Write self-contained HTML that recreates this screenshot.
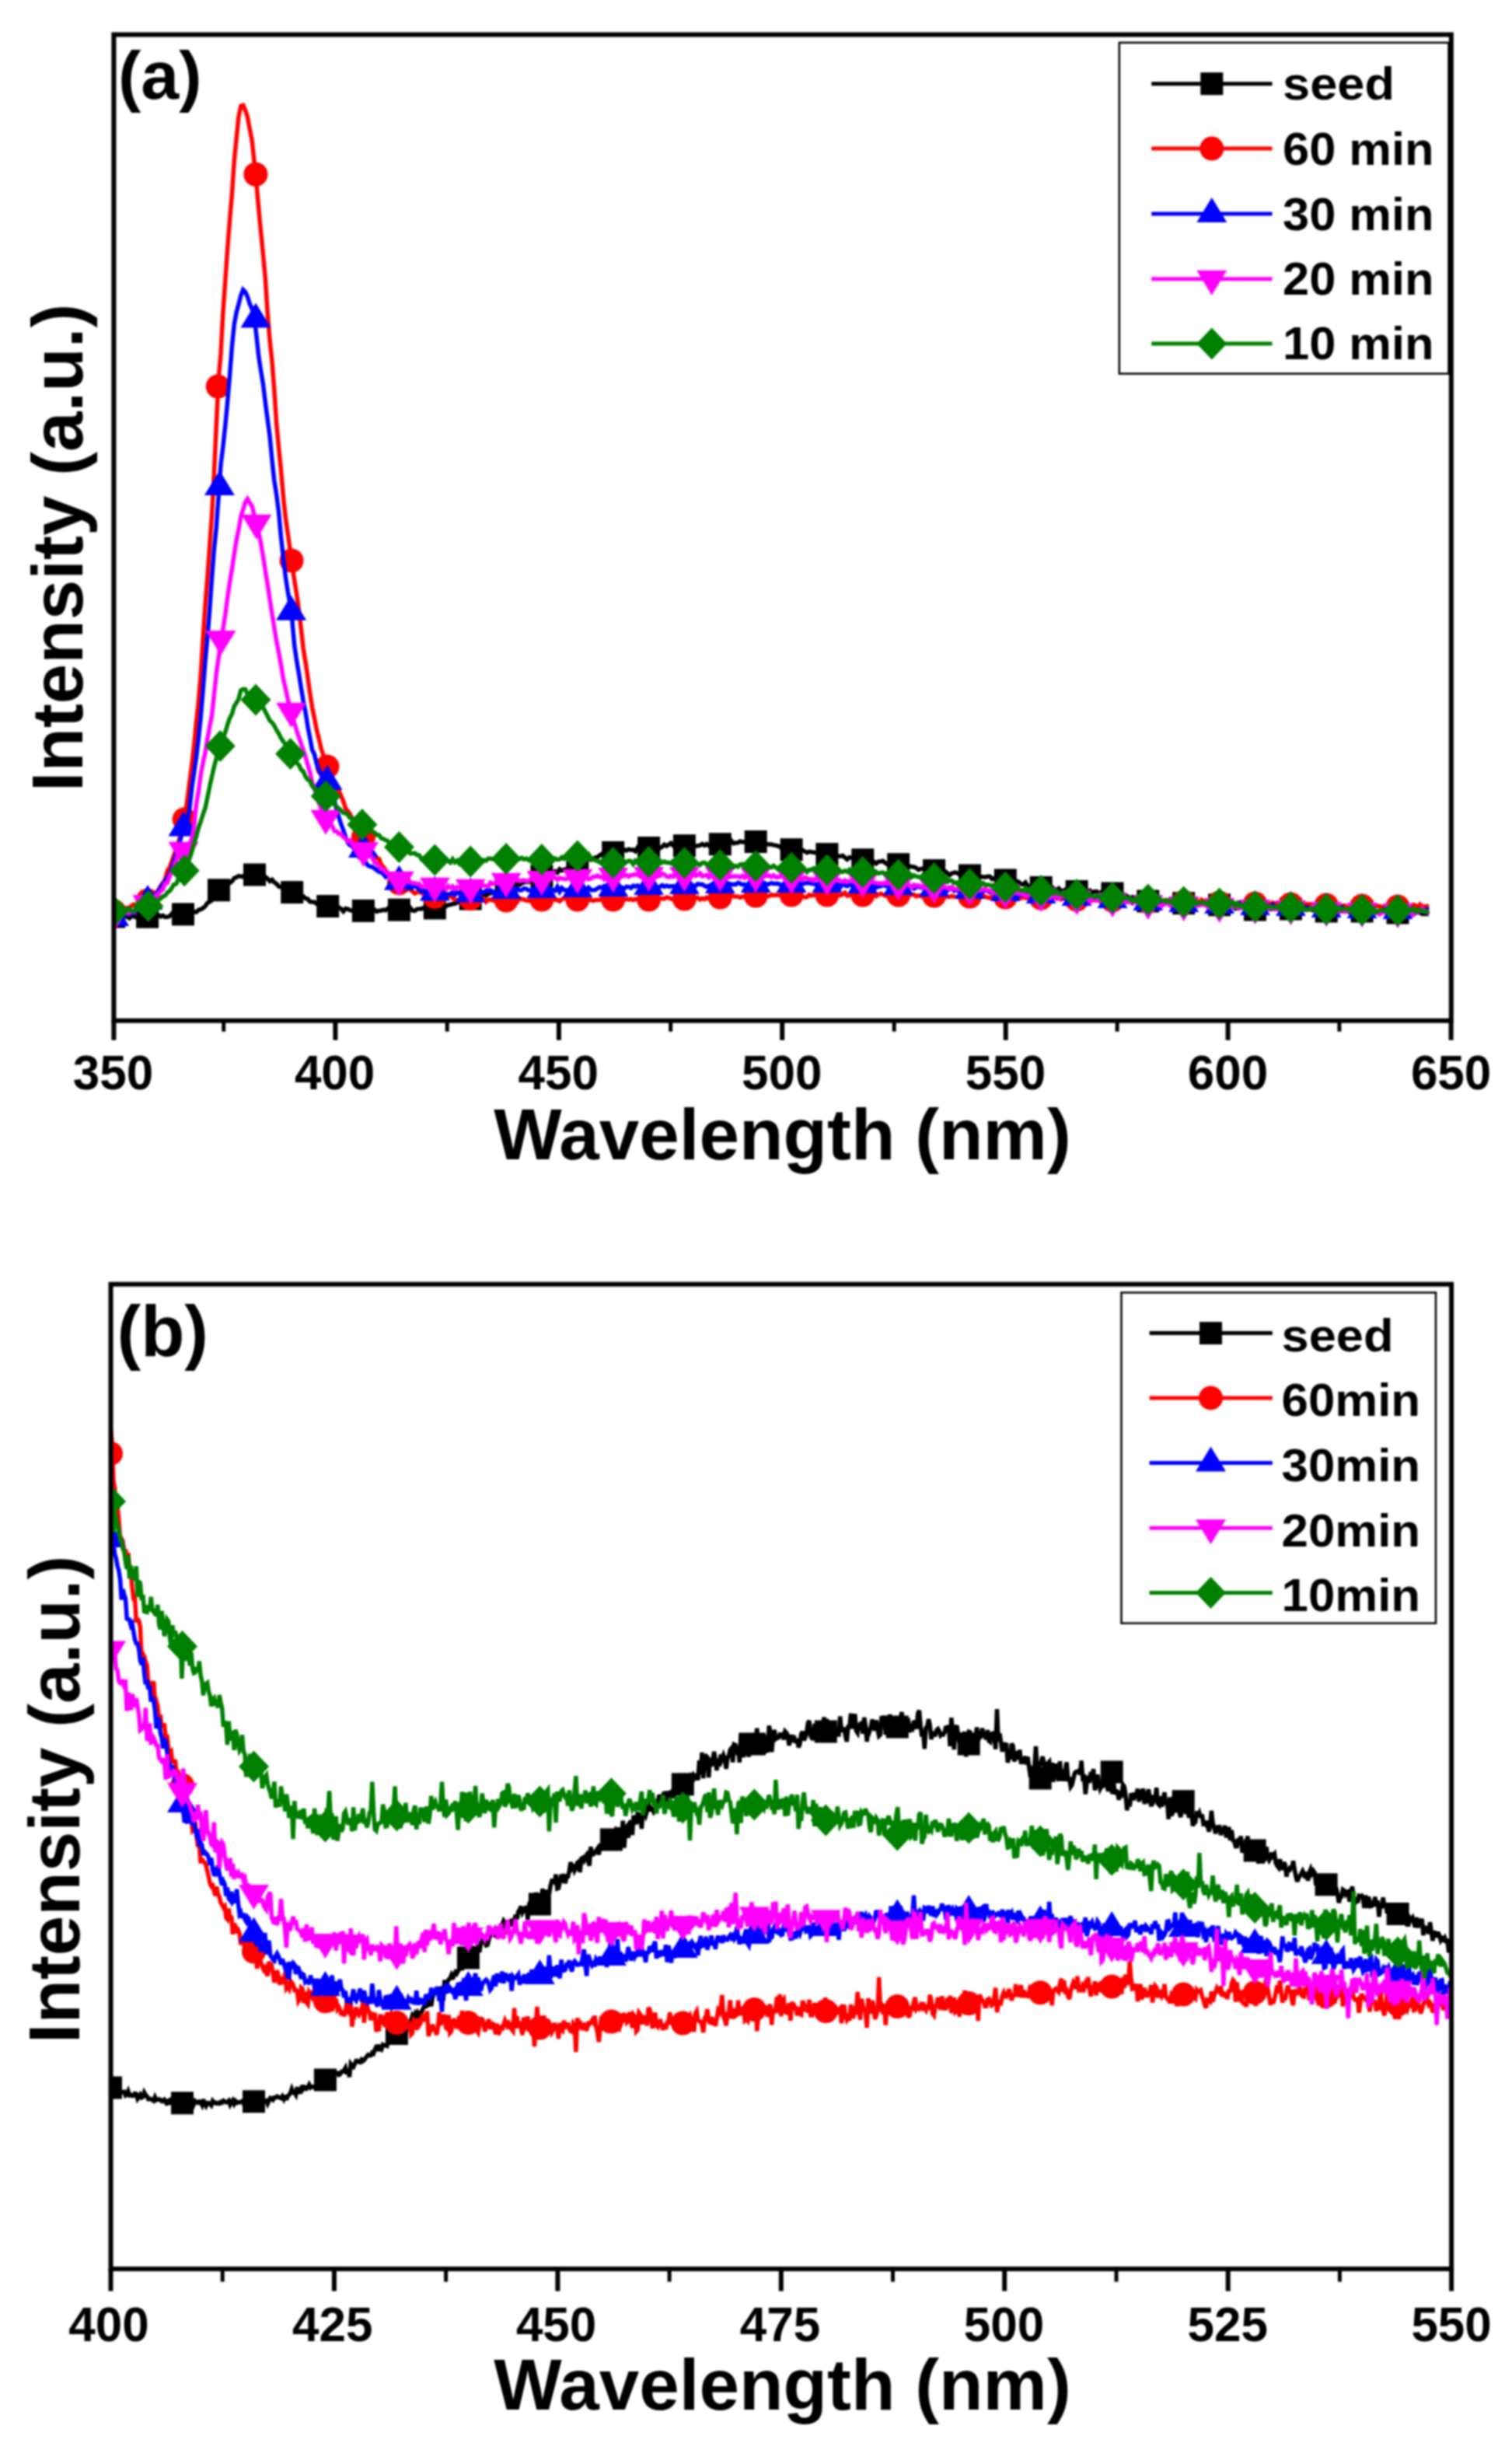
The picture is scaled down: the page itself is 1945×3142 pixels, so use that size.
<!DOCTYPE html>
<html lang="en"><head><meta charset="utf-8"><title>PL spectra</title>
<style>html,body{margin:0;padding:0;background:#fff}svg{display:block;filter:blur(0.9px)}</style>
</head><body>
<svg width="1945" height="3142" viewBox="0 0 1945 3142" font-family='"Liberation Sans", sans-serif' font-weight="bold">
<rect width="1945" height="3142" fill="#fff"/>
<clipPath id="ca"><rect x="146.4" y="44.5" width="1720.4" height="1268.2"/></clipPath>
<g clip-path="url(#ca)">
<polyline points="146.4,1179 149.3,1179.4 152.1,1178.7 155,1177.9 157.9,1178.5 160.7,1177.8 163.6,1179.2 166.5,1180.9 169.3,1178.5 172.2,1178.4 175.1,1179.8 177.9,1179.7 180.8,1179.3 183.7,1178 186.5,1179.2 189.4,1180.1 192.3,1177.5 195.1,1178.6 198,1176.7 200.9,1177.5 203.7,1176.7 206.6,1178.8 209.5,1177.4 212.3,1179.4 215.2,1179.2 218.1,1178.6 221,1175.3 223.8,1177.4 226.7,1177.6 229.6,1177.2 232.4,1174.5 235.3,1175.3 238.2,1174.1 241,1173.8 243.9,1175.6 246.8,1172.6 249.6,1172.8 252.5,1173.2 255.4,1170.2 258.2,1169.6 261.1,1167.9 264,1165.5 266.8,1161.3 269.7,1159.9 272.6,1157.8 275.4,1150 278.3,1149.3 281.2,1145.3 284,1141.9 286.9,1143.4 289.8,1140.1 292.6,1135.8 295.5,1135.5 298.4,1133.5 301.2,1129.5 304.1,1128.3 307,1126.6 309.8,1127.1 312.7,1127.7 315.6,1124.7 318.4,1125.6 321.3,1124.5 324.2,1125.2 327,1123.5 329.9,1124.4 332.8,1125.6 335.6,1128 338.5,1129.6 341.4,1127.8 344.2,1130.1 347.1,1133.4 350,1131.4 352.8,1134.8 355.7,1136.7 358.6,1140 361.4,1140.9 364.3,1141.2 367.2,1142.8 370.1,1144.5 372.9,1148.3 375.8,1147.1 378.7,1148.6 381.5,1150.7 384.4,1151.5 387.3,1152.7 390.1,1152.8 393,1155.5 395.9,1156.3 398.7,1159.6 401.6,1160.1 404.5,1160.3 407.3,1162.3 410.2,1162 413.1,1164.7 415.9,1164.2 418.8,1165.6 421.7,1163.8 424.5,1166.5 427.4,1164.4 430.3,1164.5 433.1,1167.3 436,1167 438.9,1168.9 441.7,1172.1 444.6,1168.5 447.5,1169.2 450.3,1170.6 453.2,1171.3 456.1,1170.7 458.9,1170.8 461.8,1172.2 464.7,1172 467.5,1170.1 470.4,1171.3 473.3,1171.4 476.1,1170 479,1171.6 481.9,1170.1 484.7,1172.4 487.6,1171.3 490.5,1171.1 493.3,1170.1 496.2,1170.7 499.1,1168.1 501.9,1169.1 504.8,1171 507.7,1167.6 510.6,1171.4 513.4,1167.9 516.3,1171.1 519.2,1168.9 522,1170.9 524.9,1170 527.8,1167.7 530.6,1171.2 533.5,1171.4 536.4,1169.3 539.2,1168.9 542.1,1168.9 545,1167.7 547.8,1170.2 550.7,1167.9 553.6,1168.4 556.4,1167.2 559.3,1167.2 562.2,1166 565,1168.9 567.9,1166.6 570.8,1167.4 573.6,1165.5 576.5,1163.9 579.4,1163.5 582.2,1162.4 585.1,1162.2 588,1160.8 590.8,1160 593.7,1157.7 596.6,1157.5 599.4,1159.8 602.3,1155.9 605.2,1154.6 608,1155.7 610.9,1156.3 613.8,1151.8 616.6,1152.6 619.5,1151.3 622.4,1149 625.2,1151.5 628.1,1149.7 631,1149 633.8,1147.1 636.7,1147.9 639.6,1145.8 642.4,1145.4 645.3,1143.3 648.2,1142.3 651.1,1144.7 653.9,1141.4 656.8,1141.5 659.7,1140.1 662.5,1138.6 665.4,1137.5 668.3,1138 671.1,1135.8 674,1134.9 676.9,1134.1 679.7,1134.6 682.6,1132.9 685.5,1131.5 688.3,1129.3 691.2,1127.2 694.1,1129.2 696.9,1128.3 699.8,1125.9 702.7,1125.8 705.5,1125.2 708.4,1124.3 711.3,1123.5 714.1,1120.7 717,1122.4 719.9,1117.9 722.7,1119.7 725.6,1118.3 728.5,1117.8 731.3,1118.2 734.2,1116.8 737.1,1112.4 739.9,1110.8 742.8,1113.1 745.7,1109.7 748.5,1110 751.4,1110 754.3,1105.7 757.1,1104 760,1105.9 762.9,1104.5 765.7,1103 768.6,1102.3 771.5,1100.1 774.3,1098.3 777.2,1099.1 780.1,1097.2 782.9,1095.5 785.8,1097.6 788.7,1096.3 791.5,1096.4 794.4,1094.1 797.3,1094 800.2,1093.2 803,1092.9 805.9,1093.9 808.8,1092.2 811.6,1093.3 814.5,1092.9 817.4,1094.8 820.2,1090 823.1,1092.7 826,1091.2 828.8,1091 831.7,1088.9 834.6,1089.9 837.4,1091.2 840.3,1089.9 843.2,1089.9 846,1089.3 848.9,1090.9 851.8,1089.2 854.6,1086.2 857.5,1088 860.4,1086.2 863.2,1084.4 866.1,1087.7 869,1090 871.8,1088.2 874.7,1086.5 877.6,1086.6 880.4,1089.2 883.3,1087.8 886.2,1087.5 889,1087.2 891.9,1087.2 894.8,1088.1 897.6,1087.7 900.5,1087.1 903.4,1085.4 906.2,1087.3 909.1,1085.6 912,1087.8 914.8,1084.6 917.7,1085.9 920.6,1086 923.4,1084.1 926.3,1087.9 929.2,1087.4 932,1084.7 934.9,1086.1 937.8,1085.3 940.7,1081.2 943.5,1084.7 946.4,1084 949.3,1083.9 952.1,1082.1 955,1082.9 957.9,1082.8 960.7,1084.4 963.6,1083.2 966.5,1082.6 969.3,1084.5 972.2,1081.8 975.1,1082.1 977.9,1080.5 980.8,1085.3 983.7,1085 986.5,1085.6 989.4,1085.9 992.3,1086 995.1,1086.9 998,1087.2 1000.9,1088.1 1003.7,1089.3 1006.6,1092 1009.5,1091.6 1012.3,1091.5 1015.2,1091.4 1018.1,1091.9 1020.9,1095.2 1023.8,1094.2 1026.7,1094.1 1029.5,1093.9 1032.4,1093.3 1035.3,1095 1038.1,1096.6 1041,1095.3 1043.9,1095.8 1046.7,1096.2 1049.6,1096.9 1052.5,1095 1055.3,1097.2 1058.2,1096.7 1061.1,1099.4 1063.9,1097.6 1066.8,1099.8 1069.7,1101.4 1072.5,1099.5 1075.4,1099.6 1078.3,1101 1081.2,1101.3 1084,1100.4 1086.9,1102.8 1089.8,1105.3 1092.6,1102.8 1095.5,1103.3 1098.4,1102.7 1101.2,1104.9 1104.1,1103.3 1107,1103.9 1109.8,1107.5 1112.7,1105 1115.6,1108 1118.4,1108.9 1121.3,1107.7 1124.2,1108.4 1127,1110.6 1129.9,1108.1 1132.8,1107.9 1135.6,1107.3 1138.5,1109.5 1141.4,1111.7 1144.2,1111.4 1147.1,1109.3 1150,1109.8 1152.8,1110.6 1155.7,1112.1 1158.6,1111.9 1161.4,1112.9 1164.3,1113.4 1167.2,1113.2 1170,1114 1172.9,1114.8 1175.8,1115 1178.6,1116.3 1181.5,1118.6 1184.4,1117.4 1187.2,1117.2 1190.1,1115.5 1193,1118.7 1195.8,1116.1 1198.7,1117.3 1201.6,1120.7 1204.4,1121 1207.3,1120.3 1210.2,1118.7 1213,1120.8 1215.9,1120.8 1218.8,1122.9 1221.7,1125.5 1224.5,1123.2 1227.4,1122.3 1230.3,1122.2 1233.1,1124 1236,1124.2 1238.9,1123.3 1241.7,1125.4 1244.6,1124.1 1247.5,1127.4 1250.3,1127.8 1253.2,1128.2 1256.1,1126.5 1258.9,1128.1 1261.8,1127.6 1264.7,1127.7 1267.5,1128.1 1270.4,1127.2 1273.3,1127.3 1276.1,1130.6 1279,1129.7 1281.9,1130.6 1284.7,1132 1287.6,1128.9 1290.5,1130.5 1293.3,1132.2 1296.2,1133 1299.1,1132.5 1301.9,1134.9 1304.8,1134.5 1307.7,1133.2 1310.5,1134.3 1313.4,1137.2 1316.3,1137.4 1319.1,1135 1322,1139.9 1324.9,1139.5 1327.7,1141.1 1330.6,1139.4 1333.5,1140.1 1336.3,1139.5 1339.2,1144.7 1342.1,1141.6 1344.9,1144.3 1347.8,1141.8 1350.7,1143.2 1353.5,1141.2 1356.4,1143.2 1359.3,1145.3 1362.1,1142.7 1365,1146.1 1367.9,1145.4 1370.8,1143.9 1373.6,1144.9 1376.5,1145.2 1379.4,1146 1382.2,1145.6 1385.1,1145.4 1388,1146.3 1390.8,1145.5 1393.7,1145.4 1396.6,1147.1 1399.4,1148.5 1402.3,1145.4 1405.2,1147.6 1408,1146.8 1410.9,1146.5 1413.8,1149 1416.6,1147.4 1419.5,1150.2 1422.4,1147.4 1425.2,1149.1 1428.1,1148.5 1431,1148 1433.8,1150.1 1436.7,1149.6 1439.6,1151.1 1442.4,1150.9 1445.3,1150.2 1448.2,1152.2 1451,1153.2 1453.9,1155.2 1456.8,1153.6 1459.6,1155.5 1462.5,1154.1 1465.4,1157.9 1468.2,1156.3 1471.1,1155.9 1474,1158.6 1476.8,1160.4 1479.7,1157.3 1482.6,1158.1 1485.4,1158.7 1488.3,1158.4 1491.2,1160.6 1494,1159.2 1496.9,1159.5 1499.8,1161.3 1502.6,1159.8 1505.5,1161.4 1508.4,1159.7 1511.3,1159.6 1514.1,1158.9 1517,1163.8 1519.9,1161.1 1522.7,1162 1525.6,1161.8 1528.5,1162.2 1531.3,1162.2 1534.2,1164.7 1537.1,1161 1539.9,1160.4 1542.8,1161.2 1545.7,1160.9 1548.5,1163.7 1551.4,1164 1554.3,1161.8 1557.1,1161.3 1560,1162.8 1562.9,1165.3 1565.7,1159.9 1568.6,1164.5 1571.5,1162.6 1574.3,1165.7 1577.2,1163.4 1580.1,1164.8 1582.9,1163.7 1585.8,1165 1588.7,1168.6 1591.5,1168.4 1594.4,1167.3 1597.3,1167.2 1600.1,1166.3 1603,1168.7 1605.9,1169.5 1608.7,1169.7 1611.6,1169.8 1614.5,1168.5 1617.3,1169.9 1620.2,1169.9 1623.1,1171.6 1625.9,1172.3 1628.8,1169.6 1631.7,1168.7 1634.5,1169.5 1637.4,1168.7 1640.3,1168.4 1643.1,1169.2 1646,1167.9 1648.9,1169.9 1651.8,1169 1654.6,1169.4 1657.5,1168.8 1660.4,1168.1 1663.2,1167.8 1666.1,1168.8 1669,1168.6 1671.8,1169.8 1674.7,1169.7 1677.6,1168.2 1680.4,1170.3 1683.3,1168.8 1686.2,1170 1689,1170.7 1691.9,1168.6 1694.8,1171.7 1697.6,1171.9 1700.5,1171.7 1703.4,1171.4 1706.2,1171.5 1709.1,1170.7 1712,1171.6 1714.8,1171.3 1717.7,1172.1 1720.6,1170.4 1723.4,1172.3 1726.3,1172.2 1729.2,1171.8 1732,1171.4 1734.9,1172.7 1737.8,1169.8 1740.6,1172.6 1743.5,1172.3 1746.4,1172.4 1749.2,1172.5 1752.1,1171.2 1755,1171.7 1757.8,1172.9 1760.7,1172.7 1763.6,1172.5 1766.4,1170.4 1769.3,1173.2 1772.2,1174.2 1775,1174.1 1777.9,1173.3 1780.8,1171.1 1783.6,1174.5 1786.5,1173.3 1789.4,1170.3 1792.2,1174.3 1795.1,1172 1798,1172.3 1800.9,1173.3 1803.7,1175.8 1806.6,1173.8 1809.5,1174.7 1812.3,1176.7 1815.2,1176.6 1818.1,1174.4 1820.9,1174.3 1823.8,1173.1 1826.7,1173.9 1829.5,1175.4 1832.4,1175.4 1835.3,1175.1 1838.1,1176.3" fill="none" stroke="#000000" stroke-width="5.5" stroke-linejoin="miter" stroke-miterlimit="3"/>
<rect x="132.1" y="1164.5" width="29" height="29" fill="#000000"/>
<rect x="175.1" y="1164.7" width="29" height="29" fill="#000000"/>
<rect x="221" y="1161.4" width="29" height="29" fill="#000000"/>
<rect x="267" y="1130.3" width="29" height="29" fill="#000000"/>
<rect x="313" y="1110.5" width="29" height="29" fill="#000000"/>
<rect x="361.2" y="1133.1" width="29" height="29" fill="#000000"/>
<rect x="407.2" y="1151" width="29" height="29" fill="#000000"/>
<rect x="452.9" y="1156.9" width="29" height="29" fill="#000000"/>
<rect x="498.9" y="1155.7" width="29" height="29" fill="#000000"/>
<rect x="544.8" y="1153.5" width="29" height="29" fill="#000000"/>
<rect x="590.7" y="1141.5" width="29" height="29" fill="#000000"/>
<rect x="636.6" y="1128.5" width="29" height="29" fill="#000000"/>
<rect x="682.4" y="1112.5" width="29" height="29" fill="#000000"/>
<rect x="728.3" y="1097.5" width="29" height="29" fill="#000000"/>
<rect x="774.2" y="1081.9" width="29" height="29" fill="#000000"/>
<rect x="820.1" y="1076" width="29" height="29" fill="#000000"/>
<rect x="865.9" y="1073.2" width="29" height="29" fill="#000000"/>
<rect x="911.8" y="1071.2" width="29" height="29" fill="#000000"/>
<rect x="957.7" y="1068" width="29" height="29" fill="#000000"/>
<rect x="1003.6" y="1078.2" width="29" height="29" fill="#000000"/>
<rect x="1049.4" y="1084.1" width="29" height="29" fill="#000000"/>
<rect x="1095.3" y="1091.3" width="29" height="29" fill="#000000"/>
<rect x="1141.2" y="1097.2" width="29" height="29" fill="#000000"/>
<rect x="1187.1" y="1105.1" width="29" height="29" fill="#000000"/>
<rect x="1233" y="1111.5" width="29" height="29" fill="#000000"/>
<rect x="1278.8" y="1117.5" width="29" height="29" fill="#000000"/>
<rect x="1324.7" y="1126.9" width="29" height="29" fill="#000000"/>
<rect x="1370.6" y="1132" width="29" height="29" fill="#000000"/>
<rect x="1416.5" y="1134.5" width="29" height="29" fill="#000000"/>
<rect x="1462.3" y="1144.5" width="29" height="29" fill="#000000"/>
<rect x="1508.2" y="1147.2" width="29" height="29" fill="#000000"/>
<rect x="1554.1" y="1149.3" width="29" height="29" fill="#000000"/>
<rect x="1600" y="1155.5" width="29" height="29" fill="#000000"/>
<rect x="1645.9" y="1154.5" width="29" height="29" fill="#000000"/>
<rect x="1691.7" y="1157.5" width="29" height="29" fill="#000000"/>
<rect x="1737.6" y="1157.5" width="29" height="29" fill="#000000"/>
<rect x="1783.5" y="1159.5" width="29" height="29" fill="#000000"/>
<polyline points="146.4,1171 149.3,1171.4 152.1,1171.8 155,1171 157.9,1170.9 160.7,1169.3 163.6,1167.5 166.5,1167.6 169.3,1164.9 172.2,1163.2 175.1,1165.2 177.9,1163.4 180.8,1162.8 183.7,1159 186.5,1159.4 189.4,1157.6 192.3,1155.4 195.1,1151.2 198,1150.9 200.9,1149.2 203.7,1144.9 206.6,1139.5 209.5,1135.8 212.3,1131.5 215.2,1120.2 218.1,1115.7 221,1108 223.8,1099.5 226.7,1092.3 229.6,1083.2 232.4,1073.2 235.3,1062.5 238.2,1049.7 241,1028 243.9,1005.8 246.8,983.2 249.6,958.7 252.5,929.1 255.4,901.9 258.2,868.4 261.1,822.7 264,778.4 266.8,743.4 269.7,702.1 272.6,662 275.4,608.8 278.3,546.3 281.2,486.9 284,455.5 286.9,401.7 289.8,361.2 292.6,320.4 295.5,283.8 298.4,249.9 301.2,207.8 304.1,178.4 307,149.9 309.8,136.3 312.7,135.4 315.6,141.8 318.4,150.4 321.3,166 324.2,180.8 327,207.2 329.9,236 332.8,269 335.6,298.2 338.5,327.6 341.4,359.1 344.2,402.7 347.1,437.9 350,465.5 352.8,501.4 355.7,545.2 358.6,576 361.4,603.9 364.3,637.4 367.2,664.8 370.1,685.2 372.9,705.2 375.8,726.6 378.7,746.1 381.5,763.6 384.4,783.7 387.3,808.4 390.1,833.9 393,851.5 395.9,871.1 398.7,891.3 401.6,909.8 404.5,923.7 407.3,938.4 410.2,949.8 413.1,962.5 415.9,971.2 418.8,982 421.7,987.5 424.5,993.3 427.4,1000.4 430.3,1006.9 433.1,1014.3 436,1017.3 438.9,1023.9 441.7,1030.4 444.6,1039.8 447.5,1043.1 450.3,1047 453.2,1053.2 456.1,1059.9 458.9,1061.8 461.8,1066.4 464.7,1073.1 467.5,1076.6 470.4,1081.4 473.3,1084.4 476.1,1092.1 479,1096.3 481.9,1099.3 484.7,1103.8 487.6,1104.6 490.5,1112.2 493.3,1115 496.2,1119.6 499.1,1123.5 501.9,1125.4 504.8,1126.6 507.7,1132 510.6,1132.8 513.4,1135.3 516.3,1136.6 519.2,1138.6 522,1137.7 524.9,1143.8 527.8,1144 530.6,1146.5 533.5,1149 536.4,1147.7 539.2,1146.4 542.1,1148.7 545,1149.2 547.8,1150.9 550.7,1152.4 553.6,1150.3 556.4,1153.7 559.3,1151.6 562.2,1154.2 565,1153.9 567.9,1153.8 570.8,1154.2 573.6,1153.7 576.5,1153.8 579.4,1152.5 582.2,1154.7 585.1,1157.3 588,1157.5 590.8,1156.8 593.7,1156.1 596.6,1154.4 599.4,1157.2 602.3,1155.4 605.2,1155.5 608,1155.4 610.9,1156 613.8,1155.5 616.6,1156.2 619.5,1155.1 622.4,1156.2 625.2,1159.8 628.1,1157 631,1156.9 633.8,1158.1 636.7,1158.5 639.6,1156.3 642.4,1157.6 645.3,1159.1 648.2,1158.3 651.1,1158.2 653.9,1160 656.8,1157.1 659.7,1158 662.5,1157.2 665.4,1159.7 668.3,1155.1 671.1,1156.7 674,1156.8 676.9,1158.3 679.7,1158.1 682.6,1159 685.5,1155.1 688.3,1158.1 691.2,1156.7 694.1,1156.1 696.9,1157.7 699.8,1155.8 702.7,1154.3 705.5,1156.5 708.4,1155.1 711.3,1156.2 714.1,1157.5 717,1157.4 719.9,1159.1 722.7,1156.7 725.6,1155 728.5,1156 731.3,1155.8 734.2,1155.4 737.1,1157.6 739.9,1156.2 742.8,1154.4 745.7,1157.9 748.5,1156.9 751.4,1157.5 754.3,1157.1 757.1,1157.8 760,1157 762.9,1158.6 765.7,1157.6 768.6,1157.5 771.5,1157.5 774.3,1155.1 777.2,1156.8 780.1,1156.7 782.9,1157.3 785.8,1155.2 788.7,1159.1 791.5,1157.1 794.4,1155.4 797.3,1154.8 800.2,1156.6 803,1156.9 805.9,1156.1 808.8,1157.1 811.6,1156.2 814.5,1157.7 817.4,1156.1 820.2,1156.9 823.1,1158.3 826,1160.3 828.8,1155.7 831.7,1156.4 834.6,1155.9 837.4,1158 840.3,1155.5 843.2,1156.3 846,1156.9 848.9,1155.6 851.8,1155.6 854.6,1156.1 857.5,1153.9 860.4,1154.7 863.2,1156 866.1,1156.6 869,1156.1 871.8,1154 874.7,1155.6 877.6,1157.1 880.4,1156.7 883.3,1155.8 886.2,1154.7 889,1156.5 891.9,1154.8 894.8,1154 897.6,1154.3 900.5,1157.1 903.4,1155.4 906.2,1156.5 909.1,1154.2 912,1155.9 914.8,1153.7 917.7,1154.2 920.6,1157.5 923.4,1155.1 926.3,1153.3 929.2,1153.8 932,1154.2 934.9,1155.2 937.8,1152.8 940.7,1151.1 943.5,1152.8 946.4,1153.1 949.3,1153.1 952.1,1154.5 955,1153.1 957.9,1153.6 960.7,1151 963.6,1153.4 966.5,1154.9 969.3,1153.1 972.2,1152.3 975.1,1152.1 977.9,1154.2 980.8,1150.5 983.7,1151.5 986.5,1152.2 989.4,1152.5 992.3,1150.8 995.1,1151.7 998,1150.9 1000.9,1151.4 1003.7,1151 1006.6,1149.6 1009.5,1151 1012.3,1152.2 1015.2,1149.7 1018.1,1150.7 1020.9,1151.9 1023.8,1149.6 1026.7,1151.2 1029.5,1149.6 1032.4,1152.5 1035.3,1154 1038.1,1153.6 1041,1150.7 1043.9,1152 1046.7,1151.2 1049.6,1151.1 1052.5,1153 1055.3,1149.3 1058.2,1152.4 1061.1,1150.9 1063.9,1152.8 1066.8,1151.2 1069.7,1150.1 1072.5,1151.4 1075.4,1152 1078.3,1151 1081.2,1151.6 1084,1150.3 1086.9,1148.2 1089.8,1152.2 1092.6,1151.9 1095.5,1151.2 1098.4,1151.1 1101.2,1152.3 1104.1,1150.4 1107,1150.1 1109.8,1150.8 1112.7,1152.5 1115.6,1149.2 1118.4,1152.5 1121.3,1150.2 1124.2,1149.6 1127,1152.6 1129.9,1150.9 1132.8,1149.3 1135.6,1150.5 1138.5,1152.2 1141.4,1152.5 1144.2,1150.4 1147.1,1151.5 1150,1151.9 1152.8,1150.2 1155.7,1151.5 1158.6,1151 1161.4,1150.3 1164.3,1150.4 1167.2,1151.2 1170,1151.2 1172.9,1150.5 1175.8,1150.7 1178.6,1152.8 1181.5,1151.7 1184.4,1152.7 1187.2,1153.2 1190.1,1152.5 1193,1154.7 1195.8,1150.8 1198.7,1153 1201.6,1151.6 1204.4,1154.5 1207.3,1154.3 1210.2,1149.6 1213,1151 1215.9,1153.2 1218.8,1153.4 1221.7,1153.4 1224.5,1152.4 1227.4,1153.2 1230.3,1153.5 1233.1,1152.6 1236,1154.1 1238.9,1149.9 1241.7,1153.7 1244.6,1151.6 1247.5,1154.2 1250.3,1152.8 1253.2,1152 1256.1,1153.7 1258.9,1152.1 1261.8,1152.1 1264.7,1151.3 1267.5,1153.4 1270.4,1154.1 1273.3,1154.9 1276.1,1153.4 1279,1155 1281.9,1153.8 1284.7,1153.7 1287.6,1154.6 1290.5,1155.3 1293.3,1153.6 1296.2,1153.7 1299.1,1153.9 1301.9,1154.3 1304.8,1153.1 1307.7,1155.6 1310.5,1153.8 1313.4,1155 1316.3,1153.4 1319.1,1155 1322,1155.1 1324.9,1154.1 1327.7,1157.3 1330.6,1155.3 1333.5,1157.2 1336.3,1156.2 1339.2,1154.1 1342.1,1154.6 1344.9,1155.8 1347.8,1155.4 1350.7,1155.5 1353.5,1155.2 1356.4,1153.4 1359.3,1155.6 1362.1,1153.1 1365,1156.6 1367.9,1155.3 1370.8,1155.5 1373.6,1156.3 1376.5,1157 1379.4,1154.9 1382.2,1154.6 1385.1,1155.6 1388,1154.4 1390.8,1155.9 1393.7,1159.3 1396.6,1155.9 1399.4,1158.2 1402.3,1155.6 1405.2,1157.9 1408,1157.1 1410.9,1157.5 1413.8,1158.4 1416.6,1160 1419.5,1158 1422.4,1158 1425.2,1156.6 1428.1,1158.7 1431,1157.7 1433.8,1159.1 1436.7,1158.1 1439.6,1160.5 1442.4,1155.7 1445.3,1157.9 1448.2,1159.5 1451,1158 1453.9,1157.5 1456.8,1158.2 1459.6,1156.8 1462.5,1158.8 1465.4,1161.9 1468.2,1160.3 1471.1,1157.4 1474,1157.8 1476.8,1158.5 1479.7,1160.4 1482.6,1158.1 1485.4,1158.3 1488.3,1160.4 1491.2,1160.4 1494,1158.9 1496.9,1158 1499.8,1157.5 1502.6,1158.7 1505.5,1156.7 1508.4,1160.7 1511.3,1158.9 1514.1,1160.4 1517,1162.3 1519.9,1161.5 1522.7,1158.5 1525.6,1161.2 1528.5,1161.6 1531.3,1159.2 1534.2,1159 1537.1,1160.2 1539.9,1158.3 1542.8,1162.3 1545.7,1157.4 1548.5,1159.1 1551.4,1160.3 1554.3,1160.4 1557.1,1161 1560,1161.2 1562.9,1160.6 1565.7,1162.4 1568.6,1158.2 1571.5,1161.1 1574.3,1160.2 1577.2,1161.4 1580.1,1161.5 1582.9,1160.1 1585.8,1160.5 1588.7,1162.5 1591.5,1162 1594.4,1160.7 1597.3,1164.3 1600.1,1164.7 1603,1159.8 1605.9,1162.2 1608.7,1165.1 1611.6,1163 1614.5,1162.3 1617.3,1161.8 1620.2,1161.4 1623.1,1161.9 1625.9,1161.5 1628.8,1163.3 1631.7,1161.9 1634.5,1161.9 1637.4,1160.9 1640.3,1162.5 1643.1,1161.5 1646,1162.5 1648.9,1164.1 1651.8,1163.3 1654.6,1163.5 1657.5,1163.4 1660.4,1163.1 1663.2,1162.9 1666.1,1162.7 1669,1164.2 1671.8,1161.8 1674.7,1165.1 1677.6,1163.4 1680.4,1162.5 1683.3,1162.9 1686.2,1162.7 1689,1163.8 1691.9,1162.8 1694.8,1165.2 1697.6,1162.8 1700.5,1160.9 1703.4,1163 1706.2,1161.4 1709.1,1164 1712,1165.5 1714.8,1165 1717.7,1162.5 1720.6,1163.3 1723.4,1166.7 1726.3,1164.9 1729.2,1164.5 1732,1165.9 1734.9,1167.8 1737.8,1166.4 1740.6,1164.9 1743.5,1165.3 1746.4,1165.7 1749.2,1164.1 1752.1,1163.6 1755,1165.1 1757.8,1163.9 1760.7,1165.1 1763.6,1165.4 1766.4,1168.4 1769.3,1164.4 1772.2,1165.4 1775,1165.4 1777.9,1166.3 1780.8,1167.1 1783.6,1165.2 1786.5,1164.8 1789.4,1163.8 1792.2,1164.8 1795.1,1166.7 1798,1166.1 1800.9,1164.7 1803.7,1165.5 1806.6,1166 1809.5,1166.7 1812.3,1165.2 1815.2,1165.7 1818.1,1163.6 1820.9,1164.5 1823.8,1168.1 1826.7,1163.2 1829.5,1165.6 1832.4,1166.3 1835.3,1165.5 1838.1,1164.9" fill="none" stroke="#ff0000" stroke-width="5.5" stroke-linejoin="miter" stroke-miterlimit="3"/>
<circle cx="146.6" cy="1172" r="15.5" fill="#ff0000"/>
<circle cx="190" cy="1158" r="15.5" fill="#ff0000"/>
<circle cx="237.2" cy="1053.7" r="15.5" fill="#ff0000"/>
<circle cx="280.3" cy="497" r="15.5" fill="#ff0000"/>
<circle cx="328.9" cy="224.3" r="15.5" fill="#ff0000"/>
<circle cx="375" cy="721" r="15.5" fill="#ff0000"/>
<circle cx="421" cy="986" r="15.5" fill="#ff0000"/>
<circle cx="467.5" cy="1076" r="15.5" fill="#ff0000"/>
<circle cx="513.4" cy="1135.7" r="15.5" fill="#ff0000"/>
<circle cx="559.3" cy="1153.6" r="15.5" fill="#ff0000"/>
<circle cx="605.2" cy="1155.6" r="15.5" fill="#ff0000"/>
<circle cx="651.1" cy="1158" r="15.5" fill="#ff0000"/>
<circle cx="696.9" cy="1157" r="15.5" fill="#ff0000"/>
<circle cx="742.8" cy="1157" r="15.5" fill="#ff0000"/>
<circle cx="788.7" cy="1157" r="15.5" fill="#ff0000"/>
<circle cx="834.6" cy="1157" r="15.5" fill="#ff0000"/>
<circle cx="880.4" cy="1156" r="15.5" fill="#ff0000"/>
<circle cx="926.3" cy="1154" r="15.5" fill="#ff0000"/>
<circle cx="972.2" cy="1152" r="15.5" fill="#ff0000"/>
<circle cx="1018.1" cy="1151" r="15.5" fill="#ff0000"/>
<circle cx="1063.9" cy="1151" r="15.5" fill="#ff0000"/>
<circle cx="1109.8" cy="1151" r="15.5" fill="#ff0000"/>
<circle cx="1155.7" cy="1151" r="15.5" fill="#ff0000"/>
<circle cx="1201.6" cy="1152" r="15.5" fill="#ff0000"/>
<circle cx="1247.5" cy="1153" r="15.5" fill="#ff0000"/>
<circle cx="1293.3" cy="1154" r="15.5" fill="#ff0000"/>
<circle cx="1339.2" cy="1155" r="15.5" fill="#ff0000"/>
<circle cx="1385.1" cy="1157" r="15.5" fill="#ff0000"/>
<circle cx="1431" cy="1158" r="15.5" fill="#ff0000"/>
<circle cx="1476.8" cy="1159" r="15.5" fill="#ff0000"/>
<circle cx="1522.7" cy="1160" r="15.5" fill="#ff0000"/>
<circle cx="1568.6" cy="1161" r="15.5" fill="#ff0000"/>
<circle cx="1614.5" cy="1162" r="15.5" fill="#ff0000"/>
<circle cx="1660.4" cy="1163" r="15.5" fill="#ff0000"/>
<circle cx="1706.2" cy="1164" r="15.5" fill="#ff0000"/>
<circle cx="1752.1" cy="1165" r="15.5" fill="#ff0000"/>
<circle cx="1798" cy="1166" r="15.5" fill="#ff0000"/>
<polyline points="146.4,1179.9 149.3,1179.8 152.1,1179.4 155,1176.5 157.9,1178 160.7,1176.2 163.6,1175.6 166.5,1175.6 169.3,1175.1 172.2,1174.2 175.1,1170.9 177.9,1170.9 180.8,1169.1 183.7,1166.8 186.5,1164.8 189.4,1160.3 192.3,1157.8 195.1,1156.5 198,1150.9 200.9,1149.9 203.7,1145.7 206.6,1142.3 209.5,1136.6 212.3,1133.3 215.2,1129.1 218.1,1123.9 221,1116.8 223.8,1107.4 226.7,1098.8 229.6,1088.5 232.4,1078.5 235.3,1066.4 238.2,1059.7 241,1054.6 243.9,1039.7 246.8,1013.1 249.6,993.9 252.5,974.1 255.4,949.7 258.2,922.5 261.1,887.8 264,850.9 266.8,820 269.7,784.7 272.6,742.9 275.4,706.7 278.3,677.4 281.2,637.8 284,597.7 286.9,574 289.8,547.2 292.6,517.6 295.5,483.3 298.4,445.8 301.2,417.7 304.1,401.9 307,391.2 309.8,380.2 312.7,372.6 315.6,375.5 318.4,381.7 321.3,390.9 324.2,397.3 327,407.6 329.9,431.7 332.8,458.7 335.6,476.9 338.5,494.5 341.4,518.4 344.2,539.6 347.1,561.4 350,591.9 352.8,618.1 355.7,636.2 358.6,659 361.4,689.9 364.3,716.2 367.2,741.2 370.1,760 372.9,775.8 375.8,797.3 378.7,830 381.5,849.1 384.4,866.3 387.3,884.5 390.1,901.2 393,915.9 395.9,934.5 398.7,948.9 401.6,964.5 404.5,970.3 407.3,982.5 410.2,989.8 413.1,996.6 415.9,1001 418.8,1003.7 421.7,1007.7 424.5,1012.8 427.4,1020.1 430.3,1029.9 433.1,1041.5 436,1051.2 438.9,1060.6 441.7,1067.6 444.6,1076.5 447.5,1084 450.3,1087.1 453.2,1088.5 456.1,1092.4 458.9,1095.3 461.8,1102.3 464.7,1102 467.5,1107.4 470.4,1109.1 473.3,1113 476.1,1114.4 479,1115.1 481.9,1116.9 484.7,1119.2 487.6,1121.1 490.5,1121.9 493.3,1124.2 496.2,1127.8 499.1,1125 501.9,1128.9 504.8,1128.8 507.7,1131.5 510.6,1133.6 513.4,1133.6 516.3,1135.9 519.2,1134 522,1138.7 524.9,1137.6 527.8,1140.4 530.6,1140.9 533.5,1138.3 536.4,1141.6 539.2,1143.8 542.1,1146.4 545,1145.5 547.8,1146.2 550.7,1144.6 553.6,1148.8 556.4,1149.7 559.3,1147.6 562.2,1147.5 565,1145.9 567.9,1149.4 570.8,1151.9 573.6,1149.5 576.5,1150.4 579.4,1149.6 582.2,1147.8 585.1,1150.9 588,1147.7 590.8,1149.1 593.7,1149.8 596.6,1150.7 599.4,1150.1 602.3,1150.1 605.2,1148.6 608,1147.9 610.9,1149.5 613.8,1148.3 616.6,1147.3 619.5,1147 622.4,1147.7 625.2,1145.5 628.1,1145.8 631,1145 633.8,1146.9 636.7,1146.8 639.6,1148.6 642.4,1143.7 645.3,1144.5 648.2,1146.3 651.1,1144.7 653.9,1144.5 656.8,1147 659.7,1144.3 662.5,1143.2 665.4,1142.9 668.3,1145 671.1,1144.9 674,1142.6 676.9,1143.1 679.7,1145 682.6,1145 685.5,1143.4 688.3,1145 691.2,1144.9 694.1,1141.7 696.9,1143.6 699.8,1144.5 702.7,1143.1 705.5,1141 708.4,1143.4 711.3,1144.7 714.1,1145.7 717,1140.7 719.9,1146.9 722.7,1142 725.6,1144.6 728.5,1144.9 731.3,1144.5 734.2,1143.4 737.1,1141.6 739.9,1143.9 742.8,1142.1 745.7,1139.7 748.5,1146.6 751.4,1143.7 754.3,1145.1 757.1,1141.5 760,1144.6 762.9,1144.7 765.7,1144.6 768.6,1142.5 771.5,1140.9 774.3,1142.1 777.2,1139.4 780.1,1140 782.9,1142.3 785.8,1140.8 788.7,1141.8 791.5,1141.8 794.4,1144.3 797.3,1143.4 800.2,1141.5 803,1143 805.9,1140.3 808.8,1140.7 811.6,1142.2 814.5,1139.2 817.4,1140.3 820.2,1138.9 823.1,1140.6 826,1142.4 828.8,1139.2 831.7,1140.4 834.6,1138.8 837.4,1138.4 840.3,1138.2 843.2,1141.7 846,1142.8 848.9,1140.3 851.8,1138.6 854.6,1140.4 857.5,1139 860.4,1140.4 863.2,1139.7 866.1,1139.7 869,1140 871.8,1138.4 874.7,1138.6 877.6,1136.8 880.4,1138.4 883.3,1137.1 886.2,1138.7 889,1137.6 891.9,1138.9 894.8,1139.3 897.6,1136.8 900.5,1137.5 903.4,1137.3 906.2,1139.4 909.1,1140.6 912,1139.4 914.8,1137.8 917.7,1140.1 920.6,1136.2 923.4,1140 926.3,1137.1 929.2,1134.3 932,1141.3 934.9,1139.8 937.8,1136.4 940.7,1137.8 943.5,1137.3 946.4,1137.6 949.3,1135.4 952.1,1136.4 955,1137.8 957.9,1137.5 960.7,1138.7 963.6,1137.2 966.5,1140.1 969.3,1136.1 972.2,1137.3 975.1,1134.5 977.9,1135.4 980.8,1138.7 983.7,1135.8 986.5,1137.7 989.4,1136.9 992.3,1135.6 995.1,1136.5 998,1136.3 1000.9,1136.4 1003.7,1138 1006.6,1137.8 1009.5,1136.2 1012.3,1135.8 1015.2,1137.4 1018.1,1136.9 1020.9,1138.3 1023.8,1140.5 1026.7,1138.1 1029.5,1137 1032.4,1136.8 1035.3,1135.9 1038.1,1135.8 1041,1135.7 1043.9,1136.5 1046.7,1136.4 1049.6,1138 1052.5,1136.5 1055.3,1136.7 1058.2,1135.4 1061.1,1139.1 1063.9,1137.7 1066.8,1139.3 1069.7,1138.1 1072.5,1139 1075.4,1136.8 1078.3,1138.1 1081.2,1140.7 1084,1135.7 1086.9,1138.9 1089.8,1139.6 1092.6,1138 1095.5,1138.6 1098.4,1139.3 1101.2,1136.9 1104.1,1138.4 1107,1136.8 1109.8,1137.1 1112.7,1137.3 1115.6,1138 1118.4,1138.5 1121.3,1139 1124.2,1136.6 1127,1141.3 1129.9,1140.3 1132.8,1139.9 1135.6,1138.6 1138.5,1139.1 1141.4,1140.1 1144.2,1140 1147.1,1137.4 1150,1140.7 1152.8,1143.8 1155.7,1137.5 1158.6,1141.4 1161.4,1140.7 1164.3,1140.2 1167.2,1142.3 1170,1139 1172.9,1140.9 1175.8,1142.8 1178.6,1140.7 1181.5,1140.5 1184.4,1141.3 1187.2,1140.7 1190.1,1143.5 1193,1140.4 1195.8,1142.9 1198.7,1140.2 1201.6,1142.9 1204.4,1142 1207.3,1138.9 1210.2,1142.5 1213,1141.2 1215.9,1142.3 1218.8,1145.1 1221.7,1141.7 1224.5,1142 1227.4,1145.5 1230.3,1144 1233.1,1146.1 1236,1144.7 1238.9,1143.2 1241.7,1144.5 1244.6,1146.5 1247.5,1146.3 1250.3,1145.2 1253.2,1145.4 1256.1,1145.4 1258.9,1145 1261.8,1148.5 1264.7,1146.1 1267.5,1144.8 1270.4,1145.9 1273.3,1147.7 1276.1,1147.7 1279,1146.9 1281.9,1146.4 1284.7,1147.5 1287.6,1145.4 1290.5,1146.1 1293.3,1149.1 1296.2,1147.5 1299.1,1148.9 1301.9,1150.2 1304.8,1149.6 1307.7,1149 1310.5,1152 1313.4,1150.2 1316.3,1149 1319.1,1150.7 1322,1150.4 1324.9,1148.9 1327.7,1150.3 1330.6,1150.2 1333.5,1148 1336.3,1150.6 1339.2,1150.6 1342.1,1150.6 1344.9,1149.2 1347.8,1151.1 1350.7,1151.7 1353.5,1152.1 1356.4,1150.6 1359.3,1153.2 1362.1,1150.9 1365,1152.4 1367.9,1154.6 1370.8,1152.1 1373.6,1152.6 1376.5,1154.9 1379.4,1153.1 1382.2,1153.4 1385.1,1154.3 1388,1155.6 1390.8,1151.4 1393.7,1153.5 1396.6,1153.4 1399.4,1153.5 1402.3,1154 1405.2,1154.2 1408,1155.9 1410.9,1154.5 1413.8,1156 1416.6,1156.6 1419.5,1155.3 1422.4,1156.6 1425.2,1158.8 1428.1,1157.2 1431,1156.2 1433.8,1157.1 1436.7,1156.2 1439.6,1157.9 1442.4,1158.9 1445.3,1156.9 1448.2,1157.9 1451,1159.9 1453.9,1157.9 1456.8,1159 1459.6,1157.6 1462.5,1158.1 1465.4,1158.7 1468.2,1162.3 1471.1,1159.2 1474,1159.2 1476.8,1159.3 1479.7,1159.9 1482.6,1161.1 1485.4,1160.7 1488.3,1163.2 1491.2,1161 1494,1162.7 1496.9,1161.3 1499.8,1161.8 1502.6,1159.3 1505.5,1161.1 1508.4,1161.3 1511.3,1161.2 1514.1,1158.8 1517,1162.9 1519.9,1161.4 1522.7,1161.4 1525.6,1161.8 1528.5,1162 1531.3,1162.9 1534.2,1160.8 1537.1,1161.4 1539.9,1163.1 1542.8,1163.1 1545.7,1162.5 1548.5,1162.4 1551.4,1162.2 1554.3,1163.3 1557.1,1165 1560,1162.2 1562.9,1165.7 1565.7,1165 1568.6,1163.4 1571.5,1165.1 1574.3,1162.4 1577.2,1162.1 1580.1,1162.9 1582.9,1164.1 1585.8,1164.4 1588.7,1164.3 1591.5,1165.2 1594.4,1162.4 1597.3,1166 1600.1,1163.6 1603,1164.7 1605.9,1165.2 1608.7,1164.3 1611.6,1164.1 1614.5,1164.7 1617.3,1166.1 1620.2,1166.9 1623.1,1167 1625.9,1165 1628.8,1165.3 1631.7,1165.2 1634.5,1167 1637.4,1163.9 1640.3,1168.2 1643.1,1166 1646,1165.6 1648.9,1167.2 1651.8,1168.1 1654.6,1167.3 1657.5,1168.3 1660.4,1167.2 1663.2,1168.7 1666.1,1168.8 1669,1167.2 1671.8,1169.3 1674.7,1167.8 1677.6,1167.8 1680.4,1166.7 1683.3,1167.6 1686.2,1169.2 1689,1166.6 1691.9,1169.3 1694.8,1169 1697.6,1169 1700.5,1165.9 1703.4,1168.8 1706.2,1169.8 1709.1,1168.1 1712,1169.3 1714.8,1166.1 1717.7,1170.2 1720.6,1168.5 1723.4,1170.6 1726.3,1167.1 1729.2,1170.4 1732,1169.3 1734.9,1170.7 1737.8,1168.5 1740.6,1169 1743.5,1172.7 1746.4,1168.8 1749.2,1169 1752.1,1169.6 1755,1168.7 1757.8,1171.7 1760.7,1172.5 1763.6,1169.4 1766.4,1168.1 1769.3,1172 1772.2,1172 1775,1171.7 1777.9,1172.2 1780.8,1169.6 1783.6,1170.6 1786.5,1169.1 1789.4,1169.1 1792.2,1172.2 1795.1,1170.1 1798,1174 1800.9,1171.1 1803.7,1170.2 1806.6,1172 1809.5,1173.3 1812.3,1171.6 1815.2,1169.4 1818.1,1171.5 1820.9,1172.8 1823.8,1170.4 1826.7,1170 1829.5,1172.3 1832.4,1171.2 1835.3,1169.6 1838.1,1170.5" fill="none" stroke="#0000ff" stroke-width="5.5" stroke-linejoin="miter" stroke-miterlimit="3"/>
<path d="M127.1 1191L166.1 1191L146.6 1159Z" fill="#0000ff"/>
<path d="M170.5 1170L209.5 1170L190 1138Z" fill="#0000ff"/>
<path d="M216.5 1075.4L255.5 1075.4L236 1043.4Z" fill="#0000ff"/>
<path d="M262.9 637L301.9 637L282.4 605Z" fill="#0000ff"/>
<path d="M309.5 421.4L348.5 421.4L329 389.4Z" fill="#0000ff"/>
<path d="M355.1 797.8L394.1 797.8L374.6 765.8Z" fill="#0000ff"/>
<path d="M401.5 1016L440.5 1016L421 984Z" fill="#0000ff"/>
<path d="M448 1103L487 1103L467.5 1071Z" fill="#0000ff"/>
<path d="M493.9 1144.7L532.9 1144.7L513.4 1112.7Z" fill="#0000ff"/>
<path d="M539.8 1158.6L578.8 1158.6L559.3 1126.6Z" fill="#0000ff"/>
<path d="M585.7 1160.6L624.7 1160.6L605.2 1128.6Z" fill="#0000ff"/>
<path d="M631.6 1156L670.6 1156L651.1 1124Z" fill="#0000ff"/>
<path d="M677.4 1155L716.4 1155L696.9 1123Z" fill="#0000ff"/>
<path d="M723.3 1154L762.3 1154L742.8 1122Z" fill="#0000ff"/>
<path d="M769.2 1153L808.2 1153L788.7 1121Z" fill="#0000ff"/>
<path d="M815.1 1151L854.1 1151L834.6 1119Z" fill="#0000ff"/>
<path d="M860.9 1150L899.9 1150L880.4 1118Z" fill="#0000ff"/>
<path d="M906.8 1149L945.8 1149L926.3 1117Z" fill="#0000ff"/>
<path d="M952.7 1148L991.7 1148L972.2 1116Z" fill="#0000ff"/>
<path d="M998.6 1148L1037.6 1148L1018.1 1116Z" fill="#0000ff"/>
<path d="M1044.4 1148L1083.4 1148L1063.9 1116Z" fill="#0000ff"/>
<path d="M1090.3 1149L1129.3 1149L1109.8 1117Z" fill="#0000ff"/>
<path d="M1136.2 1151L1175.2 1151L1155.7 1119Z" fill="#0000ff"/>
<path d="M1182.1 1153L1221.1 1153L1201.6 1121Z" fill="#0000ff"/>
<path d="M1228 1156L1267 1156L1247.5 1124Z" fill="#0000ff"/>
<path d="M1273.8 1159L1312.8 1159L1293.3 1127Z" fill="#0000ff"/>
<path d="M1319.7 1162L1358.7 1162L1339.2 1130Z" fill="#0000ff"/>
<path d="M1365.6 1165L1404.6 1165L1385.1 1133Z" fill="#0000ff"/>
<path d="M1411.5 1168L1450.5 1168L1431 1136Z" fill="#0000ff"/>
<path d="M1457.3 1171L1496.3 1171L1476.8 1139Z" fill="#0000ff"/>
<path d="M1503.2 1173L1542.2 1173L1522.7 1141Z" fill="#0000ff"/>
<path d="M1549.1 1175L1588.1 1175L1568.6 1143Z" fill="#0000ff"/>
<path d="M1595 1177L1634 1177L1614.5 1145Z" fill="#0000ff"/>
<path d="M1640.9 1178L1679.9 1178L1660.4 1146Z" fill="#0000ff"/>
<path d="M1686.7 1180L1725.7 1180L1706.2 1148Z" fill="#0000ff"/>
<path d="M1732.6 1181L1771.6 1181L1752.1 1149Z" fill="#0000ff"/>
<path d="M1778.5 1182L1817.5 1182L1798 1150Z" fill="#0000ff"/>
<polyline points="146.4,1177 149.3,1177.9 152.1,1177.1 155,1177.8 157.9,1176.6 160.7,1172.8 163.6,1174.5 166.5,1174.3 169.3,1172.8 172.2,1172.6 175.1,1169.5 177.9,1167.9 180.8,1169.1 183.7,1165.2 186.5,1162.2 189.4,1164.7 192.3,1160.5 195.1,1158.8 198,1154.8 200.9,1151.9 203.7,1148.9 206.6,1146.4 209.5,1143.6 212.3,1136 215.2,1135.6 218.1,1127.4 221,1120.4 223.8,1114.6 226.7,1105.7 229.6,1096.8 232.4,1095.8 235.3,1089 238.2,1088.4 241,1086.5 243.9,1085.6 246.8,1078.9 249.6,1063.3 252.5,1034.6 255.4,1017.1 258.2,996.6 261.1,980.9 264,968.4 266.8,950.6 269.7,934.7 272.6,919.6 275.4,893.6 278.3,866.3 281.2,845.9 284,823.3 286.9,808.7 289.8,790.7 292.6,769 295.5,749.4 298.4,732 301.2,713.4 304.1,694.6 307,681.1 309.8,664.4 312.7,655.4 315.6,645.8 318.4,641.7 321.3,646.7 324.2,651.2 327,662.3 329.9,672.1 332.8,684.5 335.6,698.9 338.5,715.6 341.4,734.9 344.2,751.6 347.1,771 350,789.9 352.8,807.2 355.7,824.8 358.6,839 361.4,854.4 364.3,872.5 367.2,885.2 370.1,898.6 372.9,908.5 375.8,920.6 378.7,930 381.5,939.1 384.4,947.8 387.3,956.3 390.1,964.4 393,973 395.9,983.7 398.7,992.9 401.6,1006.6 404.5,1013.6 407.3,1024.3 410.2,1031.9 413.1,1039.9 415.9,1049.8 418.8,1052 421.7,1054.7 424.5,1059 427.4,1062.7 430.3,1068.9 433.1,1069.1 436,1072.5 438.9,1072.3 441.7,1076.3 444.6,1078.7 447.5,1082.2 450.3,1080.8 453.2,1084.4 456.1,1085.9 458.9,1086.2 461.8,1089.5 464.7,1091.3 467.5,1091 470.4,1097.3 473.3,1099.8 476.1,1101.3 479,1102.9 481.9,1109.4 484.7,1110.7 487.6,1114.5 490.5,1117.8 493.3,1118 496.2,1122.3 499.1,1123.3 501.9,1125.7 504.8,1127.6 507.7,1129.3 510.6,1132.1 513.4,1131.9 516.3,1132.3 519.2,1132.9 522,1134.4 524.9,1133.5 527.8,1134.6 530.6,1135.8 533.5,1135.7 536.4,1136.8 539.2,1136.6 542.1,1140.5 545,1140 547.8,1139.2 550.7,1138.9 553.6,1142.1 556.4,1139.9 559.3,1139.6 562.2,1140.3 565,1140.5 567.9,1142.1 570.8,1140.4 573.6,1143.4 576.5,1139.7 579.4,1141.9 582.2,1139.8 585.1,1143.6 588,1140.9 590.8,1141.4 593.7,1142.7 596.6,1143.2 599.4,1140.2 602.3,1141.2 605.2,1139.9 608,1141.8 610.9,1141.3 613.8,1140.6 616.6,1139.7 619.5,1139.6 622.4,1138.6 625.2,1139.6 628.1,1140.2 631,1135 633.8,1136.7 636.7,1135.6 639.6,1136.2 642.4,1133.7 645.3,1134.2 648.2,1132.7 651.1,1134.6 653.9,1133.6 656.8,1133 659.7,1133.5 662.5,1132.5 665.4,1130.6 668.3,1133.2 671.1,1132.7 674,1131.9 676.9,1133.3 679.7,1133.4 682.6,1130.3 685.5,1130.5 688.3,1133.4 691.2,1133.1 694.1,1130.2 696.9,1129.5 699.8,1130 702.7,1130.1 705.5,1128.5 708.4,1130.5 711.3,1128.7 714.1,1128.6 717,1131.3 719.9,1129.1 722.7,1129.8 725.6,1130.5 728.5,1130.7 731.3,1129 734.2,1129.4 737.1,1128.2 739.9,1131.4 742.8,1129.8 745.7,1127.4 748.5,1128.7 751.4,1129.5 754.3,1129.1 757.1,1130.7 760,1130 762.9,1127.4 765.7,1127.8 768.6,1126.1 771.5,1128 774.3,1127.7 777.2,1130.9 780.1,1127.4 782.9,1124.5 785.8,1126.2 788.7,1127.1 791.5,1125.3 794.4,1125.7 797.3,1126.3 800.2,1127.1 803,1126.4 805.9,1125.3 808.8,1127.4 811.6,1125.6 814.5,1125.6 817.4,1124.4 820.2,1125.1 823.1,1126.9 826,1124 828.8,1125.9 831.7,1126.9 834.6,1125.5 837.4,1126.3 840.3,1124.5 843.2,1127.7 846,1127.4 848.9,1126.3 851.8,1123.7 854.6,1124.6 857.5,1127.3 860.4,1128.2 863.2,1126.4 866.1,1127.6 869,1125.2 871.8,1125.8 874.7,1126 877.6,1126.6 880.4,1124 883.3,1127.2 886.2,1127.7 889,1124.5 891.9,1124.2 894.8,1126.5 897.6,1125.1 900.5,1122.9 903.4,1127.1 906.2,1126.2 909.1,1125.4 912,1128.7 914.8,1126.2 917.7,1125 920.6,1126.1 923.4,1124.6 926.3,1125 929.2,1126.5 932,1125.3 934.9,1125.5 937.8,1128.3 940.7,1127.3 943.5,1127.2 946.4,1127 949.3,1127 952.1,1128.3 955,1126.5 957.9,1129 960.7,1125.4 963.6,1126.4 966.5,1125 969.3,1126.5 972.2,1127.7 975.1,1129 977.9,1126.3 980.8,1127.3 983.7,1126.9 986.5,1126.6 989.4,1126.1 992.3,1127.9 995.1,1125.7 998,1128.2 1000.9,1128.2 1003.7,1127.5 1006.6,1127.2 1009.5,1126.8 1012.3,1131.2 1015.2,1127.1 1018.1,1131 1020.9,1129.9 1023.8,1128.8 1026.7,1127.9 1029.5,1130.8 1032.4,1131.8 1035.3,1128.5 1038.1,1129.4 1041,1131.3 1043.9,1130.5 1046.7,1132.8 1049.6,1129.6 1052.5,1131.1 1055.3,1128.9 1058.2,1133.4 1061.1,1129.9 1063.9,1128.1 1066.8,1131 1069.7,1131.1 1072.5,1134 1075.4,1131.2 1078.3,1131.8 1081.2,1132.8 1084,1134.3 1086.9,1132.3 1089.8,1134 1092.6,1133.5 1095.5,1132.6 1098.4,1133.3 1101.2,1133.5 1104.1,1132.4 1107,1135.4 1109.8,1132.2 1112.7,1135.7 1115.6,1135.6 1118.4,1134.4 1121.3,1133.7 1124.2,1134.6 1127,1135.7 1129.9,1136.2 1132.8,1135.8 1135.6,1136.9 1138.5,1135.1 1141.4,1136.3 1144.2,1134.2 1147.1,1137.4 1150,1136.8 1152.8,1136.2 1155.7,1138.5 1158.6,1138.1 1161.4,1133.8 1164.3,1137.7 1167.2,1136.1 1170,1139.6 1172.9,1141.7 1175.8,1138.1 1178.6,1139.1 1181.5,1138.9 1184.4,1140 1187.2,1140.6 1190.1,1141.7 1193,1139 1195.8,1142.6 1198.7,1139.6 1201.6,1141.4 1204.4,1142.7 1207.3,1142.3 1210.2,1140.4 1213,1140.9 1215.9,1141.4 1218.8,1142.1 1221.7,1143.8 1224.5,1140.8 1227.4,1143.3 1230.3,1143.6 1233.1,1143.8 1236,1143.8 1238.9,1145.4 1241.7,1144.2 1244.6,1144.9 1247.5,1144.7 1250.3,1146.5 1253.2,1142 1256.1,1146.3 1258.9,1144.6 1261.8,1144.8 1264.7,1144.2 1267.5,1143.2 1270.4,1145.4 1273.3,1145.3 1276.1,1147.1 1279,1144.8 1281.9,1148.8 1284.7,1147.6 1287.6,1147.2 1290.5,1146.8 1293.3,1147 1296.2,1146.8 1299.1,1147.8 1301.9,1148.8 1304.8,1148.8 1307.7,1147.4 1310.5,1149.2 1313.4,1148.6 1316.3,1150.2 1319.1,1152.7 1322,1151.3 1324.9,1150.3 1327.7,1148.9 1330.6,1149.4 1333.5,1149.3 1336.3,1152.7 1339.2,1151 1342.1,1152.3 1344.9,1151.7 1347.8,1152.9 1350.7,1154.8 1353.5,1152.4 1356.4,1153.1 1359.3,1152.8 1362.1,1155.2 1365,1153 1367.9,1153.1 1370.8,1153 1373.6,1153.2 1376.5,1155.9 1379.4,1158.9 1382.2,1154.5 1385.1,1157.2 1388,1156.5 1390.8,1155 1393.7,1156.3 1396.6,1156.5 1399.4,1156.1 1402.3,1159.7 1405.2,1154.9 1408,1158 1410.9,1158.2 1413.8,1157.2 1416.6,1158.3 1419.5,1159.4 1422.4,1158.6 1425.2,1159.2 1428.1,1159.7 1431,1156.4 1433.8,1161.1 1436.7,1162.3 1439.6,1160.9 1442.4,1161.1 1445.3,1158.1 1448.2,1160 1451,1159.3 1453.9,1159.8 1456.8,1162 1459.6,1159.9 1462.5,1161 1465.4,1158.9 1468.2,1161.3 1471.1,1161.8 1474,1160.9 1476.8,1161.1 1479.7,1164.6 1482.6,1160.7 1485.4,1161.1 1488.3,1161.5 1491.2,1164.2 1494,1165.5 1496.9,1163.4 1499.8,1162.1 1502.6,1162.6 1505.5,1164.7 1508.4,1162.2 1511.3,1165.4 1514.1,1165.5 1517,1163.8 1519.9,1164.7 1522.7,1165 1525.6,1166.1 1528.5,1162.9 1531.3,1165.9 1534.2,1164 1537.1,1163.6 1539.9,1164.9 1542.8,1164.6 1545.7,1163.7 1548.5,1163 1551.4,1164 1554.3,1167.3 1557.1,1168.1 1560,1166.5 1562.9,1167.3 1565.7,1165.2 1568.6,1165.9 1571.5,1166.5 1574.3,1164.9 1577.2,1165.1 1580.1,1166.7 1582.9,1166.3 1585.8,1165.4 1588.7,1167.4 1591.5,1166.7 1594.4,1168.5 1597.3,1167.3 1600.1,1167.1 1603,1167.8 1605.9,1167.5 1608.7,1166.9 1611.6,1167.4 1614.5,1169 1617.3,1168.9 1620.2,1169.8 1623.1,1166 1625.9,1167.8 1628.8,1167.8 1631.7,1168.6 1634.5,1167.9 1637.4,1167.8 1640.3,1169.6 1643.1,1168.8 1646,1167.1 1648.9,1170.5 1651.8,1170.1 1654.6,1168.1 1657.5,1170 1660.4,1168 1663.2,1170.6 1666.1,1168.9 1669,1168.3 1671.8,1169 1674.7,1168.6 1677.6,1170 1680.4,1170.1 1683.3,1170 1686.2,1169.4 1689,1165.5 1691.9,1170.5 1694.8,1168.1 1697.6,1171 1700.5,1172.3 1703.4,1171.3 1706.2,1170.5 1709.1,1170.8 1712,1171 1714.8,1170.5 1717.7,1170.5 1720.6,1170.2 1723.4,1173 1726.3,1171.5 1729.2,1172.8 1732,1171.3 1734.9,1171.7 1737.8,1171.5 1740.6,1172.4 1743.5,1172.9 1746.4,1172.2 1749.2,1171.1 1752.1,1171 1755,1174.2 1757.8,1171.8 1760.7,1171.8 1763.6,1174.2 1766.4,1173.8 1769.3,1173.2 1772.2,1172 1775,1175.7 1777.9,1173.2 1780.8,1173.5 1783.6,1172.6 1786.5,1171.1 1789.4,1171.2 1792.2,1173.5 1795.1,1173.5 1798,1172.7 1800.9,1171.5 1803.7,1171.1 1806.6,1172.6 1809.5,1171.1 1812.3,1174.2 1815.2,1174.5 1818.1,1176.7 1820.9,1174.1 1823.8,1172.2 1826.7,1171.9 1829.5,1168.5 1832.4,1172.2 1835.3,1172.8 1838.1,1174.3" fill="none" stroke="#ff00ff" stroke-width="5.5" stroke-linejoin="miter" stroke-miterlimit="3"/>
<path d="M127.1 1167L166.1 1167L146.6 1199Z" fill="#ff00ff"/>
<path d="M170.5 1151L209.5 1151L190 1183Z" fill="#ff00ff"/>
<path d="M216.5 1082.7L255.5 1082.7L236 1114.7Z" fill="#ff00ff"/>
<path d="M264.5 811L303.5 811L284 843Z" fill="#ff00ff"/>
<path d="M310.5 661.7L349.5 661.7L330 693.7Z" fill="#ff00ff"/>
<path d="M355.1 903.8L394.1 903.8L374.6 935.8Z" fill="#ff00ff"/>
<path d="M399.5 1041.7L438.5 1041.7L419 1073.7Z" fill="#ff00ff"/>
<path d="M448 1083L487 1083L467.5 1115Z" fill="#ff00ff"/>
<path d="M493.9 1120.7L532.9 1120.7L513.4 1152.7Z" fill="#ff00ff"/>
<path d="M539.8 1128.7L578.8 1128.7L559.3 1160.7Z" fill="#ff00ff"/>
<path d="M585.7 1130.7L624.7 1130.7L605.2 1162.7Z" fill="#ff00ff"/>
<path d="M631.6 1122.7L670.6 1122.7L651.1 1154.7Z" fill="#ff00ff"/>
<path d="M677.4 1120L716.4 1120L696.9 1152Z" fill="#ff00ff"/>
<path d="M723.3 1118L762.3 1118L742.8 1150Z" fill="#ff00ff"/>
<path d="M769.2 1116L808.2 1116L788.7 1148Z" fill="#ff00ff"/>
<path d="M815.1 1115L854.1 1115L834.6 1147Z" fill="#ff00ff"/>
<path d="M860.9 1115L899.9 1115L880.4 1147Z" fill="#ff00ff"/>
<path d="M906.8 1115L945.8 1115L926.3 1147Z" fill="#ff00ff"/>
<path d="M952.7 1116L991.7 1116L972.2 1148Z" fill="#ff00ff"/>
<path d="M998.6 1118L1037.6 1118L1018.1 1150Z" fill="#ff00ff"/>
<path d="M1044.4 1120L1083.4 1120L1063.9 1152Z" fill="#ff00ff"/>
<path d="M1090.3 1123L1129.3 1123L1109.8 1155Z" fill="#ff00ff"/>
<path d="M1136.2 1126L1175.2 1126L1155.7 1158Z" fill="#ff00ff"/>
<path d="M1182.1 1130L1221.1 1130L1201.6 1162Z" fill="#ff00ff"/>
<path d="M1228 1133L1267 1133L1247.5 1165Z" fill="#ff00ff"/>
<path d="M1273.8 1137L1312.8 1137L1293.3 1169Z" fill="#ff00ff"/>
<path d="M1319.7 1141L1358.7 1141L1339.2 1173Z" fill="#ff00ff"/>
<path d="M1365.6 1145L1404.6 1145L1385.1 1177Z" fill="#ff00ff"/>
<path d="M1411.5 1148L1450.5 1148L1431 1180Z" fill="#ff00ff"/>
<path d="M1457.3 1151L1496.3 1151L1476.8 1183Z" fill="#ff00ff"/>
<path d="M1503.2 1153L1542.2 1153L1522.7 1185Z" fill="#ff00ff"/>
<path d="M1549.1 1155L1588.1 1155L1568.6 1187Z" fill="#ff00ff"/>
<path d="M1595 1157L1634 1157L1614.5 1189Z" fill="#ff00ff"/>
<path d="M1640.9 1158L1679.9 1158L1660.4 1190Z" fill="#ff00ff"/>
<path d="M1686.7 1160L1725.7 1160L1706.2 1192Z" fill="#ff00ff"/>
<path d="M1732.6 1161L1771.6 1161L1752.1 1193Z" fill="#ff00ff"/>
<path d="M1778.5 1162L1817.5 1162L1798 1194Z" fill="#ff00ff"/>
<polyline points="146.4,1172.8 149.3,1172.7 152.1,1172.1 155,1172.5 157.9,1173.2 160.7,1169.7 163.6,1170.2 166.5,1168.6 169.3,1172.2 172.2,1171.4 175.1,1170.2 177.9,1167.2 180.8,1168.3 183.7,1167.1 186.5,1166.8 189.4,1165.5 192.3,1165.5 195.1,1163 198,1163 200.9,1160.4 203.7,1157.7 206.6,1155.7 209.5,1152.9 212.3,1152 215.2,1148 218.1,1146 221,1142.1 223.8,1137.4 226.7,1136.9 229.6,1130.4 232.4,1128.4 235.3,1123.5 238.2,1115.8 241,1110.6 243.9,1103.9 246.8,1095.2 249.6,1084.6 252.5,1076 255.4,1064.5 258.2,1056.7 261.1,1047.4 264,1039.2 266.8,1025.9 269.7,1011.7 272.6,998.5 275.4,986.3 278.3,975.2 281.2,964.7 284,957.4 286.9,949.9 289.8,941.7 292.6,932.2 295.5,923.6 298.4,918.2 301.2,908.5 304.1,904.1 307,898.7 309.8,887.8 312.7,886.3 315.6,886.6 318.4,893.1 321.3,893.7 324.2,895.1 327,897.9 329.9,901 332.8,903.2 335.6,907.5 338.5,909.8 341.4,915.4 344.2,921 347.1,926.7 350,929.3 352.8,933.2 355.7,938.9 358.6,943.4 361.4,949.1 364.3,953.5 367.2,957.5 370.1,963.4 372.9,968.5 375.8,973.4 378.7,977.9 381.5,981.1 384.4,983.7 387.3,989.7 390.1,992 393,998.8 395.9,1002.7 398.7,1004.4 401.6,1011 404.5,1014.2 407.3,1015.6 410.2,1019.7 413.1,1021.9 415.9,1019.8 418.8,1024.9 421.7,1026.7 424.5,1029.6 427.4,1033.3 430.3,1034.3 433.1,1037.5 436,1039.9 438.9,1042.4 441.7,1045.4 444.6,1045.7 447.5,1048.1 450.3,1052 453.2,1052.9 456.1,1055.2 458.9,1053.9 461.8,1057.1 464.7,1059.1 467.5,1061.7 470.4,1062.7 473.3,1066.5 476.1,1067.1 479,1069.1 481.9,1071 484.7,1073.8 487.6,1074.1 490.5,1078.1 493.3,1079 496.2,1080.4 499.1,1082 501.9,1084.3 504.8,1086.5 507.7,1087.9 510.6,1088.6 513.4,1090.6 516.3,1091 519.2,1093.8 522,1093.4 524.9,1092.1 527.8,1097.9 530.6,1097.6 533.5,1097.2 536.4,1099.6 539.2,1099.9 542.1,1104.8 545,1103.7 547.8,1101.9 550.7,1105.3 553.6,1104.7 556.4,1108.2 559.3,1104.6 562.2,1103.3 565,1106.5 567.9,1106.2 570.8,1106.3 573.6,1104.2 576.5,1107.7 579.4,1109.5 582.2,1105 585.1,1109.1 588,1106.9 590.8,1110.8 593.7,1108.4 596.6,1107.7 599.4,1109.4 602.3,1108.7 605.2,1107.2 608,1108.9 610.9,1107.2 613.8,1105.4 616.6,1110.1 619.5,1106.7 622.4,1106.1 625.2,1107 628.1,1104.2 631,1104.2 633.8,1105 636.7,1104.6 639.6,1105.1 642.4,1106.3 645.3,1104 648.2,1105.2 651.1,1105.3 653.9,1103.1 656.8,1104.8 659.7,1103.4 662.5,1106 665.4,1105.3 668.3,1104.8 671.1,1103.2 674,1105.2 676.9,1104.1 679.7,1106.1 682.6,1105.1 685.5,1104.3 688.3,1106.6 691.2,1106.4 694.1,1104.7 696.9,1107 699.8,1105.1 702.7,1104.9 705.5,1105.2 708.4,1103.8 711.3,1103.9 714.1,1103.9 717,1105.7 719.9,1105.2 722.7,1102.5 725.6,1104.5 728.5,1102 731.3,1102.2 734.2,1102.6 737.1,1101.6 739.9,1104.2 742.8,1101.3 745.7,1099.5 748.5,1103.1 751.4,1101.2 754.3,1101.9 757.1,1099.1 760,1105 762.9,1105.5 765.7,1106.3 768.6,1107.3 771.5,1109 774.3,1107.5 777.2,1109.4 780.1,1107.7 782.9,1108.7 785.8,1110.8 788.7,1110 791.5,1107.8 794.4,1109.9 797.3,1109.2 800.2,1108.3 803,1109.9 805.9,1108.7 808.8,1107.1 811.6,1107.6 814.5,1111.3 817.4,1106.9 820.2,1109.1 823.1,1109.5 826,1109.5 828.8,1107 831.7,1108.2 834.6,1108.8 837.4,1109.6 840.3,1107.8 843.2,1107.2 846,1110 848.9,1110.2 851.8,1109.3 854.6,1108.1 857.5,1109.5 860.4,1109.2 863.2,1110.3 866.1,1107.6 869,1109.5 871.8,1109.3 874.7,1108.1 877.6,1110 880.4,1109.8 883.3,1109.4 886.2,1110.6 889,1108.4 891.9,1110.3 894.8,1111.1 897.6,1111.2 900.5,1112.4 903.4,1109.6 906.2,1109.4 909.1,1111.9 912,1112.4 914.8,1114.8 917.7,1113 920.6,1111.2 923.4,1113.5 926.3,1111.5 929.2,1110.8 932,1116.2 934.9,1113.3 937.8,1113.9 940.7,1113.8 943.5,1115.4 946.4,1113.5 949.3,1114.8 952.1,1111.9 955,1111.5 957.9,1115.3 960.7,1115.4 963.6,1114.2 966.5,1113.9 969.3,1113.9 972.2,1112.9 975.1,1115.9 977.9,1114.9 980.8,1114.8 983.7,1114.7 986.5,1115.7 989.4,1115.2 992.3,1115.6 995.1,1113.3 998,1115.6 1000.9,1117.9 1003.7,1114.5 1006.6,1115.2 1009.5,1116.7 1012.3,1116.9 1015.2,1116.7 1018.1,1113.9 1020.9,1116.8 1023.8,1114.8 1026.7,1115.4 1029.5,1117.4 1032.4,1116.5 1035.3,1118.1 1038.1,1121.4 1041,1118.5 1043.9,1118.6 1046.7,1116.7 1049.6,1117.2 1052.5,1116.9 1055.3,1117.8 1058.2,1117.2 1061.1,1118 1063.9,1118.7 1066.8,1117.9 1069.7,1117.5 1072.5,1117.7 1075.4,1120.2 1078.3,1119.9 1081.2,1121.3 1084,1121.4 1086.9,1119.8 1089.8,1121.2 1092.6,1118.6 1095.5,1123.6 1098.4,1122.4 1101.2,1120.7 1104.1,1119.6 1107,1121.8 1109.8,1119.1 1112.7,1120.7 1115.6,1122.8 1118.4,1122.2 1121.3,1121.6 1124.2,1123.7 1127,1121.3 1129.9,1123.3 1132.8,1122.5 1135.6,1122.2 1138.5,1124.2 1141.4,1122.5 1144.2,1126.5 1147.1,1123.5 1150,1127.1 1152.8,1123.3 1155.7,1125.8 1158.6,1123.7 1161.4,1123.7 1164.3,1125.9 1167.2,1126.9 1170,1124.6 1172.9,1128 1175.8,1125.7 1178.6,1127.2 1181.5,1127.8 1184.4,1128.4 1187.2,1125.6 1190.1,1130.3 1193,1129.2 1195.8,1128.3 1198.7,1127.8 1201.6,1127.3 1204.4,1128.1 1207.3,1131 1210.2,1130.3 1213,1129.7 1215.9,1131 1218.8,1134.3 1221.7,1132.3 1224.5,1132.5 1227.4,1135.6 1230.3,1135 1233.1,1134.9 1236,1134.6 1238.9,1133.8 1241.7,1134.7 1244.6,1136 1247.5,1136.7 1250.3,1137.8 1253.2,1138.3 1256.1,1138.2 1258.9,1138.4 1261.8,1137.1 1264.7,1135.9 1267.5,1138.2 1270.4,1137.9 1273.3,1138.5 1276.1,1139.2 1279,1138.2 1281.9,1138.6 1284.7,1140.1 1287.6,1140.6 1290.5,1139.9 1293.3,1141.6 1296.2,1141 1299.1,1140.2 1301.9,1141.9 1304.8,1144.5 1307.7,1141.5 1310.5,1144.1 1313.4,1144.7 1316.3,1145.1 1319.1,1142.4 1322,1146.4 1324.9,1144.2 1327.7,1144 1330.6,1144.3 1333.5,1145.7 1336.3,1145.3 1339.2,1145.3 1342.1,1147.5 1344.9,1145.2 1347.8,1145.1 1350.7,1147.8 1353.5,1148 1356.4,1148.8 1359.3,1146.3 1362.1,1149.4 1365,1149 1367.9,1151 1370.8,1147.4 1373.6,1149.6 1376.5,1149.3 1379.4,1147.9 1382.2,1149.3 1385.1,1152 1388,1150.2 1390.8,1150.1 1393.7,1152.5 1396.6,1152.9 1399.4,1153.2 1402.3,1151.1 1405.2,1152.3 1408,1154 1410.9,1152.1 1413.8,1152.2 1416.6,1154.5 1419.5,1155.7 1422.4,1152.4 1425.2,1150.7 1428.1,1152.4 1431,1153.2 1433.8,1154.5 1436.7,1155.7 1439.6,1154.8 1442.4,1154.3 1445.3,1155.6 1448.2,1154.3 1451,1155.6 1453.9,1155 1456.8,1159.4 1459.6,1157.1 1462.5,1155.1 1465.4,1155.1 1468.2,1155.9 1471.1,1154.5 1474,1155.9 1476.8,1156 1479.7,1158.3 1482.6,1156.8 1485.4,1156.5 1488.3,1156 1491.2,1156.4 1494,1158.1 1496.9,1158.1 1499.8,1160 1502.6,1157.9 1505.5,1160.3 1508.4,1159.5 1511.3,1159.3 1514.1,1156.9 1517,1158 1519.9,1160.8 1522.7,1161.8 1525.6,1160.4 1528.5,1161.3 1531.3,1159.9 1534.2,1160 1537.1,1159.8 1539.9,1162 1542.8,1161.3 1545.7,1160.7 1548.5,1160.6 1551.4,1161.9 1554.3,1161.7 1557.1,1160.3 1560,1163.8 1562.9,1162 1565.7,1161.9 1568.6,1163.9 1571.5,1163.5 1574.3,1162.3 1577.2,1163.4 1580.1,1161.5 1582.9,1162.4 1585.8,1160.6 1588.7,1165.4 1591.5,1161.7 1594.4,1165.3 1597.3,1163.7 1600.1,1163.7 1603,1165 1605.9,1165.9 1608.7,1166.5 1611.6,1168.2 1614.5,1166.5 1617.3,1167.2 1620.2,1165.4 1623.1,1167.2 1625.9,1166.5 1628.8,1165.8 1631.7,1166.3 1634.5,1166.4 1637.4,1166.8 1640.3,1167.1 1643.1,1166 1646,1165.7 1648.9,1167.7 1651.8,1164.6 1654.6,1166 1657.5,1168.9 1660.4,1163.5 1663.2,1166.2 1666.1,1168.1 1669,1165.2 1671.8,1170.9 1674.7,1164.3 1677.6,1169.8 1680.4,1170.1 1683.3,1169.5 1686.2,1168.2 1689,1169.1 1691.9,1167.7 1694.8,1170.1 1697.6,1167.7 1700.5,1168.9 1703.4,1170.7 1706.2,1168.1 1709.1,1169.1 1712,1169.9 1714.8,1168 1717.7,1171.3 1720.6,1170.3 1723.4,1167.9 1726.3,1169.9 1729.2,1169 1732,1169.1 1734.9,1170.1 1737.8,1169.2 1740.6,1171.4 1743.5,1169.3 1746.4,1171.5 1749.2,1170.2 1752.1,1171.4 1755,1169.6 1757.8,1169.7 1760.7,1168.9 1763.6,1171.2 1766.4,1171.7 1769.3,1173.3 1772.2,1172.3 1775,1171 1777.9,1170.4 1780.8,1171.2 1783.6,1170.7 1786.5,1172.7 1789.4,1172.1 1792.2,1169.8 1795.1,1170.1 1798,1172.8 1800.9,1171.5 1803.7,1170.8 1806.6,1172.7 1809.5,1170.7 1812.3,1170.9 1815.2,1170.8 1818.1,1168.9 1820.9,1172.6 1823.8,1170 1826.7,1170.9 1829.5,1170.8 1832.4,1172.8 1835.3,1171.8 1838.1,1172" fill="none" stroke="#008000" stroke-width="5.5" stroke-linejoin="miter" stroke-miterlimit="3"/>
<path d="M126.9 1172L146.4 1151.5L165.9 1172L146.4 1192.5Z" fill="#008000"/>
<path d="M171.4 1165.3L190.9 1144.8L210.4 1165.3L190.9 1185.8Z" fill="#008000"/>
<path d="M217.7 1119.7L237.2 1099.2L256.7 1119.7L237.2 1140.2Z" fill="#008000"/>
<path d="M263.8 959.4L283.3 938.9L302.8 959.4L283.3 979.9Z" fill="#008000"/>
<path d="M309.5 899.9L329 879.4L348.5 899.9L329 920.4Z" fill="#008000"/>
<path d="M354.1 969.4L373.6 948.9L393.1 969.4L373.6 989.9Z" fill="#008000"/>
<path d="M399.7 1023.9L419.2 1003.4L438.7 1023.9L419.2 1044.4Z" fill="#008000"/>
<path d="M446.4 1060.6L465.9 1040.1L485.4 1060.6L465.9 1081.1Z" fill="#008000"/>
<path d="M493.9 1089.5L513.4 1069L532.9 1089.5L513.4 1110Z" fill="#008000"/>
<path d="M539.8 1106L559.3 1085.5L578.8 1106L559.3 1126.5Z" fill="#008000"/>
<path d="M585.7 1108L605.2 1087.5L624.7 1108L605.2 1128.5Z" fill="#008000"/>
<path d="M631.6 1104.5L651.1 1084L670.6 1104.5L651.1 1125Z" fill="#008000"/>
<path d="M677.4 1105.5L696.9 1085L716.4 1105.5L696.9 1126Z" fill="#008000"/>
<path d="M723.3 1101L742.8 1080.5L762.3 1101L742.8 1121.5Z" fill="#008000"/>
<path d="M769.2 1109.5L788.7 1089L808.2 1109.5L788.7 1130Z" fill="#008000"/>
<path d="M815.1 1108.6L834.6 1088.1L854.1 1108.6L834.6 1129.1Z" fill="#008000"/>
<path d="M860.9 1109.8L880.4 1089.3L899.9 1109.8L880.4 1130.3Z" fill="#008000"/>
<path d="M906.8 1112.6L926.3 1092.1L945.8 1112.6L926.3 1133.1Z" fill="#008000"/>
<path d="M952.7 1113.8L972.2 1093.3L991.7 1113.8L972.2 1134.3Z" fill="#008000"/>
<path d="M998.6 1116L1018.1 1095.5L1037.6 1116L1018.1 1136.5Z" fill="#008000"/>
<path d="M1044.4 1119L1063.9 1098.5L1083.4 1119L1063.9 1139.5Z" fill="#008000"/>
<path d="M1090.3 1121.5L1109.8 1101L1129.3 1121.5L1109.8 1142Z" fill="#008000"/>
<path d="M1136.2 1125L1155.7 1104.5L1175.2 1125L1155.7 1145.5Z" fill="#008000"/>
<path d="M1182.1 1129.5L1201.6 1109L1221.1 1129.5L1201.6 1150Z" fill="#008000"/>
<path d="M1228 1137L1247.5 1116.5L1267 1137L1247.5 1157.5Z" fill="#008000"/>
<path d="M1273.8 1141L1293.3 1120.5L1312.8 1141L1293.3 1161.5Z" fill="#008000"/>
<path d="M1319.7 1145.5L1339.2 1125L1358.7 1145.5L1339.2 1166Z" fill="#008000"/>
<path d="M1365.6 1150.5L1385.1 1130L1404.6 1150.5L1385.1 1171Z" fill="#008000"/>
<path d="M1411.5 1154.5L1431 1134L1450.5 1154.5L1431 1175Z" fill="#008000"/>
<path d="M1457.3 1157L1476.8 1136.5L1496.3 1157L1476.8 1177.5Z" fill="#008000"/>
<path d="M1503.2 1160L1522.7 1139.5L1542.2 1160L1522.7 1180.5Z" fill="#008000"/>
<path d="M1549.1 1162L1568.6 1141.5L1588.1 1162L1568.6 1182.5Z" fill="#008000"/>
<path d="M1595 1166L1614.5 1145.5L1634 1166L1614.5 1186.5Z" fill="#008000"/>
<path d="M1640.9 1167L1660.4 1146.5L1679.9 1167L1660.4 1187.5Z" fill="#008000"/>
<path d="M1686.7 1169.5L1706.2 1149L1725.7 1169.5L1706.2 1190Z" fill="#008000"/>
<path d="M1732.6 1170.3L1752.1 1149.8L1771.6 1170.3L1752.1 1190.8Z" fill="#008000"/>
<path d="M1778.5 1171L1798 1150.5L1817.5 1171L1798 1191.5Z" fill="#008000"/>
</g>
<rect x="146.4" y="44.5" width="1720.4" height="1268.2" fill="none" stroke="#000" stroke-width="6"/>
<line x1="146.4" y1="1312.7" x2="146.4" y2="1337.7" stroke="#000" stroke-width="6"/>
<text transform="translate(145.4 1401.3) scale(1 1.03)" font-size="62" text-anchor="middle">350</text>
<line x1="431.4" y1="1312.7" x2="431.4" y2="1337.7" stroke="#000" stroke-width="6"/>
<text transform="translate(430.6 1401.3) scale(1 1.03)" font-size="62" text-anchor="middle">400</text>
<line x1="718.9" y1="1312.7" x2="718.9" y2="1337.7" stroke="#000" stroke-width="6"/>
<text transform="translate(718.2 1401.3) scale(1 1.03)" font-size="62" text-anchor="middle">450</text>
<line x1="1006.2" y1="1312.7" x2="1006.2" y2="1337.7" stroke="#000" stroke-width="6"/>
<text transform="translate(1005.7 1401.3) scale(1 1.03)" font-size="62" text-anchor="middle">500</text>
<line x1="1293.7" y1="1312.7" x2="1293.7" y2="1337.7" stroke="#000" stroke-width="6"/>
<text transform="translate(1293.4 1401.3) scale(1 1.03)" font-size="62" text-anchor="middle">550</text>
<line x1="1579.6" y1="1312.7" x2="1579.6" y2="1337.7" stroke="#000" stroke-width="6"/>
<text transform="translate(1579.4 1401.3) scale(1 1.03)" font-size="62" text-anchor="middle">600</text>
<line x1="1866.6" y1="1312.7" x2="1866.6" y2="1337.7" stroke="#000" stroke-width="6"/>
<text transform="translate(1866.6 1401.3) scale(1 1.03)" font-size="62" text-anchor="middle">650</text>
<line x1="287.7" y1="1312.7" x2="287.7" y2="1326.7" stroke="#000" stroke-width="5"/>
<line x1="575.2" y1="1312.7" x2="575.2" y2="1326.7" stroke="#000" stroke-width="5"/>
<line x1="862.7" y1="1312.7" x2="862.7" y2="1326.7" stroke="#000" stroke-width="5"/>
<line x1="1150.2" y1="1312.7" x2="1150.2" y2="1326.7" stroke="#000" stroke-width="5"/>
<line x1="1437.1" y1="1312.7" x2="1437.1" y2="1326.7" stroke="#000" stroke-width="5"/>
<line x1="1722.9" y1="1312.7" x2="1722.9" y2="1326.7" stroke="#000" stroke-width="5"/>
<text x="1006.5" y="1491" font-size="92.6" text-anchor="middle">Wavelength (nm)</text>
<text transform="translate(106 704.5) rotate(-90)" font-size="92.6" text-anchor="middle">Intensity (a.u.)</text>
<text x="152" y="127" font-size="88">(a)</text>
<rect x="1439.8" y="54.9" width="423.7" height="425.7" fill="#fff" stroke="#000" stroke-width="2.5"/>
<line x1="1481.2" y1="107.7" x2="1636.5" y2="107.7" stroke="#000000" stroke-width="5"/>
<rect x="1544.3" y="93.2" width="29" height="29" fill="#000000"/>
<text x="1650" y="128.2" font-size="60" textLength="144" lengthAdjust="spacingAndGlyphs">seed</text>
<line x1="1481.2" y1="191.1" x2="1636.5" y2="191.1" stroke="#ff0000" stroke-width="5"/>
<circle cx="1558.8" cy="191.1" r="15.5" fill="#ff0000"/>
<text x="1650" y="211.6" font-size="60" textLength="194.5" lengthAdjust="spacingAndGlyphs">60 min</text>
<line x1="1481.2" y1="275.1" x2="1636.5" y2="275.1" stroke="#0000ff" stroke-width="5"/>
<path d="M1539.3 286.1L1578.3 286.1L1558.8 254.1Z" fill="#0000ff"/>
<text x="1650" y="295.6" font-size="60" textLength="194.5" lengthAdjust="spacingAndGlyphs">30 min</text>
<line x1="1481.2" y1="358.8" x2="1636.5" y2="358.8" stroke="#ff00ff" stroke-width="5"/>
<path d="M1539.3 347.8L1578.3 347.8L1558.8 379.8Z" fill="#ff00ff"/>
<text x="1650" y="379.3" font-size="60" textLength="194.5" lengthAdjust="spacingAndGlyphs">20 min</text>
<line x1="1481.2" y1="441.9" x2="1636.5" y2="441.9" stroke="#008000" stroke-width="5"/>
<path d="M1539.3 441.9L1558.8 421.4L1578.3 441.9L1558.8 462.4Z" fill="#008000"/>
<text x="1650" y="462.4" font-size="60" textLength="194.5" lengthAdjust="spacingAndGlyphs">10 min</text>
<clipPath id="cb"><rect x="142.5" y="1651.7" width="1724.6" height="1266.4"/></clipPath>
<g clip-path="url(#cb)">
<polyline points="142.5,2681.6 144.2,2685.4 145.9,2683.2 147.7,2687.3 149.4,2688 151.1,2687.8 152.8,2692.5 154.6,2690 156.3,2690.7 158,2690.6 159.7,2690.3 161.5,2694.9 163.2,2693.8 164.9,2689.7 166.6,2694.8 168.4,2694.3 170.1,2695.6 171.8,2695.2 173.5,2692.5 175.3,2693.1 177,2699.2 178.7,2696.7 180.4,2694.1 182.2,2697.8 183.9,2696.9 185.6,2691.3 187.3,2694.3 189.1,2696 190.8,2699.8 192.5,2699.6 194.2,2699.6 196,2700.9 197.7,2701.9 199.4,2697.3 201.1,2700.9 202.9,2700.3 204.6,2699.9 206.3,2700.4 208,2702.4 209.8,2702.4 211.5,2700.5 213.2,2702.5 214.9,2707.2 216.7,2701.9 218.4,2700.9 220.1,2704.6 221.8,2705.4 223.6,2706.1 225.3,2702.5 227,2706.4 228.7,2703.3 230.5,2702.7 232.2,2702.6 233.9,2704.4 235.6,2706.1 237.4,2705.9 239.1,2704.8 240.8,2708.1 242.5,2704.9 244.3,2706.4 246,2702.2 247.7,2701.9 249.4,2706.1 251.1,2702.2 252.9,2703.6 254.6,2704.5 256.3,2702.9 258,2703.8 259.8,2707.1 261.5,2700.1 263.2,2706.2 264.9,2708.7 266.7,2704.6 268.4,2704.5 270.1,2705.8 271.8,2707.7 273.6,2702.3 275.3,2704.5 277,2704 278.7,2705.3 280.5,2704.6 282.2,2705.4 283.9,2703.4 285.6,2704.2 287.4,2701.7 289.1,2702.9 290.8,2703.8 292.5,2703.5 294.3,2701.8 296,2706.7 297.7,2703.6 299.4,2701.3 301.2,2705.7 302.9,2702.3 304.6,2704.5 306.3,2703.5 308.1,2703.9 309.8,2703.7 311.5,2702.3 313.2,2703.4 315,2710.6 316.7,2699.2 318.4,2703.2 320.1,2703.8 321.9,2701.1 323.6,2700.4 325.3,2706.7 327,2702.1 328.8,2706.4 330.5,2703.5 332.2,2702.7 333.9,2703.1 335.7,2703.2 337.4,2704 339.1,2702.4 340.8,2701.6 342.6,2701.4 344.3,2705.6 346,2701.9 347.7,2698.3 349.5,2698.6 351.2,2700.5 352.9,2697.8 354.6,2697.8 356.4,2696.3 358.1,2697.1 359.8,2697.9 361.5,2698.5 363.2,2696.1 365,2699.5 366.7,2694.9 368.4,2700.5 370.1,2695.8 371.9,2694.3 373.6,2691.8 375.3,2686.8 377,2691.3 378.8,2691.3 380.5,2694.1 382.2,2684.3 383.9,2692.8 385.7,2687.9 387.4,2689.1 389.1,2681.9 390.8,2686.6 392.6,2685 394.3,2686.3 396,2684.5 397.7,2681.2 399.5,2684.8 401.2,2683.6 402.9,2683.9 404.6,2684.9 406.4,2682.3 408.1,2679.2 409.8,2675.7 411.5,2674.9 413.3,2680 415,2678 416.7,2675.9 418.4,2674.1 420.2,2674.3 421.9,2673.6 423.6,2672 425.3,2670.4 427.1,2676 428.8,2670.9 430.5,2668.2 432.2,2665.7 434,2666.2 435.7,2668.6 437.4,2667.8 439.1,2664.6 440.9,2664.3 442.6,2662.5 444.3,2659.6 446,2667.4 447.8,2661.1 449.5,2671.2 451.2,2654.5 452.9,2656.8 454.7,2658.2 456.4,2654.4 458.1,2650.4 459.8,2650.4 461.6,2651.9 463.3,2652.3 465,2649.1 466.7,2650.8 468.4,2649.6 470.2,2646.7 471.9,2644.8 473.6,2642.8 475.3,2643.7 477.1,2643.5 478.8,2639.9 480.5,2641 482.2,2636.4 484,2632.1 485.7,2631.9 487.4,2637.7 489.1,2633.4 490.9,2635.3 492.6,2629.8 494.3,2630.7 496,2630.7 497.8,2631.3 499.5,2622.4 501.2,2622.3 502.9,2621.8 504.7,2617.1 506.4,2620.2 508.1,2620.5 509.8,2614.5 511.6,2620.7 513.3,2612.2 515,2611 516.7,2609.4 518.5,2604.1 520.2,2608.4 521.9,2605.5 523.6,2609.2 525.4,2604.1 527.1,2602.2 528.8,2597.9 530.5,2592.2 532.3,2594.8 534,2590.4 535.7,2594.8 537.4,2589.6 539.2,2593.6 540.9,2588.5 542.6,2587 544.3,2582.9 546.1,2580.9 547.8,2580.6 549.5,2579.6 551.2,2571.7 553,2574.2 554.7,2580.2 556.4,2568 558.1,2565.4 559.9,2561.7 561.6,2556.7 563.3,2565 565,2558.6 566.8,2557.6 568.5,2561.8 570.2,2572.7 571.9,2546.8 573.6,2552.8 575.4,2549.1 577.1,2546.2 578.8,2544.6 580.5,2540.6 582.3,2545.5 584,2539.5 585.7,2536.5 587.4,2538.5 589.2,2535.2 590.9,2531.5 592.6,2529.1 594.3,2533.7 596.1,2526.4 597.8,2522.1 599.5,2516.9 601.2,2517.5 603,2512.7 604.7,2516.3 606.4,2515.4 608.1,2503.1 609.9,2511.2 611.6,2512.5 613.3,2508.7 615,2501.8 616.8,2510.9 618.5,2499.9 620.2,2495.8 621.9,2495 623.7,2498.6 625.4,2502 627.1,2501.4 628.8,2495.2 630.6,2486.8 632.3,2488 634,2485.3 635.7,2487.4 637.5,2477.9 639.2,2485.9 640.9,2487.2 642.6,2481.7 644.4,2483.4 646.1,2474.8 647.8,2470.6 649.5,2473.4 651.3,2487.3 653,2479.2 654.7,2470 656.4,2477.4 658.2,2467.9 659.9,2476.2 661.6,2469.4 663.3,2462.9 665.1,2468.2 666.8,2458.4 668.5,2456.1 670.2,2451.8 672,2459.7 673.7,2456.6 675.4,2454.7 677.1,2451.9 678.9,2468.7 680.6,2449 682.3,2445.9 684,2455.5 685.7,2455.1 687.5,2449.5 689.2,2434.4 690.9,2439.4 692.6,2444.9 694.4,2440.2 696.1,2447.5 697.8,2429.2 699.5,2439.7 701.3,2430.7 703,2440.6 704.7,2431 706.4,2436.1 708.2,2424.8 709.9,2418.9 711.6,2419.2 713.3,2420.8 715.1,2410.7 716.8,2428.9 718.5,2428.3 720.2,2420.5 722,2411.1 723.7,2415.3 725.4,2410.4 727.1,2422.2 728.9,2413.8 730.6,2413.5 732.3,2406.6 734,2395.1 735.8,2401.5 737.5,2397.9 739.2,2405.8 740.9,2402.7 742.7,2395.7 744.4,2394.4 746.1,2408 747.8,2390.4 749.6,2389.3 751.3,2392.4 753,2387.9 754.7,2385.5 756.5,2393.2 758.2,2399.6 759.9,2375.3 761.6,2385.3 763.4,2384.8 765.1,2382.3 766.8,2380.2 768.5,2377.8 770.3,2385.4 772,2374.3 773.7,2375.1 775.4,2374.6 777.2,2374 778.9,2370.7 780.6,2377.3 782.3,2369.1 784.1,2369 785.8,2366.1 787.5,2358.2 789.2,2358 790.9,2355.1 792.7,2363.6 794.4,2354.6 796.1,2350.8 797.8,2358.5 799.6,2362.8 801.3,2341.6 803,2376.5 804.7,2351.5 806.5,2349.1 808.2,2363.6 809.9,2347.5 811.6,2341.3 813.4,2360 815.1,2335 816.8,2340.7 818.5,2346.1 820.3,2330.8 822,2336.4 823.7,2338.6 825.4,2352 827.2,2326.4 828.9,2331.2 830.6,2335.1 832.3,2329.4 834.1,2318.5 835.8,2329.1 837.5,2325.5 839.2,2326.7 841,2330.5 842.7,2328.3 844.4,2322.4 846.1,2320.3 847.9,2308.3 849.6,2314.3 851.3,2315.7 853,2309.6 854.8,2312.1 856.5,2303.7 858.2,2320.7 859.9,2324.2 861.7,2303.3 863.4,2308.2 865.1,2302 866.8,2312.5 868.6,2304.8 870.3,2300.8 872,2297.3 873.7,2298.8 875.5,2288.8 877.2,2300.9 878.9,2283.1 880.6,2297.6 882.4,2293.2 884.1,2308.5 885.8,2289.6 887.5,2296.9 889.3,2280.1 891,2291.3 892.7,2283.4 894.4,2285.6 896.2,2283.5 897.9,2289.4 899.6,2264.1 901.3,2282.1 903,2253.8 904.8,2287 906.5,2259.7 908.2,2258.3 909.9,2259.8 911.7,2286.1 913.4,2260.7 915.1,2271.2 916.8,2264.7 918.6,2253 920.3,2264.1 922,2277 923.7,2261.7 925.5,2271.7 927.2,2256.6 928.9,2261.7 930.6,2257.4 932.4,2262.6 934.1,2274.8 935.8,2260.8 937.5,2258.4 939.3,2250.5 941,2248.4 942.7,2266.5 944.4,2243.6 946.2,2244.4 947.9,2250.6 949.6,2247 951.3,2266.7 953.1,2228.7 954.8,2251.5 956.5,2260 958.2,2237.3 960,2240.7 961.7,2253.2 963.4,2259.3 965.1,2236.5 966.9,2230.2 968.6,2252 970.3,2256.3 972,2239.6 973.8,2222.7 975.5,2254.4 977.2,2239.5 978.9,2250.6 980.7,2240 982.4,2236.7 984.1,2235.6 985.8,2252.1 987.6,2251.4 989.3,2219.5 991,2229.7 992.7,2253.2 994.5,2234 996.2,2224.9 997.9,2236.5 999.6,2235.2 1001.4,2234.9 1003.1,2231.2 1004.8,2232.4 1006.5,2230.8 1008.2,2237.4 1010,2227 1011.7,2228.7 1013.4,2232.3 1015.1,2244.8 1016.9,2236.3 1018.6,2231.7 1020.3,2237.1 1022,2235.7 1023.8,2241.5 1025.5,2236.1 1027.2,2247.3 1028.9,2243 1030.7,2230.4 1032.4,2226.8 1034.1,2238.2 1035.8,2234.7 1037.6,2228.1 1039.3,2216.4 1041,2213 1042.7,2232.3 1044.5,2235.8 1046.2,2235.9 1047.9,2217 1049.6,2237.6 1051.4,2223.3 1053.1,2231.4 1054.8,2231.5 1056.5,2220.4 1058.3,2222.1 1060,2208.6 1061.7,2218.8 1063.4,2210.7 1065.2,2230.7 1066.9,2227.1 1068.6,2234.6 1070.3,2229.4 1072.1,2220.4 1073.8,2229 1075.5,2222.2 1077.2,2231.1 1079,2231.1 1080.7,2207.5 1082.4,2225.1 1084.1,2225.4 1085.9,2222 1087.6,2232.7 1089.3,2239.9 1091,2221 1092.8,2221 1094.5,2203.8 1096.2,2222.7 1097.9,2219.8 1099.7,2204.1 1101.4,2226 1103.1,2228.6 1104.8,2216.6 1106.6,2219.7 1108.3,2214.2 1110,2229.6 1111.7,2209 1113.4,2219.7 1115.2,2240 1116.9,2222.8 1118.6,2226.4 1120.3,2220.8 1122.1,2211.4 1123.8,2221.6 1125.5,2225.5 1127.2,2212.5 1129,2224.7 1130.7,2232.8 1132.4,2231.1 1134.1,2207.2 1135.9,2212.6 1137.6,2206.8 1139.3,2230.9 1141,2226.7 1142.8,2227.5 1144.5,2205.3 1146.2,2210.6 1147.9,2221.7 1149.7,2221.9 1151.4,2213.3 1153.1,2222.3 1154.8,2226.8 1156.6,2223.1 1158.3,2211.7 1160,2202 1161.7,2218.8 1163.5,2222.6 1165.2,2218.9 1166.9,2217.4 1168.6,2215.2 1170.4,2227.9 1172.1,2221.1 1173.8,2222.8 1175.5,2213.1 1177.3,2216.4 1179,2223.6 1180.7,2204.1 1182.4,2199.7 1184.2,2219.6 1185.9,2233.5 1187.6,2224.6 1189.3,2249.4 1191.1,2222.1 1192.8,2220.7 1194.5,2211.2 1196.2,2218.7 1198,2237 1199.7,2227.3 1201.4,2231.2 1203.1,2231.2 1204.9,2225 1206.6,2223.5 1208.3,2226.6 1210,2231.9 1211.8,2230.2 1213.5,2230.8 1215.2,2228 1216.9,2220 1218.7,2224.8 1220.4,2219 1222.1,2245.8 1223.8,2209.2 1225.5,2226.4 1227.3,2250 1229,2222.8 1230.7,2219.1 1232.4,2229.4 1234.2,2241.4 1235.9,2228.7 1237.6,2235.9 1239.3,2231.7 1241.1,2227.7 1242.8,2259.4 1244.5,2232.3 1246.2,2227.2 1248,2228 1249.7,2236 1251.4,2236.6 1253.1,2240.2 1254.9,2235 1256.6,2221.5 1258.3,2239.3 1260,2232.3 1261.8,2233 1263.5,2222.9 1265.2,2231.4 1266.9,2230.6 1268.7,2237.2 1270.4,2225.2 1272.1,2239 1273.8,2240.3 1275.6,2229.9 1277.3,2229.4 1279,2233.5 1280.7,2249.6 1282.5,2198.1 1284.2,2240 1285.9,2229.3 1287.6,2240.9 1289.4,2252.9 1291.1,2241.2 1292.8,2248.9 1294.5,2241.6 1296.3,2266.9 1298,2259.3 1299.7,2262.4 1301.4,2242.6 1303.2,2245.9 1304.9,2265.7 1306.6,2254.5 1308.3,2254.6 1310.1,2262.9 1311.8,2250.5 1313.5,2268.6 1315.2,2263.2 1317,2267.8 1318.7,2258.8 1320.4,2269.3 1322.1,2259.7 1323.9,2274.1 1325.6,2285.5 1327.3,2274.7 1329,2276.2 1330.7,2273.3 1332.5,2245.9 1334.2,2275.9 1335.9,2267.1 1337.6,2270.6 1339.4,2265.6 1341.1,2259.3 1342.8,2266.8 1344.5,2277.3 1346.3,2284 1348,2267.6 1349.7,2265.8 1351.4,2285.7 1353.2,2266.9 1354.9,2291.8 1356.6,2275.6 1358.3,2268.3 1360.1,2284.2 1361.8,2290.5 1363.5,2265.3 1365.2,2290.3 1367,2275.7 1368.7,2290.7 1370.4,2275.9 1372.1,2266.6 1373.9,2288.2 1375.6,2288 1377.3,2298 1379,2295.5 1380.8,2287.6 1382.5,2280.5 1384.2,2278.8 1385.9,2278.7 1387.7,2277.3 1389.4,2282.4 1391.1,2264.5 1392.8,2287.1 1394.6,2286 1396.3,2307.5 1398,2293.4 1399.7,2284 1401.5,2293 1403.2,2279.1 1404.9,2284.7 1406.6,2275.2 1408.4,2302.2 1410.1,2296 1411.8,2282.4 1413.5,2291.9 1415.3,2300.6 1417,2297.5 1418.7,2297.2 1420.4,2287.9 1422.2,2290.2 1423.9,2296.6 1425.6,2303.7 1427.3,2290.5 1429.1,2288.8 1430.8,2307.2 1432.5,2291.4 1434.2,2307.8 1435.9,2301.8 1437.7,2307.4 1439.4,2314.7 1441.1,2307 1442.8,2308.2 1444.6,2295.5 1446.3,2297.9 1448,2308.9 1449.7,2328.3 1451.5,2315.8 1453.2,2323.5 1454.9,2308.5 1456.6,2308.2 1458.4,2315 1460.1,2307.9 1461.8,2307.8 1463.5,2300.7 1465.3,2317.1 1467,2301.7 1468.7,2314.5 1470.4,2300.2 1472.2,2320.1 1473.9,2304.3 1475.6,2319.3 1477.3,2301.2 1479.1,2310.6 1480.8,2323.5 1482.5,2309 1484.2,2316.2 1486,2312.6 1487.7,2299.3 1489.4,2319.8 1491.1,2321.4 1492.9,2310.3 1494.6,2323.6 1496.3,2313.9 1498,2305.4 1499.8,2321.2 1501.5,2316.7 1503.2,2339.7 1504.9,2311.4 1506.7,2334.8 1508.4,2331.8 1510.1,2310.3 1511.8,2312.8 1513.6,2330.6 1515.3,2323.6 1517,2330.7 1518.7,2337 1520.5,2326.5 1522.2,2322.1 1523.9,2310.6 1525.6,2333 1527.4,2325.4 1529.1,2335.4 1530.8,2335.6 1532.5,2324.5 1534.3,2348.2 1536,2344.3 1537.7,2343.4 1539.4,2329.5 1541.2,2336 1542.9,2332 1544.6,2337.8 1546.3,2333.6 1548,2345.8 1549.8,2345.2 1551.5,2347.2 1553.2,2341.9 1554.9,2355.7 1556.7,2348.8 1558.4,2328.9 1560.1,2344.8 1561.8,2350 1563.6,2358.2 1565.3,2350.2 1567,2349.8 1568.7,2349.7 1570.5,2360.1 1572.2,2353.3 1573.9,2353.2 1575.6,2348.1 1577.4,2363.3 1579.1,2356.7 1580.8,2349.8 1582.5,2366.8 1584.3,2353.8 1586,2366.9 1587.7,2368 1589.4,2374.7 1591.2,2374.6 1592.9,2364.5 1594.6,2368.3 1596.3,2361.6 1598.1,2382.7 1599.8,2375.3 1601.5,2382.7 1603.2,2372.1 1605,2361.4 1606.7,2386.4 1608.4,2377.6 1610.1,2378.8 1611.9,2379.2 1613.6,2384 1615.3,2384.1 1617,2370.9 1618.8,2396.7 1620.5,2379.7 1622.2,2381 1623.9,2396.3 1625.7,2391.8 1627.4,2384.4 1629.1,2375.4 1630.8,2389.4 1632.6,2392.7 1634.3,2389.6 1636,2382.9 1637.7,2386.7 1639.5,2384.5 1641.2,2396.3 1642.9,2399.6 1644.6,2401.8 1646.4,2391.3 1648.1,2398.4 1649.8,2404.8 1651.5,2395.3 1653.2,2398.4 1655,2413.7 1656.7,2402.3 1658.4,2407.4 1660.1,2399.9 1661.9,2403.8 1663.6,2393.5 1665.3,2404.8 1667,2413.4 1668.8,2419.9 1670.5,2415 1672.2,2412.7 1673.9,2409.5 1675.7,2406.3 1677.4,2409.8 1679.1,2415.4 1680.8,2407.6 1682.6,2418.9 1684.3,2407.9 1686,2403.9 1687.7,2409.4 1689.5,2406.2 1691.2,2408.8 1692.9,2424.8 1694.6,2417.5 1696.4,2420.8 1698.1,2427.2 1699.8,2428.6 1701.5,2418.7 1703.3,2430.5 1705,2425.6 1706.7,2424.1 1708.4,2427.4 1710.2,2417.1 1711.9,2421.6 1713.6,2426.4 1715.3,2431.4 1717.1,2426.3 1718.8,2428.4 1720.5,2435.6 1722.2,2447.2 1724,2440.3 1725.7,2439.4 1727.4,2430.3 1729.1,2431.6 1730.9,2435.9 1732.6,2433 1734.3,2432.5 1736,2445.7 1737.8,2435.6 1739.5,2426.2 1741.2,2440.9 1742.9,2449.3 1744.7,2440.3 1746.4,2447.2 1748.1,2438.2 1749.8,2438.6 1751.6,2438.1 1753.3,2441.9 1755,2453.9 1756.7,2437.5 1758.5,2454 1760.2,2439.7 1761.9,2444.8 1763.6,2451.5 1765.3,2451 1767.1,2449.7 1768.8,2439.6 1770.5,2451.6 1772.2,2444.5 1774,2465.3 1775.7,2450.5 1777.4,2454.5 1779.1,2440.4 1780.9,2451.2 1782.6,2447.4 1784.3,2460.7 1786,2454.6 1787.8,2459.9 1789.5,2453.8 1791.2,2455.6 1792.9,2466.1 1794.7,2454.6 1796.4,2450.9 1798.1,2463.7 1799.8,2456.1 1801.6,2460.8 1803.3,2468.9 1805,2460.4 1806.7,2470.4 1808.5,2462.9 1810.2,2475.3 1811.9,2475.3 1813.6,2466.6 1815.4,2468.9 1817.1,2466.5 1818.8,2472.8 1820.5,2478.7 1822.3,2466 1824,2479.3 1825.7,2468.5 1827.4,2471.9 1829.2,2468 1830.9,2489.1 1832.6,2479.4 1834.3,2481.3 1836.1,2477.6 1837.8,2487.4 1839.5,2472.2 1841.2,2484.1 1843,2496.1 1844.7,2483.9 1846.4,2486.9 1848.1,2491.2 1849.9,2484.8 1851.6,2489.9 1853.3,2495.6 1855,2492.8 1856.8,2494.7 1858.5,2492.1 1860.2,2496.4 1861.9,2496.2 1863.7,2511.1 1865.4,2501.5 1867.1,2497.8" fill="none" stroke="#000000" stroke-width="5.5" stroke-linejoin="miter" stroke-miterlimit="3"/>
<rect x="128" y="2670.5" width="29" height="29" fill="#000000"/>
<rect x="220" y="2690.3" width="29" height="29" fill="#000000"/>
<rect x="312" y="2688.3" width="29" height="29" fill="#000000"/>
<rect x="403.9" y="2660.5" width="29" height="29" fill="#000000"/>
<rect x="495.9" y="2601" width="29" height="29" fill="#000000"/>
<rect x="587.9" y="2503.5" width="29" height="29" fill="#000000"/>
<rect x="679.9" y="2434.5" width="29" height="29" fill="#000000"/>
<rect x="771.9" y="2351.5" width="29" height="29" fill="#000000"/>
<rect x="863.8" y="2280.3" width="29" height="29" fill="#000000"/>
<rect x="955.8" y="2228.5" width="29" height="29" fill="#000000"/>
<rect x="1047.8" y="2212.5" width="29" height="29" fill="#000000"/>
<rect x="1139.8" y="2206.5" width="29" height="29" fill="#000000"/>
<rect x="1231.7" y="2228.5" width="29" height="29" fill="#000000"/>
<rect x="1323.7" y="2272.5" width="29" height="29" fill="#000000"/>
<rect x="1415.7" y="2264.5" width="29" height="29" fill="#000000"/>
<rect x="1507.7" y="2302.2" width="29" height="29" fill="#000000"/>
<rect x="1599.7" y="2365.5" width="29" height="29" fill="#000000"/>
<rect x="1691.6" y="2409.3" width="29" height="29" fill="#000000"/>
<rect x="1783.6" y="2447" width="29" height="29" fill="#000000"/>
<polyline points="142.5,1838.5 144.2,1855.8 145.9,1903.4 147.7,1915.9 149.4,1946.8 151.1,1937.2 152.8,1954.5 154.6,1979.3 156.3,1978.9 158,1982.3 159.7,1996.8 161.5,1992.6 163.2,2007.4 164.9,1996.9 166.6,2017.3 168.4,2023.9 170.1,2042 171.8,2055.4 173.5,2054.8 175.3,2086.3 177,2082.9 178.7,2084.3 180.4,2092.9 182.2,2131.4 183.9,2127.3 185.6,2130.7 187.3,2137.2 189.1,2141.5 190.8,2166.4 192.5,2161.8 194.2,2181.9 196,2172.8 197.7,2162.3 199.4,2191.8 201.1,2188.1 202.9,2194.5 204.6,2213.5 206.3,2205.3 208,2221.6 209.8,2218.6 211.5,2218.7 213.2,2237.5 214.9,2230.9 216.7,2250.1 218.4,2253.4 220.1,2252 221.8,2266 223.6,2266.4 225.3,2263.3 227,2279.4 228.7,2276.3 230.5,2288 232.2,2281.6 233.9,2294.9 235.6,2302.8 237.4,2299.5 239.1,2308.2 240.8,2313.3 242.5,2334.3 244.3,2324.2 246,2339.1 247.7,2353.5 249.4,2351.1 251.1,2342.6 252.9,2362 254.6,2375.1 256.3,2371.3 258,2396.3 259.8,2390.2 261.5,2394.6 263.2,2395.2 264.9,2398.9 266.7,2406.2 268.4,2413.7 270.1,2422.1 271.8,2426 273.6,2425 275.3,2431.8 277,2438 278.7,2426.5 280.5,2436.3 282.2,2439.5 283.9,2447.2 285.6,2449.9 287.4,2453.2 289.1,2451.6 290.8,2466.2 292.5,2468.3 294.3,2454.5 296,2469.7 297.7,2463.8 299.4,2487.7 301.2,2474 302.9,2477 304.6,2483.1 306.3,2482 308.1,2486.8 309.8,2501.1 311.5,2493.5 313.2,2500.3 315,2504.7 316.7,2491.1 318.4,2513.2 320.1,2507.8 321.9,2511.9 323.6,2500.3 325.3,2514.9 327,2517.1 328.8,2508.8 330.5,2531.9 332.2,2521.1 333.9,2517 335.7,2523.8 337.4,2529.5 339.1,2533.1 340.8,2530.8 342.6,2537.5 344.3,2541.2 346,2522.7 347.7,2530.1 349.5,2528.4 351.2,2537.9 352.9,2549.6 354.6,2545.3 356.4,2534.2 358.1,2541.3 359.8,2552.7 361.5,2542.4 363.2,2547.1 365,2551.4 366.7,2536.7 368.4,2557.4 370.1,2555.3 371.9,2558.1 373.6,2547.5 375.3,2550 377,2552.3 378.8,2559.6 380.5,2559.1 382.2,2560.4 383.9,2573.7 385.7,2570.8 387.4,2556.4 389.1,2557.7 390.8,2576.2 392.6,2561.7 394.3,2575.1 396,2577.5 397.7,2562.1 399.5,2564.8 401.2,2568.1 402.9,2561.6 404.6,2561.4 406.4,2563.5 408.1,2576.5 409.8,2567.3 411.5,2569.8 413.3,2568.5 415,2562.4 416.7,2584.4 418.4,2556.4 420.2,2569.7 421.9,2579.5 423.6,2565.5 425.3,2581.1 427.1,2586.7 428.8,2571.5 430.5,2580.1 432.2,2570.9 434,2583.7 435.7,2581.2 437.4,2584.5 439.1,2592 440.9,2585.9 442.6,2593.1 444.3,2588.4 446,2575.2 447.8,2586.8 449.5,2589.1 451.2,2575.1 452.9,2606.7 454.7,2587.6 456.4,2590.4 458.1,2581.5 459.8,2589.3 461.6,2591.5 463.3,2587.4 465,2590.9 466.7,2574.9 468.4,2601.6 470.2,2583.6 471.9,2576.1 473.6,2585.9 475.3,2587.4 477.1,2598.3 478.8,2588 480.5,2597.5 482.2,2588.8 484,2613.1 485.7,2601.2 487.4,2612.3 489.1,2590.5 490.9,2603.6 492.6,2591.9 494.3,2603.9 496,2605 497.8,2588.4 499.5,2592.1 501.2,2592.2 502.9,2589.9 504.7,2595.9 506.4,2594.4 508.1,2590.8 509.8,2603.3 511.6,2605.8 513.3,2591.9 515,2593.5 516.7,2601.8 518.5,2600 520.2,2596.4 521.9,2607.8 523.6,2608.1 525.4,2606.8 527.1,2600.1 528.8,2616.6 530.5,2614.7 532.3,2598.7 534,2600.8 535.7,2610.6 537.4,2595.7 539.2,2604.7 540.9,2602 542.6,2596.4 544.3,2599.9 546.1,2589.9 547.8,2597.6 549.5,2586.7 551.2,2618.8 553,2613 554.7,2610.9 556.4,2603.9 558.1,2609.2 559.9,2611.2 561.6,2617 563.3,2608.5 565,2588 566.8,2604.9 568.5,2593.7 570.2,2592.8 571.9,2593.1 573.6,2608.1 575.4,2609.5 577.1,2591.4 578.8,2614.7 580.5,2612.7 582.3,2598.8 584,2598.2 585.7,2601.1 587.4,2609 589.2,2598.8 590.9,2593.3 592.6,2604.2 594.3,2586.1 596.1,2602.7 597.8,2610.3 599.5,2603.9 601.2,2607.5 603,2605.3 604.7,2607.1 606.4,2602.7 608.1,2595.5 609.9,2600 611.6,2601.2 613.3,2611.3 615,2614.1 616.8,2605.2 618.5,2596.5 620.2,2596.8 621.9,2600.9 623.7,2612.9 625.4,2605.1 627.1,2602.3 628.8,2597.1 630.6,2609.7 632.3,2605.4 634,2603 635.7,2604.3 637.5,2616.3 639.2,2602.6 640.9,2616.7 642.6,2613.5 644.4,2604.8 646.1,2611.2 647.8,2603.8 649.5,2598.7 651.3,2603.1 653,2598.5 654.7,2609.3 656.4,2605.7 658.2,2610.1 659.9,2612.2 661.6,2582.7 663.3,2608.6 665.1,2593 666.8,2607.9 668.5,2600.2 670.2,2607.7 672,2617.3 673.7,2594.4 675.4,2608.7 677.1,2606.8 678.9,2593.3 680.6,2612.5 682.3,2608 684,2604 685.7,2602.4 687.5,2632 689.2,2605 690.9,2581 692.6,2601 694.4,2605.3 696.1,2605.1 697.8,2607.4 699.5,2592.2 701.3,2611.9 703,2604.2 704.7,2597.5 706.4,2601.5 708.2,2604.6 709.9,2613.8 711.6,2610.9 713.3,2602 715.1,2607.1 716.8,2608.4 718.5,2621.9 720.2,2601.8 722,2609.8 723.7,2611.5 725.4,2598.7 727.1,2607.1 728.9,2606.7 730.6,2601.7 732.3,2609.3 734,2612.5 735.8,2613.1 737.5,2602.9 739.2,2605.6 740.9,2639.2 742.7,2595.4 744.4,2605.1 746.1,2609.9 747.8,2604.2 749.6,2607.7 751.3,2605.2 753,2608 754.7,2611.8 756.5,2600.3 758.2,2603.3 759.9,2601.2 761.6,2598.4 763.4,2601.1 765.1,2592.6 766.8,2606.5 768.5,2613.6 770.3,2626.2 772,2610.1 773.7,2593.2 775.4,2611.7 777.2,2594.9 778.9,2599.8 780.6,2613.9 782.3,2592 784.1,2606.3 785.8,2602.1 787.5,2598.9 789.2,2593.4 790.9,2606.4 792.7,2596.5 794.4,2607.9 796.1,2609.2 797.8,2589.7 799.6,2596.3 801.3,2597.7 803,2591.3 804.7,2591.8 806.5,2600.9 808.2,2598.7 809.9,2587.9 811.6,2596.3 813.4,2608.2 815.1,2591.4 816.8,2593.6 818.5,2612.5 820.3,2610.5 822,2588.5 823.7,2590.6 825.4,2603.6 827.2,2591.9 828.9,2599 830.6,2597.6 832.3,2605.2 834.1,2582.1 835.8,2584.6 837.5,2592 839.2,2608.8 841,2599 842.7,2588.5 844.4,2605.1 846.1,2606.7 847.9,2599.6 849.6,2599.1 851.3,2604.9 853,2610.7 854.8,2602.8 856.5,2609.7 858.2,2601.4 859.9,2598.9 861.7,2588.1 863.4,2603.8 865.1,2599.6 866.8,2600.1 868.6,2608.9 870.3,2605.6 872,2608.5 873.7,2590.2 875.5,2606.2 877.2,2597.6 878.9,2595.9 880.6,2595.6 882.4,2611 884.1,2608 885.8,2596.3 887.5,2593 889.3,2601.4 891,2597.7 892.7,2613.3 894.4,2589.6 896.2,2586.6 897.9,2598 899.6,2599.7 901.3,2600.3 903,2604.5 904.8,2614 906.5,2595.5 908.2,2593.6 909.9,2584 911.7,2598.6 913.4,2602.7 915.1,2593.9 916.8,2604.2 918.6,2595.1 920.3,2605.8 922,2596.4 923.7,2585.5 925.5,2588.1 927.2,2580.9 928.9,2565.9 930.6,2593.5 932.4,2597.5 934.1,2605.2 935.8,2589.6 937.5,2587.8 939.3,2572.5 941,2596.1 942.7,2591.2 944.4,2583.4 946.2,2592.6 947.9,2591.3 949.6,2572.7 951.3,2592 953.1,2587.1 954.8,2582.9 956.5,2582.4 958.2,2598.4 960,2596.6 961.7,2598.6 963.4,2576.2 965.1,2579.8 966.9,2591.4 968.6,2575.5 970.3,2579.1 972,2571 973.8,2612.3 975.5,2592.5 977.2,2588 978.9,2586.2 980.7,2581.4 982.4,2581.6 984.1,2589.2 985.8,2579.3 987.6,2593.9 989.3,2581 991,2578.2 992.7,2604.3 994.5,2583.8 996.2,2589 997.9,2581.8 999.6,2568.1 1001.4,2589.1 1003.1,2564.9 1004.8,2593.2 1006.5,2573.6 1008.2,2571.3 1010,2587.6 1011.7,2588.5 1013.4,2586.2 1015.1,2576.4 1016.9,2598.8 1018.6,2574.6 1020.3,2582.1 1022,2579.8 1023.8,2582.9 1025.5,2592.2 1027.2,2581.1 1028.9,2590.1 1030.7,2591.2 1032.4,2573.2 1034.1,2577.3 1035.8,2583.2 1037.6,2581.7 1039.3,2588.5 1041,2571.7 1042.7,2591.7 1044.5,2591.9 1046.2,2585.1 1047.9,2576 1049.6,2586.4 1051.4,2582.4 1053.1,2590.7 1054.8,2585.8 1056.5,2591.9 1058.3,2583.2 1060,2597.3 1061.7,2569.2 1063.4,2578.9 1065.2,2590.2 1066.9,2575.1 1068.6,2592 1070.3,2577.3 1072.1,2587.1 1073.8,2579.4 1075.5,2582.9 1077.2,2587.5 1079,2585.3 1080.7,2583.2 1082.4,2602.1 1084.1,2585.9 1085.9,2578.5 1087.6,2592.6 1089.3,2597.8 1091,2594.6 1092.8,2598.7 1094.5,2578.1 1096.2,2593 1097.9,2593.5 1099.7,2584.8 1101.4,2586.5 1103.1,2562 1104.8,2580.1 1106.6,2597.6 1108.3,2570.7 1110,2579.9 1111.7,2586 1113.4,2588 1115.2,2608 1116.9,2570.1 1118.6,2583.5 1120.3,2589.5 1122.1,2573 1123.8,2582.4 1125.5,2596.7 1127.2,2592.3 1129,2586.3 1130.7,2542.9 1132.4,2581 1134.1,2584.8 1135.9,2579.4 1137.6,2581.1 1139.3,2604.6 1141,2579.7 1142.8,2573.9 1144.5,2582.9 1146.2,2578.6 1147.9,2578.5 1149.7,2580.1 1151.4,2586.5 1153.1,2582.3 1154.8,2571.5 1156.6,2579.4 1158.3,2583.9 1160,2576.7 1161.7,2588.8 1163.5,2591.7 1165.2,2572.6 1166.9,2582.3 1168.6,2594.7 1170.4,2591.5 1172.1,2579.3 1173.8,2586.4 1175.5,2574.5 1177.3,2568.7 1179,2583.6 1180.7,2581.2 1182.4,2583.2 1184.2,2579.1 1185.9,2581.7 1187.6,2575.3 1189.3,2582.6 1191.1,2585.3 1192.8,2578.5 1194.5,2585 1196.2,2565.6 1198,2572.9 1199.7,2589.6 1201.4,2591.9 1203.1,2580.5 1204.9,2577.8 1206.6,2569 1208.3,2581.2 1210,2584.2 1211.8,2567.2 1213.5,2582.4 1215.2,2581.9 1216.9,2584.7 1218.7,2569.6 1220.4,2582 1222.1,2566.7 1223.8,2589 1225.5,2578.8 1227.3,2568.9 1229,2587.7 1230.7,2586.1 1232.4,2572.5 1234.2,2593.8 1235.9,2569.7 1237.6,2579.5 1239.3,2585.9 1241.1,2559.9 1242.8,2584.3 1244.5,2576.2 1246.2,2576.5 1248,2568.4 1249.7,2578.8 1251.4,2567.9 1253.1,2568.8 1254.9,2572.5 1256.6,2566.5 1258.3,2599.1 1260,2565.3 1261.8,2569.4 1263.5,2572.5 1265.2,2574.6 1266.9,2580.3 1268.7,2580.3 1270.4,2571.6 1272.1,2570.7 1273.8,2573.6 1275.6,2579.2 1277.3,2578 1279,2568.6 1280.7,2556.7 1282.5,2588 1284.2,2578.7 1285.9,2575.2 1287.6,2576.1 1289.4,2566.7 1291.1,2562.8 1292.8,2567.5 1294.5,2568 1296.3,2564.7 1298,2558.1 1299.7,2566.4 1301.4,2572.8 1303.2,2564.4 1304.9,2568.1 1306.6,2552 1308.3,2565.6 1310.1,2566 1311.8,2557.4 1313.5,2553.3 1315.2,2569.1 1317,2559.6 1318.7,2569.1 1320.4,2562 1322.1,2569.5 1323.9,2562 1325.6,2553 1327.3,2563.4 1329,2561.4 1330.7,2568.5 1332.5,2560 1334.2,2560.2 1335.9,2569.4 1337.6,2571.5 1339.4,2568.3 1341.1,2570.2 1342.8,2565.6 1344.5,2567.8 1346.3,2568.4 1348,2564.6 1349.7,2561.9 1351.4,2562.3 1353.2,2579.1 1354.9,2560.9 1356.6,2558.9 1358.3,2557.7 1360.1,2560 1361.8,2561.9 1363.5,2551.4 1365.2,2544.8 1367,2561.7 1368.7,2547.2 1370.4,2561 1372.1,2559.9 1373.9,2567.3 1375.6,2571 1377.3,2561.1 1379,2554 1380.8,2549.1 1382.5,2551.8 1384.2,2557.9 1385.9,2541.9 1387.7,2558.4 1389.4,2557 1391.1,2561.8 1392.8,2554.3 1394.6,2557.4 1396.3,2551 1398,2552.9 1399.7,2542.9 1401.5,2557 1403.2,2567.6 1404.9,2557.1 1406.6,2558.5 1408.4,2548.3 1410.1,2566.3 1411.8,2549.7 1413.5,2561.4 1415.3,2556.1 1417,2548.1 1418.7,2562.9 1420.4,2555.3 1422.2,2556.4 1423.9,2558.5 1425.6,2554.9 1427.3,2552.2 1429.1,2558.5 1430.8,2552 1432.5,2555.5 1434.2,2550 1435.9,2543.9 1437.7,2550.1 1439.4,2551.6 1441.1,2555.5 1442.8,2564.4 1444.6,2543 1446.3,2556.8 1448,2539.4 1449.7,2548.3 1451.5,2552.6 1453.2,2522.8 1454.9,2542.8 1456.6,2558.2 1458.4,2557.8 1460.1,2556.6 1461.8,2551.7 1463.5,2574.1 1465.3,2557 1467,2552.1 1468.7,2571.4 1470.4,2563.7 1472.2,2556.6 1473.9,2568.6 1475.6,2561.1 1477.3,2565 1479.1,2562.2 1480.8,2553 1482.5,2575.6 1484.2,2562.5 1486,2554 1487.7,2556.1 1489.4,2569.3 1491.1,2559.6 1492.9,2562.9 1494.6,2567.7 1496.3,2565 1498,2551.8 1499.8,2568.3 1501.5,2570.7 1503.2,2570.4 1504.9,2576.2 1506.7,2567 1508.4,2570.2 1510.1,2576.4 1511.8,2562.5 1513.6,2577.8 1515.3,2577.8 1517,2570.8 1518.7,2578.8 1520.5,2571.4 1522.2,2558.4 1523.9,2573.5 1525.6,2567.4 1527.4,2568.1 1529.1,2566.1 1530.8,2575.1 1532.5,2569.1 1534.3,2559.7 1536,2568.5 1537.7,2570.3 1539.4,2559.3 1541.2,2561.5 1542.9,2561.8 1544.6,2560.1 1546.3,2567.2 1548,2572.2 1549.8,2578.7 1551.5,2582.4 1553.2,2572.1 1554.9,2572.9 1556.7,2574.3 1558.4,2561.4 1560.1,2574.6 1561.8,2566.5 1563.6,2562.1 1565.3,2557.1 1567,2560.1 1568.7,2561.8 1570.5,2554.5 1572.2,2567.6 1573.9,2563.5 1575.6,2564.4 1577.4,2568.6 1579.1,2568.9 1580.8,2558.9 1582.5,2562.5 1584.3,2551.2 1586,2546.6 1587.7,2548.6 1589.4,2574.6 1591.2,2549.4 1592.9,2566.6 1594.6,2574 1596.3,2559.5 1598.1,2575.1 1599.8,2576.7 1601.5,2577 1603.2,2580.6 1605,2567.4 1606.7,2557.3 1608.4,2566.7 1610.1,2559.4 1611.9,2553 1613.6,2553.2 1615.3,2580.1 1617,2558.7 1618.8,2562.6 1620.5,2557.8 1622.2,2563.8 1623.9,2561 1625.7,2559.8 1627.4,2553.8 1629.1,2541.8 1630.8,2557.4 1632.6,2567.5 1634.3,2578.6 1636,2571 1637.7,2576.8 1639.5,2570.6 1641.2,2562.6 1642.9,2553.4 1644.6,2563.4 1646.4,2547.4 1648.1,2561.3 1649.8,2575.8 1651.5,2566.2 1653.2,2572.2 1655,2561 1656.7,2553.6 1658.4,2560.4 1660.1,2561.1 1661.9,2573.2 1663.6,2579.1 1665.3,2558.8 1667,2561.8 1668.8,2563.5 1670.5,2562.1 1672.2,2555.4 1673.9,2565.6 1675.7,2567.7 1677.4,2568 1679.1,2556.1 1680.8,2564.4 1682.6,2552.4 1684.3,2572.4 1686,2558 1687.7,2563.7 1689.5,2562.5 1691.2,2561.6 1692.9,2558.1 1694.6,2552.9 1696.4,2579.3 1698.1,2568.3 1699.8,2568.5 1701.5,2582.4 1703.3,2566 1705,2571 1706.7,2567.1 1708.4,2576 1710.2,2571 1711.9,2572.3 1713.6,2565.6 1715.3,2569.8 1717.1,2576.6 1718.8,2552.5 1720.5,2567.4 1722.2,2565.4 1724,2566.5 1725.7,2554.2 1727.4,2580.5 1729.1,2563.2 1730.9,2568.1 1732.6,2566.3 1734.3,2557.8 1736,2567.3 1737.8,2557.1 1739.5,2557.3 1741.2,2569.1 1742.9,2571.7 1744.7,2572.5 1746.4,2571.3 1748.1,2588.7 1749.8,2576.2 1751.6,2564.1 1753.3,2568.9 1755,2568.9 1756.7,2571.7 1758.5,2569.9 1760.2,2568.2 1761.9,2587.3 1763.6,2575.5 1765.3,2572.9 1767.1,2573.8 1768.8,2574.3 1770.5,2586.6 1772.2,2580 1774,2585 1775.7,2553.4 1777.4,2579.5 1779.1,2585.2 1780.9,2592.2 1782.6,2577.8 1784.3,2564.8 1786,2582.2 1787.8,2573.4 1789.5,2564.6 1791.2,2573.5 1792.9,2586.1 1794.7,2596.5 1796.4,2583.7 1798.1,2570.4 1799.8,2597.1 1801.6,2569.5 1803.3,2577.7 1805,2567.4 1806.7,2588.1 1808.5,2581.6 1810.2,2584.9 1811.9,2578.9 1813.6,2577.7 1815.4,2579.5 1817.1,2564 1818.8,2585.5 1820.5,2584.9 1822.3,2575.1 1824,2577.9 1825.7,2580.2 1827.4,2589.6 1829.2,2584.6 1830.9,2578.1 1832.6,2573.9 1834.3,2566.3 1836.1,2573 1837.8,2578 1839.5,2575.4 1841.2,2577.8 1843,2588.6 1844.7,2580.3 1846.4,2579 1848.1,2581.7 1849.9,2578.1 1851.6,2576.3 1853.3,2579.9 1855,2563.3 1856.8,2585.5 1858.5,2566.2 1860.2,2582 1861.9,2575.6 1863.7,2592.3 1865.4,2575.4 1867.1,2567.9" fill="none" stroke="#ff0000" stroke-width="5.5" stroke-linejoin="miter" stroke-miterlimit="3"/>
<circle cx="142.5" cy="1869.4" r="15.5" fill="#ff0000"/>
<circle cx="234.5" cy="2296" r="15.5" fill="#ff0000"/>
<circle cx="326.5" cy="2510" r="15.5" fill="#ff0000"/>
<circle cx="418.4" cy="2573.8" r="15.5" fill="#ff0000"/>
<circle cx="510.4" cy="2601.6" r="15.5" fill="#ff0000"/>
<circle cx="602.4" cy="2601.6" r="15.5" fill="#ff0000"/>
<circle cx="694.4" cy="2608" r="15.5" fill="#ff0000"/>
<circle cx="786.4" cy="2600" r="15.5" fill="#ff0000"/>
<circle cx="878.3" cy="2602" r="15.5" fill="#ff0000"/>
<circle cx="970.3" cy="2584.5" r="15.5" fill="#ff0000"/>
<circle cx="1062.3" cy="2586.5" r="15.5" fill="#ff0000"/>
<circle cx="1154.3" cy="2580.5" r="15.5" fill="#ff0000"/>
<circle cx="1246.2" cy="2576.6" r="15.5" fill="#ff0000"/>
<circle cx="1338.2" cy="2562.7" r="15.5" fill="#ff0000"/>
<circle cx="1430.2" cy="2555" r="15.5" fill="#ff0000"/>
<circle cx="1522.2" cy="2565" r="15.5" fill="#ff0000"/>
<circle cx="1614.2" cy="2562.7" r="15.5" fill="#ff0000"/>
<circle cx="1706.1" cy="2566.7" r="15.5" fill="#ff0000"/>
<circle cx="1798.1" cy="2578" r="15.5" fill="#ff0000"/>
<polyline points="142.5,1975.6 144.2,1987.6 145.9,1985.6 147.7,1998.4 149.4,2004.5 151.1,2014.2 152.8,2019.7 154.6,2031.6 156.3,2057.5 158,2044 159.7,2051 161.5,2056.3 163.2,2081.9 164.9,2082.9 166.6,2083 168.4,2090.7 170.1,2088.4 171.8,2098.6 173.5,2108.8 175.3,2113.6 177,2114 178.7,2121 180.4,2135.8 182.2,2140.9 183.9,2131.9 185.6,2152.4 187.3,2166.2 189.1,2160.3 190.8,2172.3 192.5,2167.8 194.2,2188.6 196,2182.4 197.7,2187.7 199.4,2199.8 201.1,2223 202.9,2210.1 204.6,2212 206.3,2229 208,2234.8 209.8,2248.6 211.5,2235.9 213.2,2239.8 214.9,2253.8 216.7,2264.1 218.4,2270 220.1,2280.8 221.8,2270.4 223.6,2280.7 225.3,2291 227,2303 228.7,2306.3 230.5,2305.9 232.2,2307.1 233.9,2323.9 235.6,2328.7 237.4,2344.2 239.1,2329.9 240.8,2345.4 242.5,2331.2 244.3,2339.2 246,2337.6 247.7,2347 249.4,2342.2 251.1,2353.5 252.9,2360 254.6,2357.7 256.3,2371.1 258,2369.6 259.8,2373.3 261.5,2385.8 263.2,2381.5 264.9,2383.5 266.7,2385.4 268.4,2389 270.1,2398.7 271.8,2389.5 273.6,2404.9 275.3,2410.6 277,2411 278.7,2403.6 280.5,2399.7 282.2,2410.1 283.9,2417 285.6,2424.5 287.4,2419.8 289.1,2423.6 290.8,2438.4 292.5,2427.6 294.3,2441.8 296,2443.9 297.7,2432.8 299.4,2446.1 301.2,2443.9 302.9,2444.4 304.6,2429.7 306.3,2446.4 308.1,2462 309.8,2459.7 311.5,2466.7 313.2,2461 315,2468.4 316.7,2471.3 318.4,2465.7 320.1,2467.5 321.9,2483.2 323.6,2483.6 325.3,2479 327,2486.4 328.8,2497.3 330.5,2502.7 332.2,2487.4 333.9,2498.9 335.7,2510.4 337.4,2499.2 339.1,2509.9 340.8,2485.9 342.6,2513.4 344.3,2505.8 346,2495.7 347.7,2514.3 349.5,2517.6 351.2,2520.2 352.9,2521.7 354.6,2515.5 356.4,2512.4 358.1,2515.7 359.8,2519.9 361.5,2526.5 363.2,2519.8 365,2524.6 366.7,2531.2 368.4,2529 370.1,2542.8 371.9,2543.2 373.6,2523.3 375.3,2528.2 377,2524.7 378.8,2526.8 380.5,2538.9 382.2,2530.2 383.9,2531 385.7,2537.1 387.4,2545 389.1,2538.7 390.8,2539.8 392.6,2549 394.3,2547.2 396,2548.1 397.7,2552.2 399.5,2540.6 401.2,2549.4 402.9,2544.9 404.6,2556.4 406.4,2555.9 408.1,2544.8 409.8,2560.8 411.5,2545.6 413.3,2561.3 415,2555.8 416.7,2549.6 418.4,2548.7 420.2,2554.5 421.9,2556.9 423.6,2548.3 425.3,2561.8 427.1,2540.6 428.8,2559.2 430.5,2559.8 432.2,2548.4 434,2562.8 435.7,2553.2 437.4,2545.8 439.1,2558.3 440.9,2559.6 442.6,2569 444.3,2560.5 446,2573.5 447.8,2573.6 449.5,2571.8 451.2,2573.7 452.9,2567.8 454.7,2558.6 456.4,2570.5 458.1,2572.9 459.8,2568.5 461.6,2564 463.3,2557.6 465,2572.2 466.7,2572.5 468.4,2560.2 470.2,2569.4 471.9,2573.7 473.6,2568.7 475.3,2574.7 477.1,2574.8 478.8,2551.2 480.5,2568.7 482.2,2574 484,2577 485.7,2580.5 487.4,2559.4 489.1,2570.9 490.9,2576.8 492.6,2580.2 494.3,2583.4 496,2566.8 497.8,2570.6 499.5,2566.4 501.2,2578.5 502.9,2564.9 504.7,2581.1 506.4,2579.5 508.1,2576.7 509.8,2559.7 511.6,2569.2 513.3,2578.4 515,2564.4 516.7,2571.9 518.5,2572.7 520.2,2578.9 521.9,2574.9 523.6,2576.2 525.4,2569.9 527.1,2572.5 528.8,2571.4 530.5,2576.7 532.3,2570.6 534,2578.1 535.7,2560.3 537.4,2578.6 539.2,2569.5 540.9,2577.5 542.6,2570.4 544.3,2575 546.1,2578.7 547.8,2565.2 549.5,2568.9 551.2,2566.9 553,2568.9 554.7,2556.7 556.4,2565.6 558.1,2564.7 559.9,2560.8 561.6,2564.2 563.3,2555.1 565,2573.5 566.8,2567 568.5,2587.6 570.2,2557.6 571.9,2555.3 573.6,2564.1 575.4,2551.2 577.1,2562.9 578.8,2556.5 580.5,2558.4 582.3,2561.8 584,2560 585.7,2571.3 587.4,2563 589.2,2550.2 590.9,2564.4 592.6,2549.1 594.3,2557.9 596.1,2549 597.8,2551.3 599.5,2573 601.2,2552.4 603,2551.5 604.7,2551.8 606.4,2553.1 608.1,2564 609.9,2546.9 611.6,2538.1 613.3,2557.6 615,2543.4 616.8,2551 618.5,2560.3 620.2,2552.8 621.9,2549.4 623.7,2547.7 625.4,2546.1 627.1,2547.9 628.8,2552.3 630.6,2559.2 632.3,2557.1 634,2547 635.7,2540.7 637.5,2554.6 639.2,2538.2 640.9,2546.8 642.6,2547.3 644.4,2541.9 646.1,2535.7 647.8,2550.8 649.5,2537.7 651.3,2542.2 653,2543.6 654.7,2548 656.4,2538.4 658.2,2560.6 659.9,2542.4 661.6,2544.7 663.3,2543.8 665.1,2541.5 666.8,2539.3 668.5,2552.6 670.2,2546.3 672,2544 673.7,2550.8 675.4,2539.5 677.1,2547.8 678.9,2543.4 680.6,2537.5 682.3,2547.7 684,2533 685.7,2546.4 687.5,2536.2 689.2,2544.2 690.9,2550.1 692.6,2544.5 694.4,2536.7 696.1,2540 697.8,2537.5 699.5,2531.9 701.3,2531.9 703,2538.9 704.7,2541.6 706.4,2514.7 708.2,2536.9 709.9,2540.1 711.6,2537.1 713.3,2529.5 715.1,2542.1 716.8,2527.2 718.5,2538.6 720.2,2544.2 722,2520.4 723.7,2534.6 725.4,2534.4 727.1,2533.4 728.9,2526.5 730.6,2526.3 732.3,2521.4 734,2530.7 735.8,2535.6 737.5,2524.5 739.2,2522.3 740.9,2524.7 742.7,2527.1 744.4,2527 746.1,2525.5 747.8,2526.1 749.6,2516.7 751.3,2507.2 753,2528 754.7,2541.2 756.5,2514.1 758.2,2518.4 759.9,2524.1 761.6,2527.8 763.4,2525.4 765.1,2529 766.8,2520 768.5,2522.6 770.3,2522.2 772,2516.4 773.7,2526.4 775.4,2522.4 777.2,2524.3 778.9,2515.2 780.6,2529.9 782.3,2510.3 784.1,2519.2 785.8,2482.5 787.5,2509.8 789.2,2520.6 790.9,2512.8 792.7,2516.5 794.4,2493.9 796.1,2524.8 797.8,2518.5 799.6,2514.4 801.3,2517 803,2516.2 804.7,2522.9 806.5,2515.1 808.2,2504.2 809.9,2511.7 811.6,2521.3 813.4,2516.6 815.1,2510.1 816.8,2516.5 818.5,2513.2 820.3,2516.2 822,2502.1 823.7,2506.3 825.4,2516.1 827.2,2510.2 828.9,2513.7 830.6,2523.8 832.3,2509.2 834.1,2512.6 835.8,2503.2 837.5,2506.8 839.2,2510.1 841,2501.2 842.7,2496.9 844.4,2518.8 846.1,2509.3 847.9,2516.9 849.6,2510.5 851.3,2510.4 853,2513.6 854.8,2513.7 856.5,2501.3 858.2,2523.5 859.9,2502.4 861.7,2510.3 863.4,2524.4 865.1,2508.5 866.8,2518.4 868.6,2505.4 870.3,2511.3 872,2507.5 873.7,2509.6 875.5,2501.3 877.2,2500.7 878.9,2508.4 880.6,2496.1 882.4,2500.4 884.1,2509.6 885.8,2501.3 887.5,2499.3 889.3,2497.6 891,2505.3 892.7,2501.7 894.4,2504.6 896.2,2502.2 897.9,2514.8 899.6,2499.9 901.3,2489.9 903,2502.7 904.8,2501.6 906.5,2502.3 908.2,2490.7 909.9,2507.7 911.7,2500 913.4,2499.5 915.1,2489.4 916.8,2502 918.6,2498.2 920.3,2506.8 922,2495.2 923.7,2489.7 925.5,2497.9 927.2,2490.9 928.9,2499 930.6,2489.1 932.4,2494.8 934.1,2493.8 935.8,2494.6 937.5,2491.2 939.3,2488.9 941,2492.3 942.7,2489.7 944.4,2493.9 946.2,2490.9 947.9,2478.1 949.6,2491.5 951.3,2500.4 953.1,2493.2 954.8,2494.7 956.5,2493.5 958.2,2487.3 960,2481.6 961.7,2499.3 963.4,2502.1 965.1,2492.7 966.9,2491.5 968.6,2491.1 970.3,2488.2 972,2489.9 973.8,2488 975.5,2489.7 977.2,2481.5 978.9,2483.3 980.7,2490.6 982.4,2481.9 984.1,2471.4 985.8,2487.2 987.6,2456.9 989.3,2498 991,2490.3 992.7,2493.4 994.5,2481.3 996.2,2478.2 997.9,2483.8 999.6,2485 1001.4,2479.9 1003.1,2485.6 1004.8,2488.7 1006.5,2488 1008.2,2477.6 1010,2470.4 1011.7,2483.8 1013.4,2479.5 1015.1,2486.2 1016.9,2493.5 1018.6,2493.3 1020.3,2484.7 1022,2489.7 1023.8,2492.9 1025.5,2482.7 1027.2,2484 1028.9,2487.4 1030.7,2481.7 1032.4,2478.7 1034.1,2477 1035.8,2481.5 1037.6,2477.4 1039.3,2486.1 1041,2476.2 1042.7,2489.9 1044.5,2488.1 1046.2,2472.7 1047.9,2486.9 1049.6,2477.5 1051.4,2488.3 1053.1,2482.8 1054.8,2479.1 1056.5,2483.4 1058.3,2475.5 1060,2482.4 1061.7,2481 1063.4,2477.4 1065.2,2480.5 1066.9,2471.7 1068.6,2481.1 1070.3,2469.8 1072.1,2480.9 1073.8,2479.7 1075.5,2480.9 1077.2,2472.8 1079,2494.7 1080.7,2474.2 1082.4,2476.8 1084.1,2470.4 1085.9,2483.6 1087.6,2471.5 1089.3,2480.2 1091,2467.9 1092.8,2475.3 1094.5,2470.8 1096.2,2478.5 1097.9,2468.4 1099.7,2466.7 1101.4,2474.5 1103.1,2464 1104.8,2465.1 1106.6,2475.5 1108.3,2458.8 1110,2474.7 1111.7,2467.2 1113.4,2463.7 1115.2,2470.6 1116.9,2472.6 1118.6,2464.8 1120.3,2467 1122.1,2472.7 1123.8,2472.1 1125.5,2466.9 1127.2,2457.1 1129,2460.8 1130.7,2462.6 1132.4,2470.2 1134.1,2469.3 1135.9,2467.4 1137.6,2473.8 1139.3,2463.1 1141,2462.4 1142.8,2462.2 1144.5,2476 1146.2,2451.5 1147.9,2467.2 1149.7,2466.5 1151.4,2463.9 1153.1,2477.7 1154.8,2470.4 1156.6,2467.8 1158.3,2451.7 1160,2465.8 1161.7,2460.4 1163.5,2462.8 1165.2,2463.6 1166.9,2459.3 1168.6,2465.9 1170.4,2471.9 1172.1,2468.1 1173.8,2463 1175.5,2437.7 1177.3,2468 1179,2467.8 1180.7,2459.9 1182.4,2458 1184.2,2464.8 1185.9,2455.7 1187.6,2470.2 1189.3,2453.8 1191.1,2454.7 1192.8,2460.3 1194.5,2451.1 1196.2,2459.9 1198,2463.1 1199.7,2451.6 1201.4,2465.2 1203.1,2456 1204.9,2462.7 1206.6,2460.6 1208.3,2456.4 1210,2455.9 1211.8,2448.5 1213.5,2454.6 1215.2,2454.1 1216.9,2468.7 1218.7,2464.8 1220.4,2450.2 1222.1,2463.4 1223.8,2459.8 1225.5,2456 1227.3,2461.1 1229,2463.1 1230.7,2454.7 1232.4,2456.5 1234.2,2459.1 1235.9,2452.1 1237.6,2459.2 1239.3,2457.5 1241.1,2453.8 1242.8,2452.9 1244.5,2459.8 1246.2,2463.3 1248,2462 1249.7,2452.8 1251.4,2462.6 1253.1,2459.2 1254.9,2461.8 1256.6,2472.5 1258.3,2453 1260,2457.8 1261.8,2455.1 1263.5,2453.6 1265.2,2471.3 1266.9,2465 1268.7,2448.8 1270.4,2462.4 1272.1,2456.6 1273.8,2467.2 1275.6,2461 1277.3,2459.7 1279,2462 1280.7,2463.7 1282.5,2461.9 1284.2,2460.6 1285.9,2461.5 1287.6,2465.7 1289.4,2456.1 1291.1,2463.2 1292.8,2462.9 1294.5,2461 1296.3,2473.2 1298,2456.8 1299.7,2462.7 1301.4,2460.1 1303.2,2468.9 1304.9,2460.3 1306.6,2466.6 1308.3,2469 1310.1,2457.3 1311.8,2470 1313.5,2463.1 1315.2,2466.4 1317,2467.6 1318.7,2473.5 1320.4,2473.3 1322.1,2479.9 1323.9,2471.6 1325.6,2466.8 1327.3,2466.9 1329,2474.2 1330.7,2489.9 1332.5,2472.8 1334.2,2463.9 1335.9,2472.8 1337.6,2472.9 1339.4,2471.7 1341.1,2467.2 1342.8,2456.5 1344.5,2468.8 1346.3,2478.6 1348,2473.7 1349.7,2445.8 1351.4,2472.8 1353.2,2461.8 1354.9,2485.3 1356.6,2474.5 1358.3,2466.3 1360.1,2478.6 1361.8,2469.2 1363.5,2480.9 1365.2,2474.4 1367,2467.3 1368.7,2478.7 1370.4,2466.7 1372.1,2483.1 1373.9,2475.6 1375.6,2469.1 1377.3,2464.5 1379,2485.5 1380.8,2484.7 1382.5,2468.4 1384.2,2486.2 1385.9,2477.4 1387.7,2475.2 1389.4,2476.1 1391.1,2475.2 1392.8,2485.6 1394.6,2478 1396.3,2466.1 1398,2490.1 1399.7,2482.9 1401.5,2471 1403.2,2475.6 1404.9,2472.4 1406.6,2478.3 1408.4,2480.5 1410.1,2479.6 1411.8,2471 1413.5,2473.5 1415.3,2488.8 1417,2477.9 1418.7,2492.3 1420.4,2473.8 1422.2,2483.6 1423.9,2479.1 1425.6,2474.3 1427.3,2487.2 1429.1,2479.7 1430.8,2473.6 1432.5,2477.1 1434.2,2485.2 1435.9,2471.7 1437.7,2487.5 1439.4,2483.3 1441.1,2477.5 1442.8,2487.4 1444.6,2489.8 1446.3,2482.9 1448,2481.3 1449.7,2490.5 1451.5,2488.4 1453.2,2473.7 1454.9,2478.1 1456.6,2478 1458.4,2476.9 1460.1,2470.3 1461.8,2484.9 1463.5,2479.9 1465.3,2480 1467,2488 1468.7,2476 1470.4,2479.1 1472.2,2481.1 1473.9,2476.8 1475.6,2478.8 1477.3,2484.2 1479.1,2479.4 1480.8,2487.6 1482.5,2474.9 1484.2,2480.8 1486,2470.8 1487.7,2478.8 1489.4,2475.3 1491.1,2496.2 1492.9,2484.1 1494.6,2485.8 1496.3,2490.9 1498,2488.5 1499.8,2484.1 1501.5,2471.3 1503.2,2470.9 1504.9,2479.5 1506.7,2477.6 1508.4,2475.8 1510.1,2476.2 1511.8,2459.6 1513.6,2489 1515.3,2472.9 1517,2475.8 1518.7,2483.4 1520.5,2460 1522.2,2485.6 1523.9,2485.8 1525.6,2478.2 1527.4,2473.6 1529.1,2477.5 1530.8,2469.2 1532.5,2489.2 1534.3,2481.6 1536,2476.6 1537.7,2475.8 1539.4,2485.2 1541.2,2491.2 1542.9,2474.5 1544.6,2475.6 1546.3,2472.2 1548,2487.5 1549.8,2484.7 1551.5,2498 1553.2,2483.8 1554.9,2482.3 1556.7,2481.1 1558.4,2491.1 1560.1,2476.4 1561.8,2491.5 1563.6,2488.8 1565.3,2484.7 1567,2477.2 1568.7,2495.3 1570.5,2500.8 1572.2,2487.1 1573.9,2493.6 1575.6,2501.6 1577.4,2487.6 1579.1,2490.3 1580.8,2484.9 1582.5,2492 1584.3,2492.9 1586,2491.4 1587.7,2489.9 1589.4,2485.2 1591.2,2487.2 1592.9,2489.9 1594.6,2500.4 1596.3,2490.6 1598.1,2492.1 1599.8,2501.8 1601.5,2501.7 1603.2,2494 1605,2495.2 1606.7,2503.5 1608.4,2502.1 1610.1,2495 1611.9,2502 1613.6,2500.7 1615.3,2508.1 1617,2496.2 1618.8,2512.7 1620.5,2504.8 1622.2,2489.9 1623.9,2509.2 1625.7,2508.6 1627.4,2495.1 1629.1,2515.8 1630.8,2496.7 1632.6,2498.3 1634.3,2502.3 1636,2509.3 1637.7,2508.4 1639.5,2504.5 1641.2,2513.8 1642.9,2508.1 1644.6,2514.4 1646.4,2523.5 1648.1,2507.5 1649.8,2490.5 1651.5,2503.9 1653.2,2500.3 1655,2507.8 1656.7,2508 1658.4,2500 1660.1,2500.7 1661.9,2506.5 1663.6,2507.1 1665.3,2492.3 1667,2514.9 1668.8,2509.3 1670.5,2509.2 1672.2,2511.4 1673.9,2503.4 1675.7,2509.7 1677.4,2516.8 1679.1,2524 1680.8,2516.6 1682.6,2507.5 1684.3,2506.1 1686,2519.8 1687.7,2515.1 1689.5,2509.4 1691.2,2498.7 1692.9,2507.2 1694.6,2500.8 1696.4,2521.1 1698.1,2514.7 1699.8,2509.1 1701.5,2512.4 1703.3,2530.9 1705,2530.2 1706.7,2506.6 1708.4,2514.6 1710.2,2508 1711.9,2505.2 1713.6,2518.7 1715.3,2532.2 1717.1,2527.2 1718.8,2518 1720.5,2515.7 1722.2,2519.8 1724,2525.5 1725.7,2510 1727.4,2507.8 1729.1,2532.2 1730.9,2522.4 1732.6,2531.3 1734.3,2523 1736,2531.4 1737.8,2518.5 1739.5,2526.1 1741.2,2533.3 1742.9,2530.4 1744.7,2518.4 1746.4,2530.5 1748.1,2521 1749.8,2516.6 1751.6,2529.6 1753.3,2535.7 1755,2532.7 1756.7,2519.6 1758.5,2533.8 1760.2,2533.1 1761.9,2526.2 1763.6,2513.7 1765.3,2543.2 1767.1,2536.4 1768.8,2534.4 1770.5,2520.5 1772.2,2522.5 1774,2539.1 1775.7,2538.3 1777.4,2536.8 1779.1,2532.5 1780.9,2537.1 1782.6,2531.5 1784.3,2533.4 1786,2530.3 1787.8,2538 1789.5,2534.1 1791.2,2543.4 1792.9,2542.4 1794.7,2532.9 1796.4,2550.4 1798.1,2531.7 1799.8,2542.3 1801.6,2546.8 1803.3,2548.5 1805,2526.4 1806.7,2547.6 1808.5,2549.4 1810.2,2551.2 1811.9,2527.9 1813.6,2538.3 1815.4,2542.5 1817.1,2540.6 1818.8,2552.6 1820.5,2539.9 1822.3,2552.7 1824,2548.8 1825.7,2536.1 1827.4,2539.5 1829.2,2543.3 1830.9,2547.4 1832.6,2560 1834.3,2546.3 1836.1,2553.8 1837.8,2538.1 1839.5,2528.9 1841.2,2546.9 1843,2552.5 1844.7,2547.5 1846.4,2543.7 1848.1,2553.4 1849.9,2563.6 1851.6,2550.7 1853.3,2547.1 1855,2546.7 1856.8,2565.3 1858.5,2552.7 1860.2,2557.3 1861.9,2561.6 1863.7,2561.1 1865.4,2548.4 1867.1,2561" fill="none" stroke="#0000ff" stroke-width="5.5" stroke-linejoin="miter" stroke-miterlimit="3"/>
<path d="M123 1990L162 1990L142.5 1958Z" fill="#0000ff"/>
<path d="M215 2331L254 2331L234.5 2299Z" fill="#0000ff"/>
<path d="M307 2497.5L346 2497.5L326.5 2465.5Z" fill="#0000ff"/>
<path d="M398.9 2567L437.9 2567L418.4 2535Z" fill="#0000ff"/>
<path d="M490.9 2584.8L529.9 2584.8L510.4 2552.8Z" fill="#0000ff"/>
<path d="M582.9 2567L621.9 2567L602.4 2535Z" fill="#0000ff"/>
<path d="M674.9 2552L713.9 2552L694.4 2520Z" fill="#0000ff"/>
<path d="M766.9 2528L805.9 2528L786.4 2496Z" fill="#0000ff"/>
<path d="M858.8 2518L897.8 2518L878.3 2486Z" fill="#0000ff"/>
<path d="M950.8 2500L989.8 2500L970.3 2468Z" fill="#0000ff"/>
<path d="M1042.8 2490L1081.8 2490L1062.3 2458Z" fill="#0000ff"/>
<path d="M1134.8 2474.5L1173.8 2474.5L1154.3 2442.5Z" fill="#0000ff"/>
<path d="M1226.7 2469L1265.7 2469L1246.2 2437Z" fill="#0000ff"/>
<path d="M1318.7 2482.4L1357.7 2482.4L1338.2 2450.4Z" fill="#0000ff"/>
<path d="M1410.7 2490L1449.7 2490L1430.2 2458Z" fill="#0000ff"/>
<path d="M1502.7 2491L1541.7 2491L1522.2 2459Z" fill="#0000ff"/>
<path d="M1594.7 2512L1633.7 2512L1614.2 2480Z" fill="#0000ff"/>
<path d="M1686.6 2526L1725.6 2526L1706.1 2494Z" fill="#0000ff"/>
<path d="M1778.6 2550L1817.6 2550L1798.1 2518Z" fill="#0000ff"/>
<polyline points="142.5,2118.7 144.2,2124.6 145.9,2134.9 147.7,2128.1 149.4,2146.6 151.1,2148 152.8,2162.1 154.6,2164.7 156.3,2165.4 158,2160.2 159.7,2167.4 161.5,2165.3 163.2,2200.5 164.9,2177 166.6,2188.1 168.4,2199.4 170.1,2178.8 171.8,2187.5 173.5,2195.3 175.3,2184.3 177,2194.8 178.7,2205.2 180.4,2225 182.2,2223.4 183.9,2220.5 185.6,2223.8 187.3,2196.6 189.1,2236.3 190.8,2237 192.5,2216.5 194.2,2241.2 196,2240.6 197.7,2235.6 199.4,2239.3 201.1,2245 202.9,2245.4 204.6,2260.9 206.3,2262.8 208,2265.2 209.8,2263.4 211.5,2264.1 213.2,2288.9 214.9,2256.4 216.7,2286.6 218.4,2281.7 220.1,2282.2 221.8,2279.3 223.6,2284.6 225.3,2278.6 227,2279.5 228.7,2293.6 230.5,2282.4 232.2,2307.6 233.9,2312.8 235.6,2274.6 237.4,2294.4 239.1,2313.5 240.8,2315.8 242.5,2317.6 244.3,2323.2 246,2328.9 247.7,2332.7 249.4,2343.7 251.1,2330.6 252.9,2340.9 254.6,2321.2 256.3,2337.3 258,2330.2 259.8,2356.4 261.5,2367.6 263.2,2354.1 264.9,2328.2 266.7,2353.5 268.4,2357.4 270.1,2361.5 271.8,2372.1 273.6,2373.4 275.3,2343.5 277,2382.1 278.7,2367.9 280.5,2369.7 282.2,2402.5 283.9,2377.3 285.6,2369.8 287.4,2372.6 289.1,2387.5 290.8,2397.5 292.5,2405.3 294.3,2392.6 296,2392.3 297.7,2413.5 299.4,2397.1 301.2,2416.7 302.9,2408 304.6,2410.3 306.3,2408.3 308.1,2415.4 309.8,2410.7 311.5,2411 313.2,2418.1 315,2415.6 316.7,2426.3 318.4,2426.4 320.1,2425.3 321.9,2427.8 323.6,2429.6 325.3,2449.2 327,2435.1 328.8,2432 330.5,2436.5 332.2,2447 333.9,2441.1 335.7,2443.4 337.4,2444.4 339.1,2450 340.8,2453.8 342.6,2456.1 344.3,2439.2 346,2436.3 347.7,2433.8 349.5,2466.3 351.2,2470.8 352.9,2474.2 354.6,2465.4 356.4,2476 358.1,2466.8 359.8,2467.5 361.5,2442.1 363.2,2464.4 365,2467.4 366.7,2482.3 368.4,2504.8 370.1,2472.1 371.9,2480.8 373.6,2480.9 375.3,2472.5 377,2465 378.8,2474.8 380.5,2469.6 382.2,2480.7 383.9,2481.8 385.7,2483.9 387.4,2485 389.1,2491.8 390.8,2480 392.6,2497.3 394.3,2475.1 396,2491.6 397.7,2495.3 399.5,2485.5 401.2,2479 402.9,2499.7 404.6,2488.6 406.4,2502.2 408.1,2502.7 409.8,2496.2 411.5,2496.7 413.3,2505.9 415,2500.7 416.7,2489.2 418.4,2499.3 420.2,2502.9 421.9,2499.8 423.6,2499.8 425.3,2496.9 427.1,2497.2 428.8,2490 430.5,2485.6 432.2,2508.6 434,2492.9 435.7,2500.6 437.4,2485.2 439.1,2500.1 440.9,2483.7 442.6,2525.4 444.3,2489.7 446,2490.2 447.8,2507.4 449.5,2509.2 451.2,2480.2 452.9,2501.4 454.7,2514.7 456.4,2488.3 458.1,2505.5 459.8,2494.7 461.6,2490.6 463.3,2496.5 465,2495.7 466.7,2487.6 468.4,2520.3 470.2,2496.6 471.9,2494.4 473.6,2509.2 475.3,2501.4 477.1,2514.6 478.8,2500.9 480.5,2507.1 482.2,2505.4 484,2506.8 485.7,2504.1 487.4,2505.7 489.1,2522.4 490.9,2502 492.6,2503.8 494.3,2506.3 496,2515.1 497.8,2514.1 499.5,2519.4 501.2,2499.5 502.9,2514.2 504.7,2510.7 506.4,2509.9 508.1,2514.1 509.8,2477.3 511.6,2515.2 513.3,2513.9 515,2499.6 516.7,2511.2 518.5,2525.5 520.2,2507.7 521.9,2515.9 523.6,2508 525.4,2502.1 527.1,2500.4 528.8,2504.3 530.5,2518.6 532.3,2513.5 534,2499 535.7,2513.3 537.4,2502.4 539.2,2496.4 540.9,2505.5 542.6,2492.6 544.3,2485.8 546.1,2510.5 547.8,2481.8 549.5,2502 551.2,2482.8 553,2495.4 554.7,2491.1 556.4,2486.2 558.1,2474.2 559.9,2492.1 561.6,2492.3 563.3,2484.3 565,2490.5 566.8,2500.6 568.5,2485.2 570.2,2493.8 571.9,2481.1 573.6,2494.6 575.4,2496.8 577.1,2513.1 578.8,2499 580.5,2494.7 582.3,2503.3 584,2472.8 585.7,2500.1 587.4,2485.7 589.2,2485 590.9,2500.1 592.6,2492.4 594.3,2502 596.1,2477.3 597.8,2492.5 599.5,2485.3 601.2,2487.5 603,2472.8 604.7,2497.9 606.4,2491.4 608.1,2480.6 609.9,2477.2 611.6,2473.4 613.3,2501.2 615,2487.8 616.8,2485.5 618.5,2492.7 620.2,2488.2 621.9,2490 623.7,2494.3 625.4,2490.4 627.1,2495 628.8,2476.5 630.6,2487.4 632.3,2483.4 634,2487.3 635.7,2485.3 637.5,2480.3 639.2,2482.6 640.9,2493.8 642.6,2480.3 644.4,2474 646.1,2490 647.8,2493.1 649.5,2481.9 651.3,2486.2 653,2468.9 654.7,2481.8 656.4,2493.1 658.2,2490.2 659.9,2484.3 661.6,2480.3 663.3,2468.2 665.1,2485.2 666.8,2486.2 668.5,2491.3 670.2,2499.6 672,2485 673.7,2490 675.4,2471.6 677.1,2491.9 678.9,2488.8 680.6,2493.1 682.3,2486.9 684,2484.8 685.7,2493.8 687.5,2474.9 689.2,2486.3 690.9,2499.7 692.6,2473.7 694.4,2470.5 696.1,2484.4 697.8,2481.7 699.5,2486 701.3,2486.3 703,2474 704.7,2483.7 706.4,2490.7 708.2,2477.7 709.9,2478.4 711.6,2471 713.3,2488.1 715.1,2498.1 716.8,2469 718.5,2487.8 720.2,2489.1 722,2476.3 723.7,2478 725.4,2472.2 727.1,2474.5 728.9,2482.9 730.6,2487.3 732.3,2482.6 734,2489.2 735.8,2483.5 737.5,2471.6 739.2,2494.6 740.9,2492.4 742.7,2475.8 744.4,2513.4 746.1,2486.3 747.8,2483.4 749.6,2499.1 751.3,2460.5 753,2468.4 754.7,2488.8 756.5,2480.4 758.2,2474.3 759.9,2495.9 761.6,2487 763.4,2471.6 765.1,2477.1 766.8,2490.3 768.5,2498.6 770.3,2465.4 772,2485.3 773.7,2479.8 775.4,2467.8 777.2,2481.7 778.9,2469.1 780.6,2478.5 782.3,2497.4 784.1,2487.8 785.8,2490.1 787.5,2488.5 789.2,2486.4 790.9,2491.8 792.7,2473 794.4,2480 796.1,2490.6 797.8,2476.7 799.6,2479.2 801.3,2493.5 803,2496.3 804.7,2472.4 806.5,2475.5 808.2,2487.7 809.9,2484.8 811.6,2476.4 813.4,2487.5 815.1,2487 816.8,2482.7 818.5,2507.6 820.3,2493.6 822,2488.7 823.7,2499.7 825.4,2507.2 827.2,2490.7 828.9,2468.6 830.6,2483.5 832.3,2481.2 834.1,2470.7 835.8,2482.5 837.5,2482.2 839.2,2479.3 841,2471.4 842.7,2486.7 844.4,2465.2 846.1,2493.9 847.9,2478.9 849.6,2481 851.3,2457.5 853,2493 854.8,2462.8 856.5,2470.2 858.2,2483.3 859.9,2472.1 861.7,2473.6 863.4,2457.4 865.1,2473 866.8,2478.5 868.6,2482.4 870.3,2473.7 872,2478 873.7,2479.7 875.5,2469.8 877.2,2468.9 878.9,2492.6 880.6,2467.7 882.4,2485.8 884.1,2475.4 885.8,2487.5 887.5,2463.5 889.3,2478.6 891,2476.8 892.7,2471.6 894.4,2476.1 896.2,2466.3 897.9,2472.1 899.6,2469 901.3,2479 903,2471.2 904.8,2459.4 906.5,2468.2 908.2,2470.3 909.9,2462.9 911.7,2482.3 913.4,2473.9 915.1,2477.4 916.8,2463 918.6,2465.9 920.3,2478 922,2456.2 923.7,2471.8 925.5,2469.1 927.2,2463.6 928.9,2468.5 930.6,2458 932.4,2471.6 934.1,2456.2 935.8,2455.4 937.5,2478.8 939.3,2460 941,2447.3 942.7,2474.4 944.4,2458.8 946.2,2434.3 947.9,2464.7 949.6,2481.8 951.3,2468 953.1,2479.9 954.8,2463.5 956.5,2469.7 958.2,2455.4 960,2465.7 961.7,2477.7 963.4,2468.5 965.1,2465.4 966.9,2446.5 968.6,2460.6 970.3,2452.5 972,2470.8 973.8,2457.4 975.5,2467.1 977.2,2455.1 978.9,2480.7 980.7,2453.6 982.4,2465.2 984.1,2487.3 985.8,2466 987.6,2456.4 989.3,2469.6 991,2473 992.7,2472 994.5,2446.8 996.2,2466.3 997.9,2445.6 999.6,2481.3 1001.4,2465.2 1003.1,2460.5 1004.8,2470.6 1006.5,2469 1008.2,2454.3 1010,2479.3 1011.7,2462.8 1013.4,2449.4 1015.1,2477.5 1016.9,2492.9 1018.6,2476.4 1020.3,2470.2 1022,2457.5 1023.8,2473.9 1025.5,2482.2 1027.2,2473 1028.9,2480.1 1030.7,2459 1032.4,2475.1 1034.1,2474.5 1035.8,2453 1037.6,2451.9 1039.3,2460.1 1041,2467.3 1042.7,2470.7 1044.5,2464.8 1046.2,2466.3 1047.9,2466 1049.6,2467.9 1051.4,2472.4 1053.1,2471.8 1054.8,2467 1056.5,2469.9 1058.3,2463.7 1060,2482.5 1061.7,2463.4 1063.4,2497.8 1065.2,2468 1066.9,2470.8 1068.6,2461.7 1070.3,2465.6 1072.1,2470.4 1073.8,2469.3 1075.5,2463.8 1077.2,2459.3 1079,2470.3 1080.7,2471.5 1082.4,2475.4 1084.1,2481.9 1085.9,2468.3 1087.6,2453.6 1089.3,2470.4 1091,2455.5 1092.8,2460.9 1094.5,2481.9 1096.2,2478.1 1097.9,2467.6 1099.7,2468.1 1101.4,2473.3 1103.1,2458.8 1104.8,2483.9 1106.6,2472 1108.3,2492 1110,2466.4 1111.7,2485.2 1113.4,2470.5 1115.2,2486 1116.9,2468.5 1118.6,2484.1 1120.3,2473.9 1122.1,2470.8 1123.8,2477.1 1125.5,2483 1127.2,2482.7 1129,2493.5 1130.7,2487 1132.4,2456.2 1134.1,2473.4 1135.9,2462.4 1137.6,2477.1 1139.3,2486.3 1141,2468.9 1142.8,2470.4 1144.5,2482.4 1146.2,2478.7 1147.9,2495.5 1149.7,2487.7 1151.4,2486.2 1153.1,2497.2 1154.8,2477 1156.6,2481.5 1158.3,2472.6 1160,2483.8 1161.7,2500.6 1163.5,2493.7 1165.2,2481.1 1166.9,2469.2 1168.6,2468.2 1170.4,2468.8 1172.1,2482.4 1173.8,2493.5 1175.5,2460 1177.3,2461.7 1179,2493.8 1180.7,2466.7 1182.4,2484.1 1184.2,2459 1185.9,2488 1187.6,2488 1189.3,2482.4 1191.1,2488.3 1192.8,2481.2 1194.5,2485.8 1196.2,2497.1 1198,2490.5 1199.7,2474.7 1201.4,2473.3 1203.1,2478.3 1204.9,2478.4 1206.6,2481 1208.3,2474.9 1210,2486.1 1211.8,2480.6 1213.5,2483.4 1215.2,2480.2 1216.9,2485.6 1218.7,2459.1 1220.4,2494.2 1222.1,2483.1 1223.8,2484 1225.5,2485.4 1227.3,2489.6 1229,2493.7 1230.7,2481.9 1232.4,2478.1 1234.2,2464.9 1235.9,2481.6 1237.6,2476.9 1239.3,2476.9 1241.1,2501.3 1242.8,2446.9 1244.5,2480.2 1246.2,2490.6 1248,2488.3 1249.7,2490.8 1251.4,2468.3 1253.1,2471 1254.9,2485.3 1256.6,2477 1258.3,2495.1 1260,2484.5 1261.8,2481.5 1263.5,2483.7 1265.2,2477.3 1266.9,2480.8 1268.7,2473.6 1270.4,2479.4 1272.1,2475.4 1273.8,2482 1275.6,2467 1277.3,2466.3 1279,2483.9 1280.7,2484.6 1282.5,2471.1 1284.2,2477.7 1285.9,2470.3 1287.6,2498.1 1289.4,2465.7 1291.1,2495.2 1292.8,2472.4 1294.5,2488.1 1296.3,2477.4 1298,2476.3 1299.7,2488.2 1301.4,2487.1 1303.2,2477.2 1304.9,2471.6 1306.6,2498.4 1308.3,2492.4 1310.1,2481.1 1311.8,2477.1 1313.5,2482.4 1315.2,2480.5 1317,2490.6 1318.7,2471.1 1320.4,2480 1322.1,2472.7 1323.9,2491.6 1325.6,2496 1327.3,2479 1329,2484.7 1330.7,2492.5 1332.5,2477.1 1334.2,2471.4 1335.9,2489.2 1337.6,2484.4 1339.4,2478 1341.1,2493 1342.8,2482.1 1344.5,2464.1 1346.3,2483.4 1348,2479.9 1349.7,2497.6 1351.4,2480.8 1353.2,2479.4 1354.9,2485.6 1356.6,2484.2 1358.3,2469.7 1360.1,2483.9 1361.8,2480.3 1363.5,2496.4 1365.2,2505.8 1367,2474.7 1368.7,2476.6 1370.4,2478.2 1372.1,2480.5 1373.9,2480.8 1375.6,2488 1377.3,2498 1379,2477.1 1380.8,2475.5 1382.5,2473.4 1384.2,2500.6 1385.9,2503.2 1387.7,2478.1 1389.4,2477.9 1391.1,2494.3 1392.8,2503.6 1394.6,2503.6 1396.3,2496.8 1398,2501.8 1399.7,2499.2 1401.5,2491.9 1403.2,2514.6 1404.9,2498 1406.6,2488.6 1408.4,2494.9 1410.1,2485.7 1411.8,2500.3 1413.5,2510.5 1415.3,2489.7 1417,2522.6 1418.7,2520.7 1420.4,2505.7 1422.2,2492.2 1423.9,2488.4 1425.6,2500.2 1427.3,2492 1429.1,2492.5 1430.8,2501.6 1432.5,2502.5 1434.2,2509.7 1435.9,2493.6 1437.7,2521.4 1439.4,2514.3 1441.1,2512.9 1442.8,2499.1 1444.6,2520.8 1446.3,2502.2 1448,2521.7 1449.7,2515.1 1451.5,2497.5 1453.2,2501.6 1454.9,2522.7 1456.6,2514.9 1458.4,2504.6 1460.1,2507.9 1461.8,2508 1463.5,2499.3 1465.3,2504.6 1467,2500.5 1468.7,2502.7 1470.4,2510.8 1472.2,2490.3 1473.9,2513.3 1475.6,2507.8 1477.3,2513.8 1479.1,2515 1480.8,2518.3 1482.5,2512.8 1484.2,2513.6 1486,2505.7 1487.7,2512.6 1489.4,2499.4 1491.1,2505.4 1492.9,2514.4 1494.6,2507.3 1496.3,2511.9 1498,2498.5 1499.8,2520.4 1501.5,2503 1503.2,2511.9 1504.9,2508.9 1506.7,2516.9 1508.4,2505.2 1510.1,2499.8 1511.8,2491.8 1513.6,2506.3 1515.3,2498.4 1517,2514.2 1518.7,2522.5 1520.5,2489.6 1522.2,2498.2 1523.9,2512.8 1525.6,2521.4 1527.4,2513.2 1529.1,2513.6 1530.8,2515.5 1532.5,2516.4 1534.3,2526.3 1536,2517.3 1537.7,2500.9 1539.4,2508.2 1541.2,2514.7 1542.9,2505.8 1544.6,2511.2 1546.3,2509.1 1548,2507.9 1549.8,2520.9 1551.5,2511.6 1553.2,2505.6 1554.9,2503.8 1556.7,2516.7 1558.4,2535.9 1560.1,2519.6 1561.8,2531.1 1563.6,2522.6 1565.3,2480.6 1567,2522.5 1568.7,2511.9 1570.5,2507.8 1572.2,2510.8 1573.9,2554.2 1575.6,2493.8 1577.4,2516.4 1579.1,2533 1580.8,2529 1582.5,2508 1584.3,2523 1586,2519.8 1587.7,2523.2 1589.4,2532.2 1591.2,2520.7 1592.9,2523.5 1594.6,2540.1 1596.3,2510.6 1598.1,2524.4 1599.8,2532.5 1601.5,2517.4 1603.2,2523.5 1605,2517.7 1606.7,2531.5 1608.4,2524.8 1610.1,2538 1611.9,2540.6 1613.6,2532.1 1615.3,2528.6 1617,2534.8 1618.8,2533.4 1620.5,2522.2 1622.2,2543.4 1623.9,2536.1 1625.7,2541.7 1627.4,2522.6 1629.1,2543.3 1630.8,2554.9 1632.6,2541.8 1634.3,2511.1 1636,2537.4 1637.7,2536.9 1639.5,2539.8 1641.2,2536.2 1642.9,2543.2 1644.6,2534.9 1646.4,2541.7 1648.1,2528.3 1649.8,2541.3 1651.5,2549.9 1653.2,2536.8 1655,2547.7 1656.7,2534 1658.4,2539.1 1660.1,2540.7 1661.9,2554.6 1663.6,2536.7 1665.3,2555.1 1667,2518.7 1668.8,2543.4 1670.5,2553.5 1672.2,2551.9 1673.9,2536.8 1675.7,2535.2 1677.4,2554.7 1679.1,2535.6 1680.8,2552.7 1682.6,2543 1684.3,2548 1686,2569.5 1687.7,2577.7 1689.5,2556.7 1691.2,2536.8 1692.9,2552.5 1694.6,2550.4 1696.4,2549.3 1698.1,2562.6 1699.8,2535.1 1701.5,2553.8 1703.3,2552.3 1705,2544.6 1706.7,2583.8 1708.4,2540.3 1710.2,2552.3 1711.9,2552.9 1713.6,2532.4 1715.3,2539.6 1717.1,2543.9 1718.8,2568 1720.5,2561.7 1722.2,2558.6 1724,2555.6 1725.7,2533.5 1727.4,2555.6 1729.1,2549.1 1730.9,2564.6 1732.6,2566.3 1734.3,2595.7 1736,2560.8 1737.8,2561.9 1739.5,2545.2 1741.2,2555.4 1742.9,2543.5 1744.7,2563.1 1746.4,2544.1 1748.1,2551.9 1749.8,2547.8 1751.6,2551.1 1753.3,2559.6 1755,2550.4 1756.7,2557.7 1758.5,2538.2 1760.2,2582.1 1761.9,2550.2 1763.6,2565.4 1765.3,2575.8 1767.1,2534.2 1768.8,2539.1 1770.5,2554.8 1772.2,2567.5 1774,2552.5 1775.7,2560.5 1777.4,2550.5 1779.1,2562.5 1780.9,2546.4 1782.6,2565.3 1784.3,2530.5 1786,2540.7 1787.8,2574.8 1789.5,2559.9 1791.2,2550.4 1792.9,2578.9 1794.7,2568.5 1796.4,2569.5 1798.1,2555.5 1799.8,2565.3 1801.6,2564.5 1803.3,2544.9 1805,2565.8 1806.7,2558.9 1808.5,2572.7 1810.2,2573.1 1811.9,2555.6 1813.6,2556.3 1815.4,2563.9 1817.1,2568.5 1818.8,2555.9 1820.5,2562.1 1822.3,2569.1 1824,2567.8 1825.7,2574.9 1827.4,2566.8 1829.2,2556.9 1830.9,2533.7 1832.6,2573.3 1834.3,2563.2 1836.1,2563.5 1837.8,2564.5 1839.5,2553.1 1841.2,2564.4 1843,2544.5 1844.7,2565.2 1846.4,2561.1 1848.1,2604.3 1849.9,2574.4 1851.6,2568.8 1853.3,2572.8 1855,2578.5 1856.8,2565.3 1858.5,2570.6 1860.2,2569.9 1861.9,2596.6 1863.7,2574.9 1865.4,2556.6 1867.1,2582.5" fill="none" stroke="#ff00ff" stroke-width="5.5" stroke-linejoin="miter" stroke-miterlimit="3"/>
<path d="M123 2110.4L162 2110.4L142.5 2142.4Z" fill="#ff00ff"/>
<path d="M215 2293L254 2293L234.5 2325Z" fill="#ff00ff"/>
<path d="M307 2424L346 2424L326.5 2456Z" fill="#ff00ff"/>
<path d="M398.9 2487L437.9 2487L418.4 2519Z" fill="#ff00ff"/>
<path d="M490.9 2502L529.9 2502L510.4 2534Z" fill="#ff00ff"/>
<path d="M582.9 2479L621.9 2479L602.4 2511Z" fill="#ff00ff"/>
<path d="M674.9 2469.6L713.9 2469.6L694.4 2501.6Z" fill="#ff00ff"/>
<path d="M766.9 2472L805.9 2472L786.4 2504Z" fill="#ff00ff"/>
<path d="M858.8 2464L897.8 2464L878.3 2496Z" fill="#ff00ff"/>
<path d="M950.8 2452.5L989.8 2452.5L970.3 2484.5Z" fill="#ff00ff"/>
<path d="M1042.8 2456.5L1081.8 2456.5L1062.3 2488.5Z" fill="#ff00ff"/>
<path d="M1134.8 2470L1173.8 2470L1154.3 2502Z" fill="#ff00ff"/>
<path d="M1226.7 2468L1265.7 2468L1246.2 2500Z" fill="#ff00ff"/>
<path d="M1318.7 2468L1357.7 2468L1338.2 2500Z" fill="#ff00ff"/>
<path d="M1410.7 2492L1449.7 2492L1430.2 2524Z" fill="#ff00ff"/>
<path d="M1502.7 2498L1541.7 2498L1522.2 2530Z" fill="#ff00ff"/>
<path d="M1594.7 2520L1633.7 2520L1614.2 2552Z" fill="#ff00ff"/>
<path d="M1686.6 2539.8L1725.6 2539.8L1706.1 2571.8Z" fill="#ff00ff"/>
<path d="M1778.6 2547.7L1817.6 2547.7L1798.1 2579.7Z" fill="#ff00ff"/>
<polyline points="142.5,1926.3 144.2,1932.3 145.9,1971.2 147.7,1944.7 149.4,1953.5 151.1,1961.9 152.8,1968.7 154.6,1980.3 156.3,1980.5 158,1992 159.7,1995 161.5,2008.8 163.2,2017.7 164.9,2000.4 166.6,2030 168.4,2013.5 170.1,2028.9 171.8,2029.8 173.5,2027.3 175.3,2014.4 177,2053.7 178.7,2033.4 180.4,2036.4 182.2,2058.1 183.9,2051.3 185.6,2072.5 187.3,2073.2 189.1,2073.5 190.8,2064.4 192.5,2072 194.2,2053.8 196,2071.1 197.7,2073.2 199.4,2069.3 201.1,2078.8 202.9,2063.9 204.6,2089.6 206.3,2095.6 208,2071.9 209.8,2088.3 211.5,2104.3 213.2,2095.1 214.9,2082.7 216.7,2085.2 218.4,2105.5 220.1,2117.3 221.8,2090.4 223.6,2103.6 225.3,2097.7 227,2104.8 228.7,2112.9 230.5,2111.7 232.2,2107.6 233.9,2158.9 235.6,2117.8 237.4,2120.1 239.1,2135.6 240.8,2127.4 242.5,2128 244.3,2142.2 246,2125.3 247.7,2145.9 249.4,2151.7 251.1,2151 252.9,2144.1 254.6,2150.4 256.3,2136.5 258,2154.3 259.8,2162.7 261.5,2180.4 263.2,2167.6 264.9,2165.6 266.7,2164.3 268.4,2175.4 270.1,2180.5 271.8,2194.4 273.6,2185.7 275.3,2183.9 277,2191.1 278.7,2190.6 280.5,2196.3 282.2,2180 283.9,2189.3 285.6,2196.5 287.4,2220.9 289.1,2213.9 290.8,2219.3 292.5,2244.1 294.3,2213.7 296,2238.4 297.7,2233.9 299.4,2226 301.2,2250.7 302.9,2224.7 304.6,2230.5 306.3,2242.4 308.1,2251.2 309.8,2248 311.5,2231.4 313.2,2252.1 315,2256.7 316.7,2285.1 318.4,2275.8 320.1,2265.8 321.9,2255.9 323.6,2272.2 325.3,2259.3 327,2274.8 328.8,2278.4 330.5,2272.7 332.2,2281.1 333.9,2277.4 335.7,2277 337.4,2299.8 339.1,2292.4 340.8,2285.6 342.6,2283.1 344.3,2294.4 346,2300.3 347.7,2305.1 349.5,2313.2 351.2,2305.2 352.9,2291.5 354.6,2324.6 356.4,2317.9 358.1,2316.6 359.8,2323.5 361.5,2297.5 363.2,2310.4 365,2310.8 366.7,2329.4 368.4,2307.8 370.1,2318 371.9,2337.9 373.6,2331 375.3,2322.5 377,2365.1 378.8,2316.3 380.5,2335.4 382.2,2330.1 383.9,2338.8 385.7,2332.5 387.4,2328.3 389.1,2339.9 390.8,2326 392.6,2345.4 394.3,2338.1 396,2351.4 397.7,2338.8 399.5,2337.5 401.2,2348.9 402.9,2357.9 404.6,2326 406.4,2348.2 408.1,2360 409.8,2334 411.5,2339.7 413.3,2355.1 415,2340.8 416.7,2336.6 418.4,2366 420.2,2330.6 421.9,2332.2 423.6,2303.5 425.3,2338.2 427.1,2336.7 428.8,2365.7 430.5,2360.6 432.2,2336 434,2367.7 435.7,2355.7 437.4,2346.2 439.1,2355.7 440.9,2351.3 442.6,2332.3 444.3,2329.7 446,2337.8 447.8,2346.5 449.5,2342.8 451.2,2338.7 452.9,2355.3 454.7,2324.5 456.4,2353.9 458.1,2340 459.8,2345.5 461.6,2333.1 463.3,2343.7 465,2335.7 466.7,2325.9 468.4,2342.5 470.2,2341.9 471.9,2350.2 473.6,2344.5 475.3,2331.3 477.1,2329 478.8,2291.7 480.5,2329.2 482.2,2352.7 484,2354.5 485.7,2346.8 487.4,2344.9 489.1,2344.4 490.9,2343 492.6,2320.8 494.3,2329 496,2349 497.8,2348.6 499.5,2339.1 501.2,2330.3 502.9,2332.3 504.7,2325.2 506.4,2326.5 508.1,2297.4 509.8,2336.6 511.6,2330.5 513.3,2332.6 515,2351.4 516.7,2340.1 518.5,2327.1 520.2,2339.6 521.9,2318.8 523.6,2343.8 525.4,2335.8 527.1,2331.1 528.8,2338.4 530.5,2347 532.3,2327.8 534,2322.4 535.7,2352.9 537.4,2332 539.2,2346.4 540.9,2324.7 542.6,2335 544.3,2324.7 546.1,2343.4 547.8,2327.9 549.5,2323.8 551.2,2345.6 553,2333.4 554.7,2309.8 556.4,2327.4 558.1,2320.4 559.9,2317.3 561.6,2323.4 563.3,2324.2 565,2329.5 566.8,2320.7 568.5,2291.6 570.2,2322.9 571.9,2336.8 573.6,2314.4 575.4,2333.8 577.1,2332.1 578.8,2322.9 580.5,2330.2 582.3,2319.6 584,2322.9 585.7,2316.5 587.4,2331.1 589.2,2353.5 590.9,2319.4 592.6,2337.8 594.3,2304.6 596.1,2316.8 597.8,2305.4 599.5,2342.4 601.2,2319.3 603,2332.7 604.7,2304.4 606.4,2325.8 608.1,2330.1 609.9,2323.9 611.6,2297 613.3,2325.7 615,2331.9 616.8,2336.8 618.5,2327.4 620.2,2306.5 621.9,2319 623.7,2332 625.4,2314.7 627.1,2328.3 628.8,2317.7 630.6,2323.2 632.3,2329.7 634,2314.9 635.7,2350.4 637.5,2323.2 639.2,2324.9 640.9,2314 642.6,2321.8 644.4,2318.4 646.1,2306.3 647.8,2305.4 649.5,2323.4 651.3,2319.5 653,2294 654.7,2298.7 656.4,2316.9 658.2,2319.1 659.9,2325.7 661.6,2307.1 663.3,2325.3 665.1,2316.1 666.8,2308.9 668.5,2316.1 670.2,2328.6 672,2324.2 673.7,2327.4 675.4,2311.5 677.1,2315.4 678.9,2306.5 680.6,2312.4 682.3,2313.9 684,2313.1 685.7,2324.7 687.5,2321.7 689.2,2324.9 690.9,2318.5 692.6,2327.8 694.4,2318.1 696.1,2326.5 697.8,2321.8 699.5,2331.3 701.3,2315.9 703,2304 704.7,2301.8 706.4,2355.3 708.2,2319.9 709.9,2320.3 711.6,2314.1 713.3,2306.5 715.1,2344.2 716.8,2304.2 718.5,2314.6 720.2,2314.6 722,2303.7 723.7,2302.2 725.4,2307.7 727.1,2311.2 728.9,2309.7 730.6,2322.5 732.3,2302.5 734,2318.2 735.8,2328.7 737.5,2322.8 739.2,2302.4 740.9,2284.2 742.7,2322 744.4,2318.4 746.1,2307.5 747.8,2326.1 749.6,2309.1 751.3,2314.2 753,2302.6 754.7,2319.3 756.5,2308.5 758.2,2307.7 759.9,2323.4 761.6,2314.7 763.4,2297.5 765.1,2319.3 766.8,2320.7 768.5,2304 770.3,2308.3 772,2312.7 773.7,2309.7 775.4,2313.4 777.2,2318.6 778.9,2307.1 780.6,2332.8 782.3,2304.9 784.1,2306.6 785.8,2331.7 787.5,2335.9 789.2,2312.4 790.9,2310.2 792.7,2301.4 794.4,2323.7 796.1,2314.1 797.8,2304.1 799.6,2316.8 801.3,2326.6 803,2320 804.7,2335.4 806.5,2325.2 808.2,2318.3 809.9,2313.8 811.6,2319.9 813.4,2326.9 815.1,2323.6 816.8,2325.9 818.5,2317.9 820.3,2323.7 822,2328.5 823.7,2315 825.4,2304.1 827.2,2334.7 828.9,2323.6 830.6,2313.7 832.3,2320.8 834.1,2313.9 835.8,2302.2 837.5,2317.8 839.2,2305.7 841,2322.3 842.7,2319.6 844.4,2332.3 846.1,2320.1 847.9,2325.4 849.6,2319 851.3,2318.5 853,2308.6 854.8,2332.8 856.5,2324.9 858.2,2317.6 859.9,2325.7 861.7,2315.6 863.4,2316.8 865.1,2326.8 866.8,2336.6 868.6,2321.9 870.3,2310.5 872,2318.7 873.7,2342.9 875.5,2316.9 877.2,2336.9 878.9,2322.6 880.6,2332.4 882.4,2323.9 884.1,2309.2 885.8,2320.8 887.5,2367.1 889.3,2323.5 891,2330.4 892.7,2318 894.4,2323.4 896.2,2331.1 897.9,2329.3 899.6,2346.7 901.3,2324.2 903,2322.5 904.8,2317.6 906.5,2311 908.2,2307.9 909.9,2330.5 911.7,2305.2 913.4,2337.8 915.1,2332.2 916.8,2317.6 918.6,2300.3 920.3,2323.6 922,2323.4 923.7,2334.3 925.5,2315.5 927.2,2319.1 928.9,2322.2 930.6,2317.1 932.4,2316.3 934.1,2305.3 935.8,2305.9 937.5,2315.4 939.3,2317.6 941,2332 942.7,2345 944.4,2338.9 946.2,2325.7 947.9,2359.2 949.6,2320.4 951.3,2316.2 953.1,2344.5 954.8,2310.7 956.5,2317.1 958.2,2316 960,2335.8 961.7,2315.2 963.4,2328.9 965.1,2317 966.9,2308.8 968.6,2323.4 970.3,2322.7 972,2309.5 973.8,2312.4 975.5,2313.2 977.2,2330.8 978.9,2325.9 980.7,2323.7 982.4,2326.3 984.1,2316.8 985.8,2326.4 987.6,2315.7 989.3,2308.6 991,2315.1 992.7,2324.4 994.5,2323.3 996.2,2333.2 997.9,2289.1 999.6,2320.8 1001.4,2327.2 1003.1,2313.9 1004.8,2326.2 1006.5,2319.9 1008.2,2312.9 1010,2335.7 1011.7,2310.8 1013.4,2335 1015.1,2321.1 1016.9,2316.1 1018.6,2308.2 1020.3,2318.7 1022,2317.9 1023.8,2329.4 1025.5,2308.3 1027.2,2352.1 1028.9,2335.9 1030.7,2341.8 1032.4,2318.4 1034.1,2305.3 1035.8,2322.5 1037.6,2327.4 1039.3,2332.4 1041,2324.5 1042.7,2329.1 1044.5,2331.8 1046.2,2315.1 1047.9,2348.9 1049.6,2319.9 1051.4,2334.1 1053.1,2342.5 1054.8,2324.2 1056.5,2332.3 1058.3,2348.8 1060,2330 1061.7,2343.5 1063.4,2336.2 1065.2,2335.8 1066.9,2340.9 1068.6,2331.7 1070.3,2332.2 1072.1,2344.2 1073.8,2337.4 1075.5,2345.1 1077.2,2323.4 1079,2335.8 1080.7,2348 1082.4,2345.2 1084.1,2339.9 1085.9,2331.5 1087.6,2330.9 1089.3,2341.7 1091,2351.7 1092.8,2338.3 1094.5,2351.2 1096.2,2335.4 1097.9,2350.7 1099.7,2329 1101.4,2341.1 1103.1,2328.9 1104.8,2346.4 1106.6,2345.8 1108.3,2330.9 1110,2333.2 1111.7,2332.3 1113.4,2326.4 1115.2,2332.3 1116.9,2333.2 1118.6,2349.9 1120.3,2356.2 1122.1,2338.2 1123.8,2340 1125.5,2345.3 1127.2,2338.2 1129,2340.9 1130.7,2360.8 1132.4,2346.5 1134.1,2343.6 1135.9,2339 1137.6,2359.7 1139.3,2339.1 1141,2346.7 1142.8,2335.4 1144.5,2340 1146.2,2347.1 1147.9,2342.4 1149.7,2351.9 1151.4,2347.5 1153.1,2333.2 1154.8,2324.2 1156.6,2357.4 1158.3,2341.8 1160,2362.6 1161.7,2348.1 1163.5,2340.6 1165.2,2354 1166.9,2345.9 1168.6,2348.9 1170.4,2339.6 1172.1,2362 1173.8,2360.2 1175.5,2344.2 1177.3,2367.4 1179,2344.1 1180.7,2352.4 1182.4,2333.8 1184.2,2331.1 1185.9,2371.4 1187.6,2364.8 1189.3,2362.2 1191.1,2333.9 1192.8,2353.3 1194.5,2355.4 1196.2,2352.2 1198,2354.5 1199.7,2342.5 1201.4,2350.2 1203.1,2340.6 1204.9,2348.6 1206.6,2356 1208.3,2344.6 1210,2349.8 1211.8,2348.4 1213.5,2353 1215.2,2362.2 1216.9,2355.6 1218.7,2357.3 1220.4,2339.1 1222.1,2350 1223.8,2362 1225.5,2345.4 1227.3,2349.8 1229,2344.6 1230.7,2367.8 1232.4,2350.1 1234.2,2347.5 1235.9,2361.2 1237.6,2366.2 1239.3,2360.3 1241.1,2365.3 1242.8,2357.8 1244.5,2354.6 1246.2,2351.7 1248,2351.2 1249.7,2350.5 1251.4,2364.1 1253.1,2355.7 1254.9,2357.9 1256.6,2363.2 1258.3,2356.8 1260,2343.9 1261.8,2349.8 1263.5,2346.7 1265.2,2339 1266.9,2359.3 1268.7,2346.4 1270.4,2345.8 1272.1,2348 1273.8,2367.7 1275.6,2356 1277.3,2369.3 1279,2357.7 1280.7,2355.3 1282.5,2365.5 1284.2,2366 1285.9,2362.6 1287.6,2350 1289.4,2356 1291.1,2349 1292.8,2358.4 1294.5,2363.1 1296.3,2376.2 1298,2375.7 1299.7,2368.5 1301.4,2371.5 1303.2,2364.5 1304.9,2390.1 1306.6,2377.9 1308.3,2389.3 1310.1,2366.9 1311.8,2367.5 1313.5,2374.1 1315.2,2365.8 1317,2367.3 1318.7,2354.5 1320.4,2374.1 1322.1,2366.3 1323.9,2373.4 1325.6,2363.4 1327.3,2348.1 1329,2371.2 1330.7,2378.2 1332.5,2354.1 1334.2,2357.5 1335.9,2364.5 1337.6,2365.4 1339.4,2351.3 1341.1,2386.3 1342.8,2379.4 1344.5,2363.8 1346.3,2352.5 1348,2375 1349.7,2392 1351.4,2381.3 1353.2,2385.5 1354.9,2365.5 1356.6,2378.1 1358.3,2361.8 1360.1,2397.5 1361.8,2384.4 1363.5,2358.6 1365.2,2362.2 1367,2386.4 1368.7,2383.8 1370.4,2380.2 1372.1,2390.3 1373.9,2405 1375.6,2389.3 1377.3,2368.2 1379,2385.2 1380.8,2374.2 1382.5,2379.6 1384.2,2391.2 1385.9,2386.5 1387.7,2377.8 1389.4,2388.4 1391.1,2380.7 1392.8,2394.3 1394.6,2386.7 1396.3,2393.2 1398,2386.7 1399.7,2397 1401.5,2388.3 1403.2,2389.6 1404.9,2384.2 1406.6,2392.7 1408.4,2372.3 1410.1,2416.8 1411.8,2383.5 1413.5,2391.4 1415.3,2385.8 1417,2385.7 1418.7,2394.8 1420.4,2385.8 1422.2,2386.7 1423.9,2377.4 1425.6,2382.1 1427.3,2379.8 1429.1,2409.7 1430.8,2378.6 1432.5,2381.5 1434.2,2394.4 1435.9,2407.1 1437.7,2376.2 1439.4,2378 1441.1,2395.1 1442.8,2397.6 1444.6,2380.5 1446.3,2377.1 1448,2376.2 1449.7,2403.5 1451.5,2396.1 1453.2,2404.5 1454.9,2396.5 1456.6,2397.8 1458.4,2404.9 1460.1,2398.1 1461.8,2402.3 1463.5,2391.4 1465.3,2395.1 1467,2406.5 1468.7,2397.4 1470.4,2395.6 1472.2,2410.3 1473.9,2409.9 1475.6,2405.1 1477.3,2398.2 1479.1,2415.5 1480.8,2432.2 1482.5,2399.7 1484.2,2393.2 1486,2401.6 1487.7,2400.7 1489.4,2398.1 1491.1,2399.7 1492.9,2420.7 1494.6,2421.5 1496.3,2428.5 1498,2429.1 1499.8,2410.3 1501.5,2426.6 1503.2,2410.4 1504.9,2413.7 1506.7,2406.1 1508.4,2430.8 1510.1,2429.3 1511.8,2415.2 1513.6,2417.4 1515.3,2421.5 1517,2423.8 1518.7,2430.8 1520.5,2423.6 1522.2,2427.5 1523.9,2409.1 1525.6,2421.7 1527.4,2407.3 1529.1,2443.7 1530.8,2454.1 1532.5,2434.2 1534.3,2438.7 1536,2448.2 1537.7,2438.2 1539.4,2413.4 1541.2,2427.9 1542.9,2383.2 1544.6,2423 1546.3,2419.3 1548,2432.2 1549.8,2436.8 1551.5,2424.2 1553.2,2431.2 1554.9,2437.4 1556.7,2433.6 1558.4,2434 1560.1,2412.3 1561.8,2432.5 1563.6,2445.4 1565.3,2440.7 1567,2423.9 1568.7,2436.5 1570.5,2442.5 1572.2,2430.7 1573.9,2447.7 1575.6,2433.5 1577.4,2438.8 1579.1,2441.6 1580.8,2465.5 1582.5,2440.6 1584.3,2438.6 1586,2452 1587.7,2440.7 1589.4,2447.9 1591.2,2423.9 1592.9,2450 1594.6,2447.4 1596.3,2435.2 1598.1,2462.2 1599.8,2446.7 1601.5,2447.7 1603.2,2437 1605,2434.4 1606.7,2445.4 1608.4,2436.4 1610.1,2457 1611.9,2461.3 1613.6,2446.7 1615.3,2437.4 1617,2450.1 1618.8,2443.8 1620.5,2456.6 1622.2,2457.1 1623.9,2446.9 1625.7,2456.9 1627.4,2477 1629.1,2474.1 1630.8,2452.2 1632.6,2465.1 1634.3,2455.9 1636,2448 1637.7,2471.8 1639.5,2463.3 1641.2,2461.2 1642.9,2463.7 1644.6,2458.9 1646.4,2450.4 1648.1,2479 1649.8,2470.6 1651.5,2464.6 1653.2,2472 1655,2475.6 1656.7,2461.1 1658.4,2469.4 1660.1,2460.6 1661.9,2470.7 1663.6,2462 1665.3,2489.3 1667,2461.8 1668.8,2470.9 1670.5,2470.7 1672.2,2459.4 1673.9,2476.2 1675.7,2466.4 1677.4,2463.5 1679.1,2468 1680.8,2460.9 1682.6,2480.8 1684.3,2475.5 1686,2479.5 1687.7,2456.6 1689.5,2473.2 1691.2,2463.2 1692.9,2472.2 1694.6,2496.9 1696.4,2474.8 1698.1,2468.8 1699.8,2484.4 1701.5,2483.8 1703.3,2492.6 1705,2456 1706.7,2478.4 1708.4,2471.5 1710.2,2467.5 1711.9,2477.9 1713.6,2465.7 1715.3,2455.6 1717.1,2460 1718.8,2476.5 1720.5,2498.4 1722.2,2473.1 1724,2469.3 1725.7,2461.8 1727.4,2478.8 1729.1,2480.5 1730.9,2485.1 1732.6,2469.8 1734.3,2477.4 1736,2463 1737.8,2489.3 1739.5,2471.4 1741.2,2432.4 1742.9,2500.1 1744.7,2494.3 1746.4,2493.5 1748.1,2497.3 1749.8,2481.1 1751.6,2502.9 1753.3,2482.4 1755,2512.7 1756.7,2496.6 1758.5,2476.6 1760.2,2504.5 1761.9,2516.3 1763.6,2494.7 1765.3,2508.7 1767.1,2496.6 1768.8,2493.2 1770.5,2474.3 1772.2,2513.2 1774,2497.1 1775.7,2506.1 1777.4,2491.6 1779.1,2494.6 1780.9,2515.5 1782.6,2501.1 1784.3,2501.7 1786,2493.7 1787.8,2509.1 1789.5,2515.4 1791.2,2503.6 1792.9,2507 1794.7,2497.2 1796.4,2524.1 1798.1,2504.4 1799.8,2509.6 1801.6,2528.6 1803.3,2510 1805,2497.3 1806.7,2494.5 1808.5,2506.4 1810.2,2532.4 1811.9,2517.3 1813.6,2513.4 1815.4,2524.5 1817.1,2529.8 1818.8,2509.6 1820.5,2532.2 1822.3,2526.9 1824,2523.3 1825.7,2495.6 1827.4,2523.5 1829.2,2534.4 1830.9,2515.1 1832.6,2544.6 1834.3,2522.6 1836.1,2512.2 1837.8,2528.8 1839.5,2526.3 1841.2,2532.2 1843,2522.1 1844.7,2537.9 1846.4,2519.7 1848.1,2527.1 1849.9,2513.7 1851.6,2518.7 1853.3,2529.2 1855,2521 1856.8,2523.6 1858.5,2526.5 1860.2,2531.5 1861.9,2537.2 1863.7,2537.6 1865.4,2540.6 1867.1,2532.8" fill="none" stroke="#008000" stroke-width="5.5" stroke-linejoin="miter" stroke-miterlimit="3"/>
<path d="M123 1931L142.5 1910.5L162 1931L142.5 1951.5Z" fill="#008000"/>
<path d="M215 2117.5L234.5 2097L254 2117.5L234.5 2138Z" fill="#008000"/>
<path d="M307 2272L326.5 2251.5L346 2272L326.5 2292.5Z" fill="#008000"/>
<path d="M398.9 2349L418.4 2328.5L437.9 2349L418.4 2369.5Z" fill="#008000"/>
<path d="M490.9 2335L510.4 2314.5L529.9 2335L510.4 2355.5Z" fill="#008000"/>
<path d="M582.9 2325L602.4 2304.5L621.9 2325L602.4 2345.5Z" fill="#008000"/>
<path d="M674.9 2317L694.4 2296.5L713.9 2317L694.4 2337.5Z" fill="#008000"/>
<path d="M766.9 2306.7L786.4 2286.2L805.9 2306.7L786.4 2327.2Z" fill="#008000"/>
<path d="M858.8 2325L878.3 2304.5L897.8 2325L878.3 2345.5Z" fill="#008000"/>
<path d="M950.8 2321L970.3 2300.5L989.8 2321L970.3 2341.5Z" fill="#008000"/>
<path d="M1042.8 2341L1062.3 2320.5L1081.8 2341L1062.3 2361.5Z" fill="#008000"/>
<path d="M1134.8 2360L1154.3 2339.5L1173.8 2360L1154.3 2380.5Z" fill="#008000"/>
<path d="M1226.7 2351L1246.2 2330.5L1265.7 2351L1246.2 2371.5Z" fill="#008000"/>
<path d="M1318.7 2368L1338.2 2347.5L1357.7 2368L1338.2 2388.5Z" fill="#008000"/>
<path d="M1410.7 2392L1430.2 2371.5L1449.7 2392L1430.2 2412.5Z" fill="#008000"/>
<path d="M1502.7 2423.8L1522.2 2403.3L1541.7 2423.8L1522.2 2444.3Z" fill="#008000"/>
<path d="M1594.7 2453.6L1614.2 2433.1L1633.7 2453.6L1614.2 2474.1Z" fill="#008000"/>
<path d="M1686.6 2475.4L1706.1 2454.9L1725.6 2475.4L1706.1 2495.9Z" fill="#008000"/>
<path d="M1778.6 2511L1798.1 2490.5L1817.6 2511L1798.1 2531.5Z" fill="#008000"/>
</g>
<rect x="142.5" y="1651.7" width="1724.6" height="1266.4" fill="none" stroke="#000" stroke-width="6"/>
<line x1="142.5" y1="2918.1" x2="142.5" y2="2946.6" stroke="#000" stroke-width="6"/>
<text transform="translate(139.9 3010.6) scale(1 1.03)" font-size="62" text-anchor="middle">400</text>
<line x1="429.9" y1="2918.1" x2="429.9" y2="2946.6" stroke="#000" stroke-width="6"/>
<text transform="translate(427.8 3010.6) scale(1 1.03)" font-size="62" text-anchor="middle">425</text>
<line x1="717.4" y1="2918.1" x2="717.4" y2="2946.6" stroke="#000" stroke-width="6"/>
<text transform="translate(715.6 3010.6) scale(1 1.03)" font-size="62" text-anchor="middle">450</text>
<line x1="1004.8" y1="2918.1" x2="1004.8" y2="2946.6" stroke="#000" stroke-width="6"/>
<text transform="translate(1003.5 3010.6) scale(1 1.03)" font-size="62" text-anchor="middle">475</text>
<line x1="1292.2" y1="2918.1" x2="1292.2" y2="2946.6" stroke="#000" stroke-width="6"/>
<text transform="translate(1291.4 3010.6) scale(1 1.03)" font-size="62" text-anchor="middle">500</text>
<line x1="1579.7" y1="2918.1" x2="1579.7" y2="2946.6" stroke="#000" stroke-width="6"/>
<text transform="translate(1579.2 3010.6) scale(1 1.03)" font-size="62" text-anchor="middle">525</text>
<line x1="1867.1" y1="2918.1" x2="1867.1" y2="2946.6" stroke="#000" stroke-width="6"/>
<text transform="translate(1867.1 3010.6) scale(1 1.03)" font-size="62" text-anchor="middle">550</text>
<line x1="286.2" y1="2918.1" x2="286.2" y2="2934.6" stroke="#000" stroke-width="5"/>
<line x1="573.6" y1="2918.1" x2="573.6" y2="2934.6" stroke="#000" stroke-width="5"/>
<line x1="861.1" y1="2918.1" x2="861.1" y2="2934.6" stroke="#000" stroke-width="5"/>
<line x1="1148.5" y1="2918.1" x2="1148.5" y2="2934.6" stroke="#000" stroke-width="5"/>
<line x1="1436" y1="2918.1" x2="1436" y2="2934.6" stroke="#000" stroke-width="5"/>
<line x1="1723.4" y1="2918.1" x2="1723.4" y2="2934.6" stroke="#000" stroke-width="5"/>
<text x="1006.5" y="3099" font-size="92.6" text-anchor="middle">Wavelength (nm)</text>
<text transform="translate(102 2314.5) rotate(-90)" font-size="92.6" text-anchor="middle">Intensity (a.u.)</text>
<text x="150.5" y="1744" font-size="92">(b)</text>
<rect x="1442.5" y="1662.4" width="404.5" height="425.3" fill="#fff" stroke="#000" stroke-width="2.5"/>
<line x1="1478.6" y1="1714.6" x2="1636.8" y2="1714.6" stroke="#000000" stroke-width="5"/>
<rect x="1543" y="1700.1" width="29" height="29" fill="#000000"/>
<text x="1648.6" y="1738.1" font-size="60" textLength="144" lengthAdjust="spacingAndGlyphs">seed</text>
<line x1="1478.6" y1="1797.9" x2="1636.8" y2="1797.9" stroke="#ff0000" stroke-width="5"/>
<circle cx="1557.5" cy="1797.9" r="15.5" fill="#ff0000"/>
<text x="1648.6" y="1821.4" font-size="60" textLength="178.5" lengthAdjust="spacingAndGlyphs">60min</text>
<line x1="1478.6" y1="1881.5" x2="1636.8" y2="1881.5" stroke="#0000ff" stroke-width="5"/>
<path d="M1538 1892.5L1577 1892.5L1557.5 1860.5Z" fill="#0000ff"/>
<text x="1648.6" y="1905" font-size="60" textLength="178.5" lengthAdjust="spacingAndGlyphs">30min</text>
<line x1="1478.6" y1="1965.2" x2="1636.8" y2="1965.2" stroke="#ff00ff" stroke-width="5"/>
<path d="M1538 1954.2L1577 1954.2L1557.5 1986.2Z" fill="#ff00ff"/>
<text x="1648.6" y="1988.7" font-size="60" textLength="178.5" lengthAdjust="spacingAndGlyphs">20min</text>
<line x1="1478.6" y1="2048.4" x2="1636.8" y2="2048.4" stroke="#008000" stroke-width="5"/>
<path d="M1538 2048.4L1557.5 2027.9L1577 2048.4L1557.5 2068.9Z" fill="#008000"/>
<text x="1648.6" y="2071.9" font-size="60" textLength="178.5" lengthAdjust="spacingAndGlyphs">10min</text>
</svg>
</body></html>
